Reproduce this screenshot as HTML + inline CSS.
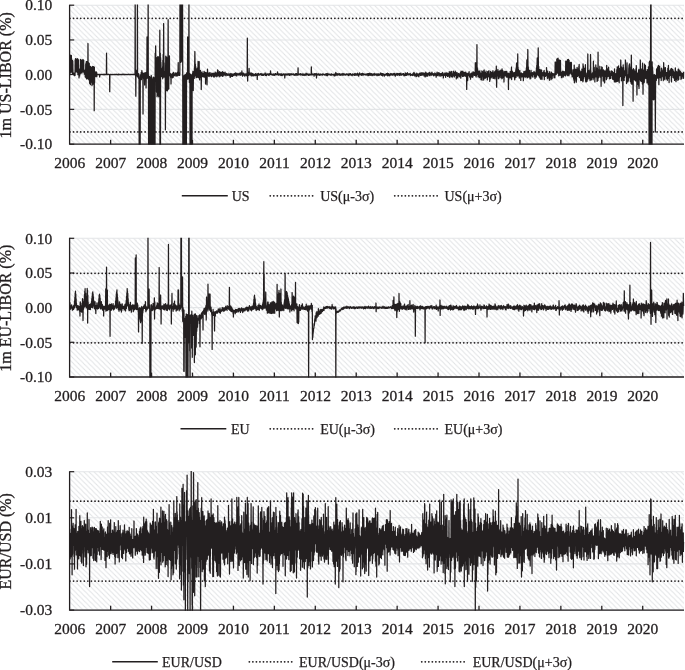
<!DOCTYPE html>
<html lang="en">
<head>
<meta charset="utf-8">
<title>LIBOR and EUR/USD daily changes</title>
<style>
html,body{margin:0;padding:0;background:#fff;}
body{width:685px;height:670px;overflow:hidden;}
svg{display:block;}
.t{font-family:"Liberation Serif", "DejaVu Serif", serif;font-size:15.5px;fill:#231f20;stroke:#231f20;stroke-width:0.3px;}
.y{font-family:"Liberation Serif", "DejaVu Serif", serif;font-size:16px;fill:#231f20;stroke:#231f20;stroke-width:0.3px;}
.l{font-family:"Liberation Serif", "DejaVu Serif", serif;font-size:14px;fill:#231f20;stroke:#231f20;stroke-width:0.25px;}
</style>
</head>
<body>
<svg width="685" height="670" viewBox="0 0 685 670">
<defs>
<pattern id="hatch" patternUnits="userSpaceOnUse" width="5.15" height="5.15" x="3.4" y="0">
<path d="M-1 -1L6.15 6.15M-1 4.15L1 6.15M4.15 -1L6.15 1" stroke="#e1e3e5" stroke-width="1.05" fill="none"/>
</pattern>
</defs>
<rect width="685" height="670" fill="#fff"/>
<g id="panel1">
<clipPath id="clip1"><rect x="69.6" y="4.60" width="615.40" height="140.20"/></clipPath>
<rect x="69.6" y="5.20" width="614.40" height="139.00" fill="url(#hatch)"/>
<line x1="69.6" x2="684.0" y1="5.20" y2="5.20" stroke="#e3e5e7" stroke-width="1.1"/>
<line x1="69.6" x2="684.0" y1="39.95" y2="39.95" stroke="#e3e5e7" stroke-width="1.1"/>
<line x1="69.6" x2="684.0" y1="74.50" y2="74.50" stroke="#e3e5e7" stroke-width="1.1"/>
<line x1="69.6" x2="684.0" y1="109.35" y2="109.35" stroke="#e3e5e7" stroke-width="1.1"/>
<line x1="69.6" x2="684.0" y1="144.20" y2="144.20" stroke="#e3e5e7" stroke-width="1.1"/>
<line x1="69.95" x2="682.80" y1="18.30" y2="18.30" stroke="#231f20" stroke-width="1.75" stroke-linecap="round" stroke-dasharray="0.01 3.57"/>
<line x1="69.95" x2="682.80" y1="131.90" y2="131.90" stroke="#231f20" stroke-width="1.75" stroke-linecap="round" stroke-dasharray="0.01 3.57"/>
<path d="M69.90 75.33L70.06 57.01L70.22 72.59L70.38 55.21L70.54 72.28L70.70 56.78L70.86 69.28L71.02 56.20L71.18 71.93L71.34 55.26L71.50 59.93L71.66 71.63L71.82 60.29L71.98 72.61L72.14 60.01L72.30 72.72L72.46 60.39L72.62 73.77L72.78 61.01L72.94 70.42L73.10 74.37L73.26 74.30L73.42 74.73L73.58 74.54L73.74 74.13L73.90 73.57L74.06 73.02L74.22 74.22L74.38 75.71L74.54 73.55L74.70 75.46L74.86 74.62L75.02 75.49L75.18 59.88L75.34 72.28L75.50 58.51L75.66 70.53L75.82 59.32L75.98 71.62L76.14 59.26L76.30 70.54L76.46 59.63L76.62 70.59L76.78 59.65L76.94 71.63L77.10 58.65L77.26 72.47L77.42 58.91L77.58 72.29L77.74 58.99L77.90 74.70L78.06 59.38L78.22 69.55L78.38 59.90L78.54 69.09L78.70 74.58L78.86 69.06L79.02 77.91L79.18 69.29L79.34 73.18L79.50 69.18L79.66 75.97L79.82 69.89L79.98 73.12L80.14 69.17L80.30 73.81L80.46 59.32L80.62 69.32L80.78 59.90L80.94 71.95L81.10 61.15L81.26 72.89L81.42 60.93L81.58 72.54L81.74 61.03L81.90 73.04L82.06 59.76L82.22 71.23L82.38 60.21L82.54 69.66L82.70 61.06L82.86 71.90L83.02 59.68L83.18 71.95L83.34 60.83L83.50 70.64L83.66 60.42L83.82 70.05L83.98 72.45L84.14 70.11L84.30 74.03L84.46 70.41L84.62 72.36L84.78 70.41L84.94 74.52L85.10 70.45L85.26 76.97L85.42 70.20L85.58 74.40L85.74 63.97L85.90 77.73L86.06 62.76L86.22 76.07L86.38 61.71L86.54 78.87L86.70 61.75L86.86 75.21L87.02 61.71L87.18 78.26L87.34 61.98L87.50 76.58L87.66 63.40L87.82 77.68L87.98 43.50L88.14 79.08L88.30 63.96L88.46 78.73L88.62 62.60L88.78 78.23L88.94 63.24L89.10 80.03L89.26 63.44L89.42 74.30L89.58 83.30L89.74 74.63L89.90 71.15L90.06 75.63L90.22 66.63L90.38 84.68L90.54 66.26L90.70 80.77L90.86 67.29L91.02 81.11L91.18 67.43L91.34 81.70L91.50 68.41L91.66 82.60L91.82 68.08L91.98 85.67L92.14 67.15L92.30 84.61L92.46 67.26L92.62 82.40L92.78 66.32L92.94 83.95L93.10 68.35L93.26 84.13L93.42 66.81L93.58 83.15L93.74 66.91L93.90 82.35L94.06 67.97L94.22 110.70L94.38 67.23L94.54 83.07L94.70 74.16L94.86 75.23L95.02 76.68L95.18 72.75L95.34 72.07L95.50 76.39L95.66 72.11L95.82 74.42L95.98 72.11L96.14 75.58L96.30 72.19L96.46 76.10L96.62 72.19L96.78 76.70L96.94 74.75L97.10 74.42L97.26 74.79L97.42 74.62L97.58 74.34L97.74 74.28L97.90 74.66L98.06 74.71L98.22 74.38L98.38 74.38L98.54 74.63L98.70 74.59L98.86 74.59L99.02 74.66L99.18 74.59L99.34 74.33L99.50 74.41L99.66 77.00L99.82 74.51L99.98 74.52L100.14 74.63L100.30 74.52L100.46 74.68L100.62 74.74L100.78 74.41L100.94 74.31L101.10 74.39L101.26 74.32L101.42 74.47L101.58 74.60L101.74 74.49L101.90 74.55L102.06 74.65L102.22 74.73L102.38 74.70L102.54 74.50L102.70 74.48L102.86 74.56L103.02 74.31L103.18 74.48L103.34 74.42L103.50 74.34L103.66 74.61L103.82 74.77L103.98 74.40L104.14 74.59L104.30 74.32L104.46 74.45L104.62 74.36L104.78 74.40L104.94 74.78L105.10 74.40L105.26 74.59L105.42 74.60L105.58 74.56L105.74 74.40L105.90 74.38L106.06 74.36L106.22 74.72L106.38 74.58L106.54 53.20L106.70 74.51L106.86 74.42L107.02 74.60L107.18 74.47L107.34 74.47L107.50 74.36L107.66 74.61L107.82 74.61L107.98 74.60L108.14 74.26L108.30 74.35L108.46 74.52L108.62 74.47L108.78 74.48L108.94 74.47L109.10 74.53L109.26 74.55L109.42 74.67L109.58 74.59L109.74 91.70L109.90 74.43L110.06 74.49L110.22 74.53L110.38 74.49L110.54 74.45L110.70 74.59L110.86 74.47L111.02 74.47L111.18 74.60L111.34 74.61L111.50 74.63L111.66 74.64L111.82 74.38L111.98 74.82L112.14 74.54L112.30 74.58L112.46 74.58L112.62 74.49L112.78 74.35L112.94 74.49L113.10 74.52L113.26 74.58L113.42 74.52L113.58 74.38L113.74 74.55L113.90 74.65L114.06 74.67L114.22 74.65L114.38 74.69L114.54 74.35L114.70 74.45L114.86 74.53L115.02 74.30L115.18 74.59L115.34 74.40L115.50 74.39L115.66 74.71L115.82 74.71L115.98 74.63L116.14 74.38L116.30 74.33L116.46 74.67L116.62 74.36L116.78 74.55L116.94 74.55L117.10 74.57L117.26 74.54L117.42 74.75L117.58 74.64L117.74 74.67L117.90 74.43L118.06 74.22L118.22 74.13L118.38 74.55L118.54 74.73L118.70 74.55L118.86 74.63L119.02 74.23L119.18 74.42L119.34 74.60L119.50 74.37L119.66 74.43L119.82 74.72L119.98 74.57L120.14 74.53L120.30 74.50L120.46 74.48L120.62 74.55L120.78 74.47L120.94 74.58L121.10 74.62L121.26 74.30L121.42 74.45L121.58 74.44L121.74 74.72L121.90 74.52L122.06 74.39L122.22 74.67L122.38 74.35L122.54 74.55L122.70 74.45L122.86 74.52L123.02 74.47L123.18 74.34L123.34 74.55L123.50 74.29L123.66 74.61L123.82 74.63L123.98 74.40L124.14 74.64L124.30 74.55L124.46 74.38L124.62 74.34L124.78 74.74L124.94 74.43L125.10 74.25L125.26 74.34L125.42 74.53L125.58 74.58L125.74 74.54L125.90 74.66L126.06 74.54L126.22 74.53L126.38 74.52L126.54 74.34L126.70 74.53L126.86 74.70L127.02 74.36L127.18 74.64L127.34 74.56L127.50 74.52L127.66 74.55L127.82 74.64L127.98 74.53L128.14 74.21L128.30 74.58L128.46 74.52L128.62 74.35L128.78 74.40L128.94 74.40L129.10 74.38L129.26 74.77L129.42 74.62L129.58 74.48L129.74 74.43L129.90 74.33L130.06 74.44L130.22 74.53L130.38 74.49L130.54 74.53L130.70 74.47L130.86 74.41L131.02 74.55L131.18 74.61L131.34 74.62L131.50 74.35L131.66 74.33L131.82 74.37L131.98 74.38L132.14 74.39L132.30 74.50L132.46 74.41L132.62 74.64L132.78 74.53L132.94 74.60L133.10 74.40L133.26 74.58L133.42 74.51L133.58 74.45L133.74 74.32L133.90 74.61L134.06 74.63L134.22 74.39L134.38 74.65L134.54 74.44L134.70 74.58L134.86 74.51L135.02 74.75L135.18 -6.80L135.34 74.57L135.50 74.87L135.66 73.13L135.82 96.20L135.98 70.14L136.14 73.95L136.30 75.13L136.46 74.35L136.62 72.33L136.78 74.55L136.94 73.89L137.10 73.80L137.26 76.18L137.42 -6.80L137.58 75.43L137.74 76.82L137.90 73.32L138.06 73.60L138.22 74.40L138.38 76.21L138.54 78.30L138.70 73.84L138.86 74.69L139.02 77.72L139.18 156.20L139.34 156.20L139.50 156.20L139.66 156.20L139.82 156.20L139.98 156.20L140.14 156.20L140.30 76.74L140.46 75.25L140.62 75.51L140.78 74.97L140.94 74.14L141.10 73.66L141.26 72.29L141.42 79.65L141.58 73.96L141.74 74.90L141.90 70.50L142.06 73.24L142.22 77.86L142.38 73.96L142.54 75.56L142.70 73.16L142.86 76.67L143.02 114.00L143.18 74.77L143.34 74.70L143.50 75.72L143.66 78.34L143.82 73.88L143.98 73.15L144.14 74.64L144.30 76.65L144.46 74.23L144.62 85.00L144.78 74.87L144.94 74.53L145.10 72.60L145.26 76.90L145.42 75.70L145.58 78.61L145.74 76.02L145.90 76.11L146.06 88.00L146.22 76.02L146.38 72.07L146.54 74.93L146.70 74.75L146.86 71.53L147.02 36.90L147.18 78.35L147.34 73.96L147.50 76.59L147.66 72.29L147.82 77.29L147.98 75.81L148.14 -6.80L148.30 74.37L148.46 76.81L148.62 156.20L148.78 76.72L148.94 156.20L149.10 77.09L149.26 156.20L149.42 76.46L149.58 156.20L149.74 79.10L149.90 156.20L150.06 79.39L150.22 156.20L150.38 77.31L150.54 156.20L150.70 77.01L150.86 156.20L151.02 75.96L151.18 156.20L151.34 75.56L151.50 156.20L151.66 77.12L151.82 156.20L151.98 77.57L152.14 156.20L152.30 80.28L152.46 156.20L152.62 80.05L152.78 156.20L152.94 80.58L153.10 156.20L153.26 78.56L153.42 156.20L153.58 77.19L153.74 156.20L153.90 78.73L154.06 156.20L154.22 79.53L154.38 156.20L154.54 77.54L154.70 156.20L154.86 80.05L155.02 156.20L155.18 53.42L155.34 77.40L155.50 55.94L155.66 45.90L155.82 58.54L155.98 76.29L156.14 61.50L156.30 59.14L156.46 91.63L156.62 58.80L156.78 92.52L156.94 57.70L157.10 96.69L157.26 58.74L157.42 95.43L157.58 56.89L157.74 94.78L157.90 56.67L158.06 92.33L158.22 56.73L158.38 91.15L158.54 61.17L158.70 96.79L158.86 58.10L159.02 76.00L159.18 76.73L159.34 67.92L159.50 73.52L159.66 61.11L159.82 30.20L159.98 156.20L160.14 76.69L160.30 53.05L160.46 156.20L160.62 57.64L160.78 76.62L160.94 62.49L161.10 76.29L161.26 68.28L161.42 76.36L161.58 76.00L161.74 71.51L161.90 75.04L162.06 75.36L162.22 76.00L162.38 77.22L162.54 66.90L162.70 78.82L162.86 60.29L163.02 74.00L163.18 54.37L163.34 75.15L163.50 50.16L163.66 23.50L163.82 56.29L163.98 77.27L164.14 62.89L164.30 76.10L164.46 71.25L164.62 73.53L164.78 74.57L164.94 74.64L165.10 75.92L165.26 72.04L165.42 129.80L165.58 74.04L165.74 56.06L165.90 90.40L166.06 59.28L166.22 86.27L166.38 59.79L166.54 86.40L166.70 57.15L166.86 90.67L167.02 59.80L167.18 87.40L167.34 58.52L167.50 90.80L167.66 58.99L167.82 89.15L167.98 56.92L168.14 19.70L168.30 56.93L168.46 89.15L168.62 58.95L168.78 88.76L168.94 59.15L169.10 72.66L169.26 73.39L169.42 55.80L169.58 75.19L169.74 75.73L169.90 73.35L170.06 74.18L170.22 73.25L170.38 74.59L170.54 77.31L170.70 73.87L170.86 74.19L171.02 83.90L171.18 76.35L171.34 74.39L171.50 75.46L171.66 75.45L171.82 74.02L171.98 74.02L172.14 75.70L172.30 76.78L172.46 77.77L172.62 75.25L172.78 73.04L172.94 74.57L173.10 77.38L173.26 75.59L173.42 73.97L173.58 72.41L173.74 73.05L173.90 74.05L174.06 74.26L174.22 75.78L174.38 75.04L174.54 74.90L174.70 75.41L174.86 74.43L175.02 74.95L175.18 74.11L175.34 72.87L175.50 73.67L175.66 74.03L175.82 74.77L175.98 76.16L176.14 74.62L176.30 73.92L176.46 75.57L176.62 73.18L176.78 74.85L176.94 74.12L177.10 74.84L177.26 75.77L177.42 72.43L177.58 75.65L177.74 73.60L177.90 75.04L178.06 74.23L178.22 62.60L178.38 74.89L178.54 73.64L178.70 72.71L178.86 75.27L179.02 74.49L179.18 73.63L179.34 75.12L179.50 73.81L179.66 75.34L179.82 73.89L179.98 -6.80L180.14 60.87L180.30 -6.80L180.46 62.05L180.62 -6.80L180.78 62.28L180.94 -6.80L181.10 61.97L181.26 -6.80L181.42 61.14L181.58 -6.80L181.74 58.49L181.90 -6.80L182.06 60.97L182.22 -6.80L182.38 60.67L182.54 -6.80L182.70 60.64L182.86 156.20L183.02 78.00L183.18 156.20L183.34 77.70L183.50 156.20L183.66 79.74L183.82 156.20L183.98 75.63L184.14 156.20L184.30 79.75L184.46 156.20L184.62 75.46L184.78 156.20L184.94 78.02L185.10 156.20L185.26 74.48L185.42 156.20L185.58 78.34L185.74 156.20L185.90 78.15L186.06 156.20L186.22 74.55L186.38 156.20L186.54 75.06L186.70 72.89L186.86 75.90L187.02 73.25L187.18 78.00L187.34 72.48L187.50 78.32L187.66 36.90L187.82 79.28L187.98 71.93L188.14 75.49L188.30 78.59L188.46 75.12L188.62 73.86L188.78 77.09L188.94 -6.80L189.10 73.99L189.26 74.94L189.42 82.44L189.58 75.61L189.74 73.68L189.90 73.93L190.06 156.20L190.22 75.09L190.38 156.20L190.54 74.69L190.70 156.20L190.86 77.15L191.02 156.20L191.18 74.96L191.34 156.20L191.50 78.37L191.66 156.20L191.82 74.84L191.98 156.20L192.14 75.78L192.30 74.28L192.46 73.94L192.62 73.21L192.78 74.21L192.94 71.30L193.10 75.96L193.26 90.60L193.42 73.84L193.58 72.98L193.74 76.00L193.90 73.04L194.06 71.71L194.22 78.45L194.38 67.83L194.54 76.83L194.70 64.73L194.86 51.50L195.02 61.57L195.18 75.65L195.34 64.09L195.50 73.68L195.66 66.38L195.82 75.83L195.98 69.62L196.14 77.75L196.30 73.37L196.46 74.94L196.62 77.30L196.78 74.99L196.94 75.60L197.10 68.01L197.26 75.45L197.42 75.94L197.58 72.05L197.74 74.33L197.90 77.36L198.06 61.50L198.22 75.22L198.38 77.56L198.54 73.79L198.70 73.42L198.86 75.27L199.02 72.95L199.18 61.50L199.34 76.50L199.50 79.16L199.66 79.91L199.82 74.79L199.98 71.73L200.14 72.25L200.30 71.40L200.46 70.38L200.62 74.46L200.78 72.18L200.94 77.84L201.10 73.00L201.26 89.50L201.42 74.70L201.58 75.45L201.74 76.88L201.90 74.20L202.06 71.80L202.22 75.27L202.38 73.39L202.54 75.88L202.70 73.97L202.86 76.57L203.02 73.73L203.18 74.94L203.34 73.86L203.50 75.72L203.66 76.86L203.82 75.15L203.98 72.45L204.14 71.39L204.30 75.14L204.46 72.94L204.62 73.03L204.78 73.74L204.94 77.47L205.10 73.88L205.26 76.34L205.42 72.28L205.58 84.00L205.74 73.35L205.90 79.20L206.06 73.36L206.22 73.22L206.38 76.82L206.54 72.75L206.70 74.36L206.86 74.83L207.02 84.80L207.18 76.30L207.34 75.26L207.50 69.12L207.66 74.15L207.82 74.14L207.98 75.61L208.14 75.55L208.30 75.43L208.46 75.99L208.62 73.04L208.78 74.95L208.94 73.07L209.10 76.39L209.26 72.99L209.42 74.54L209.58 73.43L209.74 74.67L209.90 75.90L210.06 72.60L210.22 75.18L210.38 74.73L210.54 75.88L210.70 74.18L210.86 75.10L211.02 74.07L211.18 73.97L211.34 75.55L211.50 76.64L211.66 73.85L211.82 73.12L211.98 73.46L212.14 76.21L212.30 73.60L212.46 73.93L212.62 74.08L212.78 73.87L212.94 74.97L213.10 74.19L213.26 73.15L213.42 75.23L213.58 76.57L213.74 74.65L213.90 74.22L214.06 77.12L214.22 75.46L214.38 73.67L214.54 74.71L214.70 74.37L214.86 76.25L215.02 73.24L215.18 72.08L215.34 74.77L215.50 75.50L215.66 76.08L215.82 73.29L215.98 74.36L216.14 75.57L216.30 72.88L216.46 73.48L216.62 73.70L216.78 76.82L216.94 74.64L217.10 73.68L217.26 76.10L217.42 73.30L217.58 69.90L217.74 73.17L217.90 75.42L218.06 70.30L218.22 73.31L218.38 73.25L218.54 72.96L218.70 73.00L218.86 74.62L219.02 75.01L219.18 76.78L219.34 73.54L219.50 71.73L219.66 75.06L219.82 75.07L219.98 73.72L220.14 74.05L220.30 76.13L220.46 75.35L220.62 75.79L220.78 72.13L220.94 75.34L221.10 73.51L221.26 72.29L221.42 72.33L221.58 72.87L221.74 72.65L221.90 75.89L222.06 74.89L222.22 75.31L222.38 74.82L222.54 71.59L222.70 76.36L222.86 73.88L223.02 75.86L223.18 73.03L223.34 73.08L223.50 75.06L223.66 72.26L223.82 74.42L223.98 73.10L224.14 74.17L224.30 75.10L224.46 74.90L224.62 74.63L224.78 73.85L224.94 74.37L225.10 72.03L225.26 74.70L225.42 74.99L225.58 75.24L225.74 75.30L225.90 75.98L226.06 75.51L226.22 73.58L226.38 74.44L226.54 74.67L226.70 74.15L226.86 73.43L227.02 73.88L227.18 73.73L227.34 75.05L227.50 74.76L227.66 75.26L227.82 74.59L227.98 75.30L228.14 74.86L228.30 74.67L228.46 74.71L228.62 74.76L228.78 74.97L228.94 73.25L229.10 74.82L229.26 75.45L229.42 74.32L229.58 75.52L229.74 75.50L229.90 74.42L230.06 76.04L230.22 77.46L230.38 74.24L230.54 73.56L230.70 76.02L230.86 75.31L231.02 73.98L231.18 76.28L231.34 75.28L231.50 75.57L231.66 74.68L231.82 76.24L231.98 73.72L232.14 74.63L232.30 74.24L232.46 74.78L232.62 76.32L232.78 74.63L232.94 75.64L233.10 74.49L233.26 75.22L233.42 74.77L233.58 74.68L233.74 73.86L233.90 73.87L234.06 75.33L234.22 74.51L234.38 73.31L234.54 74.10L234.70 75.09L234.86 74.60L235.02 74.78L235.18 73.75L235.34 74.47L235.50 74.20L235.66 72.77L235.82 75.57L235.98 75.29L236.14 75.84L236.30 75.72L236.46 73.85L236.62 74.28L236.78 73.27L236.94 75.98L237.10 75.16L237.26 73.43L237.42 73.74L237.58 73.85L237.74 73.86L237.90 74.48L238.06 74.51L238.22 74.48L238.38 73.90L238.54 74.62L238.70 74.27L238.86 73.48L239.02 75.29L239.18 75.02L239.34 74.11L239.50 74.68L239.66 74.61L239.82 73.07L239.98 74.22L240.14 74.78L240.30 73.75L240.46 72.77L240.62 75.26L240.78 74.96L240.94 74.42L241.10 74.95L241.26 72.97L241.42 74.13L241.58 74.78L241.74 74.15L241.90 70.90L242.06 74.94L242.22 74.42L242.38 72.76L242.54 76.15L242.70 74.19L242.86 73.50L243.02 73.95L243.18 73.06L243.34 74.16L243.50 74.39L243.66 74.60L243.82 75.15L243.98 73.25L244.14 75.41L244.30 74.60L244.46 74.91L244.62 75.11L244.78 76.24L244.94 74.80L245.10 74.39L245.26 74.39L245.42 73.83L245.58 74.63L245.74 75.02L245.90 74.25L246.06 73.96L246.22 75.24L246.38 75.74L246.54 75.34L246.70 73.63L246.86 73.67L247.02 75.24L247.18 74.41L247.34 38.20L247.50 73.38L247.66 81.10L247.82 74.70L247.98 73.30L248.14 72.43L248.30 73.18L248.46 75.49L248.62 74.11L248.78 74.76L248.94 74.55L249.10 68.40L249.26 74.92L249.42 74.51L249.58 72.89L249.74 73.87L249.90 74.12L250.06 74.48L250.22 75.17L250.38 74.70L250.54 73.41L250.70 73.77L250.86 72.79L251.02 74.27L251.18 74.52L251.34 75.88L251.50 74.16L251.66 75.95L251.82 73.23L251.98 75.02L252.14 74.50L252.30 75.60L252.46 74.90L252.62 75.25L252.78 73.60L252.94 74.30L253.10 75.43L253.26 76.01L253.42 74.55L253.58 74.88L253.74 75.35L253.90 74.05L254.06 74.64L254.22 74.42L254.38 74.94L254.54 74.92L254.70 74.84L254.86 75.66L255.02 74.05L255.18 74.21L255.34 75.72L255.50 74.43L255.66 73.70L255.82 74.34L255.98 73.61L256.14 74.68L256.30 74.50L256.46 75.37L256.62 75.10L256.78 75.70L256.94 75.08L257.10 74.34L257.26 79.50L257.42 73.76L257.58 74.42L257.74 75.12L257.90 74.23L258.06 74.59L258.22 73.42L258.38 73.33L258.54 73.93L258.70 75.17L258.86 74.81L259.02 74.39L259.18 74.91L259.34 74.20L259.50 74.12L259.66 74.04L259.82 74.38L259.98 74.98L260.14 74.95L260.30 74.57L260.46 73.78L260.62 73.65L260.78 73.97L260.94 74.30L261.10 74.14L261.26 74.06L261.42 73.80L261.58 74.04L261.74 75.33L261.90 73.99L262.06 74.29L262.22 74.75L262.38 74.22L262.54 74.35L262.70 74.53L262.86 75.41L263.02 74.44L263.18 74.20L263.34 74.53L263.50 75.35L263.66 74.25L263.82 74.11L263.98 74.40L264.14 74.27L264.30 74.69L264.46 74.85L264.62 74.22L264.78 74.69L264.94 74.40L265.10 72.76L265.26 74.12L265.42 74.43L265.58 75.37L265.74 74.45L265.90 74.10L266.06 74.88L266.22 74.63L266.38 75.70L266.54 74.20L266.70 74.82L266.86 74.14L267.02 73.77L267.18 74.59L267.34 73.98L267.50 74.37L267.66 74.61L267.82 74.65L267.98 74.95L268.14 73.82L268.30 74.03L268.46 75.03L268.62 74.05L268.78 74.89L268.94 75.30L269.10 73.86L269.26 75.18L269.42 73.87L269.58 74.39L269.74 74.02L269.90 74.23L270.06 73.89L270.22 74.32L270.38 74.19L270.54 70.90L270.70 73.92L270.86 74.71L271.02 73.96L271.18 73.71L271.34 74.53L271.50 74.27L271.66 74.77L271.82 74.65L271.98 74.36L272.14 74.68L272.30 74.97L272.46 74.52L272.62 74.40L272.78 74.33L272.94 74.13L273.10 75.43L273.26 73.76L273.42 74.59L273.58 74.91L273.74 74.69L273.90 74.27L274.06 74.04L274.22 74.69L274.38 74.42L274.54 75.34L274.70 74.41L274.86 74.56L275.02 74.73L275.18 74.04L275.34 73.56L275.50 73.96L275.66 74.91L275.82 73.70L275.98 74.67L276.14 74.52L276.30 74.80L276.46 74.26L276.62 74.21L276.78 74.42L276.94 74.61L277.10 74.57L277.26 74.71L277.42 73.99L277.58 71.90L277.74 74.58L277.90 74.61L278.06 74.89L278.22 74.62L278.38 75.26L278.54 74.29L278.70 74.22L278.86 74.66L279.02 73.70L279.18 74.92L279.34 74.21L279.50 74.25L279.66 74.78L279.82 74.62L279.98 74.04L280.14 74.47L280.30 74.35L280.46 73.78L280.62 74.39L280.78 75.36L280.94 74.88L281.10 74.07L281.26 74.57L281.42 75.05L281.58 75.52L281.74 74.33L281.90 73.73L282.06 75.14L282.22 75.61L282.38 74.25L282.54 74.78L282.70 74.65L282.86 74.67L283.02 74.96L283.18 74.27L283.34 74.03L283.50 74.31L283.66 74.78L283.82 73.97L283.98 74.56L284.14 74.20L284.30 74.98L284.46 74.17L284.62 74.12L284.78 78.00L284.94 74.49L285.10 74.27L285.26 74.79L285.42 74.05L285.58 74.11L285.74 73.95L285.90 74.70L286.06 75.12L286.22 74.53L286.38 74.60L286.54 74.88L286.70 74.19L286.86 74.02L287.02 74.30L287.18 73.94L287.34 74.30L287.50 74.99L287.66 74.79L287.82 74.68L287.98 74.15L288.14 74.04L288.30 74.43L288.46 73.99L288.62 74.91L288.78 74.56L288.94 73.75L289.10 74.28L289.26 73.97L289.42 75.44L289.58 75.34L289.74 74.93L289.90 74.00L290.06 73.69L290.22 74.81L290.38 74.99L290.54 75.01L290.70 74.94L290.86 74.22L291.02 74.66L291.18 73.56L291.34 74.14L291.50 74.84L291.66 74.38L291.82 74.58L291.98 74.11L292.14 74.05L292.30 74.67L292.46 74.06L292.62 74.22L292.78 74.54L292.94 74.37L293.10 74.16L293.26 74.66L293.42 74.83L293.58 73.87L293.74 74.50L293.90 74.79L294.06 74.27L294.22 75.23L294.38 74.47L294.54 75.17L294.70 74.71L294.86 75.38L295.02 74.85L295.18 74.06L295.34 74.59L295.50 75.10L295.66 73.64L295.82 74.81L295.98 73.77L296.14 74.76L296.30 75.22L296.46 73.59L296.62 74.71L296.78 74.13L296.94 73.91L297.10 75.14L297.26 74.46L297.42 74.78L297.58 74.20L297.74 74.50L297.90 75.11L298.06 67.80L298.22 74.12L298.38 74.64L298.54 74.22L298.70 74.76L298.86 74.52L299.02 74.33L299.18 74.43L299.34 73.88L299.50 74.04L299.66 74.09L299.82 74.15L299.98 74.42L300.14 75.06L300.30 73.98L300.46 73.65L300.62 74.39L300.78 74.62L300.94 74.51L301.10 73.91L301.26 74.36L301.42 74.97L301.58 74.58L301.74 74.87L301.90 74.59L302.06 74.93L302.22 74.92L302.38 73.78L302.54 73.99L302.70 75.27L302.86 74.97L303.02 74.71L303.18 74.68L303.34 75.16L303.50 74.07L303.66 75.27L303.82 74.16L303.98 74.16L304.14 74.67L304.30 74.81L304.46 74.47L304.62 74.43L304.78 75.50L304.94 75.10L305.10 74.24L305.26 74.55L305.42 74.69L305.58 74.97L305.74 74.83L305.90 74.86L306.06 73.16L306.22 75.09L306.38 73.76L306.54 74.27L306.70 74.39L306.86 74.40L307.02 74.68L307.18 73.73L307.34 74.25L307.50 74.51L307.66 74.55L307.82 74.40L307.98 75.04L308.14 74.65L308.30 74.79L308.46 74.20L308.62 74.21L308.78 75.38L308.94 74.60L309.10 74.03L309.26 75.11L309.42 75.06L309.58 74.02L309.74 74.56L309.90 74.71L310.06 75.07L310.22 74.42L310.38 74.76L310.54 74.40L310.70 74.30L310.86 74.16L311.02 74.65L311.18 74.74L311.34 66.80L311.50 74.54L311.66 74.41L311.82 74.75L311.98 74.61L312.14 74.77L312.30 74.77L312.46 74.42L312.62 73.95L312.78 74.75L312.94 74.22L313.10 74.33L313.26 74.44L313.42 74.18L313.58 74.76L313.74 74.23L313.90 74.36L314.06 76.10L314.22 74.33L314.38 74.22L314.54 73.58L314.70 74.99L314.86 74.45L315.02 74.33L315.18 74.95L315.34 73.93L315.50 74.29L315.66 74.87L315.82 75.06L315.98 74.69L316.14 73.39L316.30 73.49L316.46 78.00L316.62 75.35L316.78 74.18L316.94 74.55L317.10 74.79L317.26 74.21L317.42 74.45L317.58 74.36L317.74 74.37L317.90 75.00L318.06 73.88L318.22 74.71L318.38 73.97L318.54 74.18L318.70 74.48L318.86 74.43L319.02 74.52L319.18 75.35L319.34 74.65L319.50 74.30L319.66 75.24L319.82 75.19L319.98 74.00L320.14 74.12L320.30 75.21L320.46 74.28L320.62 74.52L320.78 74.04L320.94 74.65L321.10 74.60L321.26 74.84L321.42 74.41L321.58 74.56L321.74 74.80L321.90 74.66L322.06 74.84L322.22 74.21L322.38 74.97L322.54 75.21L322.70 74.94L322.86 74.00L323.02 74.73L323.18 74.20L323.34 74.16L323.50 74.73L323.66 74.15L323.82 74.26L323.98 74.52L324.14 74.82L324.30 74.53L324.46 75.09L324.62 74.62L324.78 74.76L324.94 74.30L325.10 74.34L325.26 74.79L325.42 74.10L325.58 73.95L325.74 74.47L325.90 74.84L326.06 74.27L326.22 75.62L326.38 74.77L326.54 74.23L326.70 73.58L326.86 74.84L327.02 73.80L327.18 73.43L327.34 73.63L327.50 75.58L327.66 73.99L327.82 74.41L327.98 74.03L328.14 74.58L328.30 74.78L328.46 74.60L328.62 73.81L328.78 74.11L328.94 74.63L329.10 74.32L329.26 74.10L329.42 74.24L329.58 74.52L329.74 74.80L329.90 74.84L330.06 74.70L330.22 74.75L330.38 75.22L330.54 75.14L330.70 74.10L330.86 75.01L331.02 75.10L331.18 74.52L331.34 73.84L331.50 73.92L331.66 74.69L331.82 74.97L331.98 74.74L332.14 74.91L332.30 74.75L332.46 74.28L332.62 74.98L332.78 74.85L332.94 74.62L333.10 74.51L333.26 74.85L333.42 74.86L333.58 75.01L333.74 74.84L333.90 74.26L334.06 74.61L334.22 75.91L334.38 74.22L334.54 74.53L334.70 74.89L334.86 74.61L335.02 75.87L335.18 75.25L335.34 73.97L335.50 73.53L335.66 73.51L335.82 72.40L335.98 74.48L336.14 74.15L336.30 75.05L336.46 73.71L336.62 74.83L336.78 74.34L336.94 75.02L337.10 74.33L337.26 74.51L337.42 74.01L337.58 75.02L337.74 74.50L337.90 73.68L338.06 75.04L338.22 74.34L338.38 74.30L338.54 74.72L338.70 74.62L338.86 73.86L339.02 73.99L339.18 74.24L339.34 74.38L339.50 75.01L339.66 74.46L339.82 73.69L339.98 74.03L340.14 75.11L340.30 75.43L340.46 74.80L340.62 74.42L340.78 74.75L340.94 74.64L341.10 74.34L341.26 74.09L341.42 74.40L341.58 73.93L341.74 75.15L341.90 74.29L342.06 74.31L342.22 75.18L342.38 73.93L342.54 75.23L342.70 75.17L342.86 73.27L343.02 73.90L343.18 74.33L343.34 73.87L343.50 73.97L343.66 75.02L343.82 74.27L343.98 73.85L344.14 74.57L344.30 74.47L344.46 74.72L344.62 74.16L344.78 74.76L344.94 74.78L345.10 75.08L345.26 74.94L345.42 74.40L345.58 74.28L345.74 74.68L345.90 75.00L346.06 74.34L346.22 74.33L346.38 73.89L346.54 74.74L346.70 74.70L346.86 74.25L347.02 73.77L347.18 74.52L347.34 74.54L347.50 74.95L347.66 74.68L347.82 74.04L347.98 74.09L348.14 73.96L348.30 75.29L348.46 74.09L348.62 74.95L348.78 74.21L348.94 75.65L349.10 74.55L349.26 74.93L349.42 73.88L349.58 74.44L349.74 73.86L349.90 74.71L350.06 73.53L350.22 74.72L350.38 73.57L350.54 74.74L350.70 74.98L350.86 74.06L351.02 74.70L351.18 74.53L351.34 75.17L351.50 74.67L351.66 74.44L351.82 74.85L351.98 74.30L352.14 75.65L352.30 74.05L352.46 74.70L352.62 73.76L352.78 74.68L352.94 74.83L353.10 74.73L353.26 74.36L353.42 74.20L353.58 74.73L353.74 74.90L353.90 74.28L354.06 74.08L354.22 75.39L354.38 75.03L354.54 74.84L354.70 73.63L354.86 73.87L355.02 74.09L355.18 74.25L355.34 75.07L355.50 73.92L355.66 74.73L355.82 74.91L355.98 73.50L356.14 75.25L356.30 73.78L356.46 74.39L356.62 74.98L356.78 74.41L356.94 74.94L357.10 74.40L357.26 74.83L357.42 75.12L357.58 73.11L357.74 74.76L357.90 73.98L358.06 74.52L358.22 74.14L358.38 75.16L358.54 75.05L358.70 76.22L358.86 73.97L359.02 74.26L359.18 75.12L359.34 74.06L359.50 74.18L359.66 72.95L359.82 74.37L359.98 74.01L360.14 74.17L360.30 74.09L360.46 74.51L360.62 74.72L360.78 74.12L360.94 73.84L361.10 75.12L361.26 75.11L361.42 74.52L361.58 73.53L361.74 74.61L361.90 75.41L362.06 74.06L362.22 74.09L362.38 73.45L362.54 74.40L362.70 73.43L362.86 74.89L363.02 74.01L363.18 74.42L363.34 75.15L363.50 74.65L363.66 73.77L363.82 73.89L363.98 74.70L364.14 73.89L364.30 74.00L364.46 74.01L364.62 74.34L364.78 74.33L364.94 74.95L365.10 74.53L365.26 74.43L365.42 74.90L365.58 74.66L365.74 74.41L365.90 74.38L366.06 73.91L366.22 75.07L366.38 74.72L366.54 74.35L366.70 74.71L366.86 74.31L367.02 74.76L367.18 73.84L367.34 74.63L367.50 75.13L367.66 74.08L367.82 73.56L367.98 75.58L368.14 74.57L368.30 74.46L368.46 73.92L368.62 73.65L368.78 74.59L368.94 75.38L369.10 74.12L369.26 73.93L369.42 74.23L369.58 74.45L369.74 74.96L369.90 73.11L370.06 75.18L370.22 75.36L370.38 73.94L370.54 74.33L370.70 74.11L370.86 74.29L371.02 73.53L371.18 73.68L371.34 74.81L371.50 73.92L371.66 75.17L371.82 75.48L371.98 73.80L372.14 74.74L372.30 75.74L372.46 74.51L372.62 74.88L372.78 74.20L372.94 74.53L373.10 74.94L373.26 74.91L373.42 74.05L373.58 75.04L373.74 74.42L373.90 75.07L374.06 74.23L374.22 73.45L374.38 74.16L374.54 73.84L374.70 74.23L374.86 75.06L375.02 74.67L375.18 74.45L375.34 74.24L375.50 74.85L375.66 74.13L375.82 74.92L375.98 74.46L376.14 74.50L376.30 75.18L376.46 73.90L376.62 74.47L376.78 74.43L376.94 74.51L377.10 75.75L377.26 75.33L377.42 75.03L377.58 73.90L377.74 74.84L377.90 74.13L378.06 75.11L378.22 75.00L378.38 74.78L378.54 73.86L378.70 75.49L378.86 74.60L379.02 74.25L379.18 74.41L379.34 74.51L379.50 74.03L379.66 74.32L379.82 75.11L379.98 74.11L380.14 74.97L380.30 74.70L380.46 73.61L380.62 73.01L380.78 73.61L380.94 74.24L381.10 74.97L381.26 74.96L381.42 73.48L381.58 74.29L381.74 75.34L381.90 73.53L382.06 74.14L382.22 73.69L382.38 74.25L382.54 75.82L382.70 74.95L382.86 74.58L383.02 74.60L383.18 73.56L383.34 74.91L383.50 74.56L383.66 74.53L383.82 74.55L383.98 75.14L384.14 75.26L384.30 76.10L384.46 74.29L384.62 74.62L384.78 74.37L384.94 75.15L385.10 74.49L385.26 75.10L385.42 75.13L385.58 74.29L385.74 74.10L385.90 74.13L386.06 74.52L386.22 74.74L386.38 73.62L386.54 73.71L386.70 74.90L386.86 75.18L387.02 74.26L387.18 74.29L387.34 75.07L387.50 73.05L387.66 75.82L387.82 75.03L387.98 74.34L388.14 73.87L388.30 75.68L388.46 74.77L388.62 73.58L388.78 73.60L388.94 74.66L389.10 74.47L389.26 75.06L389.42 74.24L389.58 75.17L389.74 75.80L389.90 75.47L390.06 74.46L390.22 75.35L390.38 73.78L390.54 73.67L390.70 73.85L390.86 74.07L391.02 73.76L391.18 74.32L391.34 73.93L391.50 74.19L391.66 73.99L391.82 75.16L391.98 74.92L392.14 75.15L392.30 73.96L392.46 74.17L392.62 75.01L392.78 75.14L392.94 74.87L393.10 73.93L393.26 74.57L393.42 74.65L393.58 74.95L393.74 74.57L393.90 73.45L394.06 74.95L394.22 74.73L394.38 73.38L394.54 74.02L394.70 75.25L394.86 73.78L395.02 75.33L395.18 74.13L395.34 76.17L395.50 75.16L395.66 73.89L395.82 74.89L395.98 74.98L396.14 74.46L396.30 74.49L396.46 74.81L396.62 74.95L396.78 73.29L396.94 73.50L397.10 74.28L397.26 75.27L397.42 74.85L397.58 74.69L397.74 74.17L397.90 73.42L398.06 74.85L398.22 74.40L398.38 74.78L398.54 74.40L398.70 74.96L398.86 74.24L399.02 73.71L399.18 74.76L399.34 74.72L399.50 74.42L399.66 75.39L399.82 73.27L399.98 75.41L400.14 74.74L400.30 75.10L400.46 73.47L400.62 74.83L400.78 74.84L400.94 73.19L401.10 74.58L401.26 75.03L401.42 74.50L401.58 74.36L401.74 75.02L401.90 74.62L402.06 74.64L402.22 73.99L402.38 73.95L402.54 73.91L402.70 74.58L402.86 73.93L403.02 74.65L403.18 73.67L403.34 74.21L403.50 74.80L403.66 73.61L403.82 75.58L403.98 75.19L404.14 75.07L404.30 74.59L404.46 75.39L404.62 75.37L404.78 75.87L404.94 74.41L405.10 75.06L405.26 72.89L405.42 73.93L405.58 75.34L405.74 73.52L405.90 74.42L406.06 73.70L406.22 75.32L406.38 73.63L406.54 73.67L406.70 74.81L406.86 75.13L407.02 74.78L407.18 74.30L407.34 72.68L407.50 73.13L407.66 73.36L407.82 74.66L407.98 74.74L408.14 74.21L408.30 74.70L408.46 74.85L408.62 74.65L408.78 73.84L408.94 74.55L409.10 74.31L409.26 74.70L409.42 74.64L409.58 74.75L409.74 73.51L409.90 74.31L410.06 73.33L410.22 74.63L410.38 73.66L410.54 75.58L410.70 74.81L410.86 74.54L411.02 75.00L411.18 74.59L411.34 75.23L411.50 74.62L411.66 75.03L411.82 74.50L411.98 74.73L412.14 75.30L412.30 74.82L412.46 74.47L412.62 75.52L412.78 74.42L412.94 73.48L413.10 74.68L413.26 74.05L413.42 73.99L413.58 75.15L413.74 73.41L413.90 72.43L414.06 75.34L414.22 72.73L414.38 75.08L414.54 73.29L414.70 75.99L414.86 73.55L415.02 74.38L415.18 75.56L415.34 75.18L415.50 75.37L415.66 75.25L415.82 74.18L415.98 74.64L416.14 76.61L416.30 74.76L416.46 74.10L416.62 74.42L416.78 73.06L416.94 76.06L417.10 74.29L417.26 74.47L417.42 73.88L417.58 75.64L417.74 75.62L417.90 74.64L418.06 74.43L418.22 76.06L418.38 74.18L418.54 74.50L418.70 73.86L418.86 76.77L419.02 74.06L419.18 75.27L419.34 74.91L419.50 73.81L419.66 73.01L419.82 74.36L419.98 74.59L420.14 73.34L420.30 75.29L420.46 74.63L420.62 74.94L420.78 75.37L420.94 74.32L421.10 72.67L421.26 74.27L421.42 74.05L421.58 74.52L421.74 73.48L421.90 74.33L422.06 75.29L422.22 74.40L422.38 73.19L422.54 74.57L422.70 73.40L422.86 74.56L423.02 72.64L423.18 74.24L423.34 73.89L423.50 74.76L423.66 73.72L423.82 74.70L423.98 75.86L424.14 74.21L424.30 75.61L424.46 73.12L424.62 73.76L424.78 74.48L424.94 73.85L425.10 76.92L425.26 73.06L425.42 75.10L425.58 73.86L425.74 72.08L425.90 76.02L426.06 74.88L426.22 74.17L426.38 74.09L426.54 76.10L426.70 75.38L426.86 73.08L427.02 75.07L427.18 73.96L427.34 75.80L427.50 75.37L427.66 76.24L427.82 74.23L427.98 73.38L428.14 74.40L428.30 74.76L428.46 74.26L428.62 74.04L428.78 74.78L428.94 73.95L429.10 72.59L429.26 72.32L429.42 75.05L429.58 75.73L429.74 72.61L429.90 73.53L430.06 73.29L430.22 73.90L430.38 74.72L430.54 73.52L430.70 73.38L430.86 73.32L431.02 75.57L431.18 73.47L431.34 74.84L431.50 74.85L431.66 74.14L431.82 74.84L431.98 72.16L432.14 73.92L432.30 74.22L432.46 74.68L432.62 74.24L432.78 74.72L432.94 73.90L433.10 73.61L433.26 73.64L433.42 75.77L433.58 74.83L433.74 74.40L433.90 75.74L434.06 74.10L434.22 74.64L434.38 74.43L434.54 74.10L434.70 75.13L434.86 72.88L435.02 73.42L435.18 75.06L435.34 74.01L435.50 73.72L435.66 75.29L435.82 74.86L435.98 73.76L436.14 77.19L436.30 75.87L436.46 74.14L436.62 73.84L436.78 75.46L436.94 73.58L437.10 72.15L437.26 74.27L437.42 74.53L437.58 74.41L437.74 75.57L437.90 73.90L438.06 74.30L438.22 73.69L438.38 72.96L438.54 74.45L438.70 74.29L438.86 74.14L439.02 72.62L439.18 76.06L439.34 74.49L439.50 75.17L439.66 74.35L439.82 73.59L439.98 74.41L440.14 73.69L440.30 74.28L440.46 75.27L440.62 75.22L440.78 76.02L440.94 74.24L441.10 74.93L441.26 73.54L441.42 73.40L441.58 75.49L441.74 75.72L441.90 73.80L442.06 75.49L442.22 74.25L442.38 73.78L442.54 74.93L442.70 72.41L442.86 75.39L443.02 73.99L443.18 74.97L443.34 77.89L443.50 74.69L443.66 74.67L443.82 73.79L443.98 74.65L444.14 75.37L444.30 75.11L444.46 74.86L444.62 73.56L444.78 74.82L444.94 72.97L445.10 73.43L445.26 75.40L445.42 73.20L445.58 77.31L445.74 74.45L445.90 75.72L446.06 74.61L446.22 73.03L446.38 74.48L446.54 74.70L446.70 72.85L446.86 75.46L447.02 75.55L447.18 73.23L447.34 73.69L447.50 76.34L447.66 74.29L447.82 73.46L447.98 74.70L448.14 75.02L448.30 74.30L448.46 74.20L448.62 75.42L448.78 73.36L448.94 76.60L449.10 74.58L449.26 71.59L449.42 75.92L449.58 74.54L449.74 77.59L449.90 75.62L450.06 76.07L450.22 74.40L450.38 75.17L450.54 71.93L450.70 75.77L450.86 74.52L451.02 74.18L451.18 73.58L451.34 73.22L451.50 76.70L451.66 71.37L451.82 74.92L451.98 75.51L452.14 76.85L452.30 75.12L452.46 77.05L452.62 74.22L452.78 75.36L452.94 74.01L453.10 75.64L453.26 74.38L453.42 71.21L453.58 72.76L453.74 74.25L453.90 75.95L454.06 72.31L454.22 77.02L454.38 76.60L454.54 72.54L454.70 75.39L454.86 72.44L455.02 73.62L455.18 71.17L455.34 71.76L455.50 73.59L455.66 75.45L455.82 73.57L455.98 72.32L456.14 74.27L456.30 78.99L456.46 75.08L456.62 75.06L456.78 74.58L456.94 75.04L457.10 72.69L457.26 76.49L457.42 73.79L457.58 77.65L457.74 77.96L457.90 76.11L458.06 75.69L458.22 75.93L458.38 75.62L458.54 73.50L458.70 73.55L458.86 74.36L459.02 74.17L459.18 75.63L459.34 76.11L459.50 76.83L459.66 75.18L459.82 76.37L459.98 75.03L460.14 73.29L460.30 73.58L460.46 72.27L460.62 76.06L460.78 78.19L460.94 76.37L461.10 71.12L461.26 73.31L461.42 75.24L461.58 72.24L461.74 75.20L461.90 71.63L462.06 75.19L462.22 75.20L462.38 73.29L462.54 76.48L462.70 74.78L462.86 71.12L463.02 73.73L463.18 76.43L463.34 74.94L463.50 74.55L463.66 75.83L463.82 73.77L463.98 72.28L464.14 74.41L464.30 72.92L464.46 73.97L464.62 74.25L464.78 75.85L464.94 72.76L465.10 72.06L465.26 75.31L465.42 76.09L465.58 73.55L465.74 74.31L465.90 72.45L466.06 73.60L466.22 74.74L466.38 77.04L466.54 73.36L466.70 89.40L466.86 76.83L467.02 77.24L467.18 77.87L467.34 73.35L467.50 75.31L467.66 80.66L467.82 76.13L467.98 75.69L468.14 74.71L468.30 74.44L468.46 75.14L468.62 73.11L468.78 72.58L468.94 74.92L469.10 71.53L469.26 74.74L469.42 76.14L469.58 74.21L469.74 77.22L469.90 75.07L470.06 76.52L470.22 75.32L470.38 74.13L470.54 79.18L470.70 73.75L470.86 74.00L471.02 74.92L471.18 73.13L471.34 73.84L471.50 75.21L471.66 76.44L471.82 73.09L471.98 73.03L472.14 77.37L472.30 75.92L472.46 76.81L472.62 72.89L472.78 75.63L472.94 76.95L473.10 71.55L473.26 73.61L473.42 74.04L473.58 74.02L473.74 74.86L473.90 74.44L474.06 72.74L474.22 73.63L474.38 75.42L474.54 74.32L474.70 75.00L474.86 73.66L475.02 71.87L475.18 75.51L475.34 62.70L475.50 75.80L475.66 66.44L475.82 73.20L475.98 64.85L476.14 77.07L476.30 63.86L476.46 75.55L476.62 62.53L476.78 72.28L476.94 44.70L477.10 74.45L477.26 67.58L477.42 73.24L477.58 68.96L477.74 72.10L477.90 71.44L478.06 76.84L478.22 75.00L478.38 75.99L478.54 75.67L478.70 71.15L478.86 76.75L479.02 73.85L479.18 72.84L479.34 76.07L479.50 77.66L479.66 71.37L479.82 70.88L479.98 75.04L480.14 77.04L480.30 72.69L480.46 74.60L480.62 76.26L480.78 75.34L480.94 79.59L481.10 76.25L481.26 77.11L481.42 77.33L481.58 73.28L481.74 73.95L481.90 70.89L482.06 80.27L482.22 75.95L482.38 76.33L482.54 71.67L482.70 72.29L482.86 74.27L483.02 74.33L483.18 76.16L483.34 75.65L483.50 75.50L483.66 80.02L483.82 70.40L483.98 72.93L484.14 69.98L484.30 71.83L484.46 73.44L484.62 72.70L484.78 78.25L484.94 76.76L485.10 72.65L485.26 75.37L485.42 78.11L485.58 74.56L485.74 77.39L485.90 74.53L486.06 71.05L486.22 77.07L486.38 75.54L486.54 73.30L486.70 74.60L486.86 74.12L487.02 76.44L487.18 75.30L487.34 79.91L487.50 74.94L487.66 71.64L487.82 77.08L487.98 74.96L488.14 72.93L488.30 71.77L488.46 71.89L488.62 76.56L488.78 75.50L488.94 70.53L489.10 75.61L489.26 73.89L489.42 76.48L489.58 76.06L489.74 81.38L489.90 75.81L490.06 79.63L490.22 76.89L490.38 76.82L490.54 71.41L490.70 72.77L490.86 73.61L491.02 75.76L491.18 77.80L491.34 73.43L491.50 76.49L491.66 74.82L491.82 72.34L491.98 75.00L492.14 74.62L492.30 76.90L492.46 72.08L492.62 73.30L492.78 72.88L492.94 70.71L493.10 78.41L493.26 74.50L493.42 73.03L493.58 73.76L493.74 73.83L493.90 73.44L494.06 78.22L494.22 74.75L494.38 71.77L494.54 74.69L494.70 75.03L494.86 72.53L495.02 78.78L495.18 73.61L495.34 70.89L495.50 75.18L495.66 76.56L495.82 73.29L495.98 75.66L496.14 76.56L496.30 66.20L496.46 78.61L496.62 87.20L496.78 77.49L496.94 75.91L497.10 72.79L497.26 74.64L497.42 73.92L497.58 71.17L497.74 70.82L497.90 69.41L498.06 75.92L498.22 72.29L498.38 78.66L498.54 72.58L498.70 71.33L498.86 76.37L499.02 73.41L499.18 72.47L499.34 74.96L499.50 76.16L499.66 70.79L499.82 77.87L499.98 74.15L500.14 72.17L500.30 73.98L500.46 70.60L500.62 70.85L500.78 73.39L500.94 70.12L501.10 72.68L501.26 77.65L501.42 75.38L501.58 73.89L501.74 74.08L501.90 78.80L502.06 68.81L502.22 78.47L502.38 77.39L502.54 73.45L502.70 74.06L502.86 70.73L503.02 74.00L503.18 73.62L503.34 72.74L503.50 76.39L503.66 77.79L503.82 75.71L503.98 82.00L504.14 75.27L504.30 71.44L504.46 75.93L504.62 72.68L504.78 74.49L504.94 72.46L505.10 74.53L505.26 74.06L505.42 75.72L505.58 71.45L505.74 74.64L505.90 73.31L506.06 72.94L506.22 76.77L506.38 76.61L506.54 74.66L506.70 71.39L506.86 77.17L507.02 77.07L507.18 77.00L507.34 75.52L507.50 77.19L507.66 76.57L507.82 73.24L507.98 77.24L508.14 74.57L508.30 77.46L508.46 89.50L508.62 73.26L508.78 79.49L508.94 74.42L509.10 73.99L509.26 74.70L509.42 73.91L509.58 73.53L509.74 77.74L509.90 74.85L510.06 72.96L510.22 71.37L510.38 77.89L510.54 76.01L510.70 77.90L510.86 74.59L511.02 77.17L511.18 76.96L511.34 72.65L511.50 67.00L511.66 79.60L511.82 70.51L511.98 76.79L512.14 72.87L512.30 73.68L512.46 71.52L512.62 75.05L512.78 76.57L512.94 74.69L513.10 72.61L513.26 76.72L513.42 73.54L513.58 74.56L513.74 74.10L513.90 74.52L514.06 73.07L514.22 72.58L514.38 75.25L514.54 75.40L514.70 79.77L514.86 76.68L515.02 78.25L515.18 75.00L515.34 72.09L515.50 71.95L515.66 73.48L515.82 69.72L515.98 77.47L516.14 67.86L516.30 73.68L516.46 65.80L516.62 63.00L516.78 64.28L516.94 73.55L517.10 62.83L517.26 76.07L517.42 64.52L517.58 74.07L517.74 53.90L517.90 75.49L518.06 67.27L518.22 75.88L518.38 69.46L518.54 72.68L518.70 71.68L518.86 75.66L519.02 75.00L519.18 72.99L519.34 78.02L519.50 74.46L519.66 75.32L519.82 70.33L519.98 73.59L520.14 73.48L520.30 73.26L520.46 73.10L520.62 74.23L520.78 80.42L520.94 73.51L521.10 75.30L521.26 72.84L521.42 73.79L521.58 75.84L521.74 76.67L521.90 76.97L522.06 73.85L522.22 74.78L522.38 76.65L522.54 75.40L522.70 73.69L522.86 76.12L523.02 74.83L523.18 75.98L523.34 80.72L523.50 74.31L523.66 74.38L523.82 72.59L523.98 71.42L524.14 76.26L524.30 73.11L524.46 73.89L524.62 74.34L524.78 72.55L524.94 72.45L525.10 77.54L525.26 71.01L525.42 74.95L525.58 76.11L525.74 75.00L525.90 76.66L526.06 70.84L526.22 76.53L526.38 67.91L526.54 74.18L526.70 66.20L526.86 60.00L527.02 63.74L527.18 77.88L527.34 61.01L527.50 77.61L527.66 62.18L527.82 49.50L527.98 63.99L528.14 74.28L528.30 66.92L528.46 73.48L528.62 69.69L528.78 77.18L528.94 72.82L529.10 73.35L529.26 71.00L529.42 70.37L529.58 72.29L529.74 73.02L529.90 74.18L530.06 78.92L530.22 73.59L530.38 77.33L530.54 77.14L530.70 74.24L530.86 78.23L531.02 70.37L531.18 73.11L531.34 73.67L531.50 73.39L531.66 73.96L531.82 74.37L531.98 72.87L532.14 76.09L532.30 73.88L532.46 74.13L532.62 72.70L532.78 77.10L532.94 73.94L533.10 74.82L533.26 73.05L533.42 73.26L533.58 74.09L533.74 73.44L533.90 73.48L534.06 71.34L534.22 73.81L534.38 73.27L534.54 76.70L534.70 75.00L534.86 72.73L535.02 78.50L535.18 76.79L535.34 74.61L535.50 75.15L535.66 74.39L535.82 75.00L535.98 74.20L536.14 70.85L536.30 77.08L536.46 67.90L536.62 75.11L536.78 65.28L536.94 75.32L537.10 62.91L537.26 58.00L537.42 60.24L537.58 73.42L537.74 57.95L537.90 74.64L538.06 62.17L538.22 47.80L538.38 63.43L538.54 75.45L538.70 66.47L538.86 74.72L539.02 69.02L539.18 76.74L539.34 72.48L539.50 73.37L539.66 72.14L539.82 77.62L539.98 69.63L540.14 70.33L540.30 74.77L540.46 79.09L540.62 76.52L540.78 72.12L540.94 69.77L541.10 75.75L541.26 78.76L541.42 76.74L541.58 70.13L541.74 74.53L541.90 77.74L542.06 79.32L542.22 73.06L542.38 72.68L542.54 75.62L542.70 74.98L542.86 74.34L543.02 75.30L543.18 75.78L543.34 75.84L543.50 75.88L543.66 71.71L543.82 73.61L543.98 72.19L544.14 70.32L544.30 79.73L544.46 74.67L544.62 72.34L544.78 75.01L544.94 75.88L545.10 73.62L545.26 75.73L545.42 76.44L545.58 75.22L545.74 74.40L545.90 74.50L546.06 72.48L546.22 74.48L546.38 75.60L546.54 67.60L546.70 75.04L546.86 75.13L547.02 74.85L547.18 76.11L547.34 78.10L547.50 74.08L547.66 71.21L547.82 78.64L547.98 76.24L548.14 73.56L548.30 76.06L548.46 73.33L548.62 74.63L548.78 77.01L548.94 75.01L549.10 75.69L549.26 73.30L549.42 80.25L549.58 73.59L549.74 71.52L549.90 74.18L550.06 73.99L550.22 75.73L550.38 73.76L550.54 74.85L550.70 77.41L550.86 77.20L551.02 79.75L551.18 73.54L551.34 74.13L551.50 72.07L551.66 73.94L551.82 72.96L551.98 77.55L552.14 78.73L552.30 75.81L552.46 75.26L552.62 73.71L552.78 74.82L552.94 74.90L553.10 74.43L553.26 73.95L553.42 74.07L553.58 73.81L553.74 75.66L553.90 74.73L554.06 77.84L554.22 77.04L554.38 75.14L554.54 73.56L554.70 76.23L554.86 77.70L555.02 72.37L555.18 62.04L555.34 72.69L555.50 62.24L555.66 73.79L555.82 62.80L555.98 74.61L556.14 62.90L556.30 74.35L556.46 63.18L556.62 72.69L556.78 59.01L556.94 71.88L557.10 59.43L557.26 72.51L557.42 58.79L557.58 73.12L557.74 58.35L557.90 70.06L558.06 58.15L558.22 72.86L558.38 59.71L558.54 61.76L558.70 75.84L558.86 61.54L559.02 71.68L559.18 60.04L559.34 75.28L559.50 60.13L559.66 71.79L559.82 61.83L559.98 74.04L560.14 61.61L560.30 75.00L560.46 60.35L560.62 73.03L560.78 75.06L560.94 75.66L561.10 73.10L561.26 72.60L561.42 77.56L561.58 76.79L561.74 76.27L561.90 73.86L562.06 77.68L562.22 71.02L562.38 74.42L562.54 74.17L562.70 72.55L562.86 76.20L563.02 73.68L563.18 73.60L563.34 71.61L563.50 76.88L563.66 71.40L563.82 73.17L563.98 73.95L564.14 72.12L564.30 75.07L564.46 74.95L564.62 72.63L564.78 75.30L564.94 72.08L565.10 71.42L565.26 74.02L565.42 74.11L565.58 75.96L565.74 61.17L565.90 72.27L566.06 61.89L566.22 74.90L566.38 61.52L566.54 74.00L566.70 61.25L566.86 71.54L567.02 61.11L567.18 73.49L567.34 62.06L567.50 59.69L567.66 75.62L567.82 60.34L567.98 73.41L568.14 60.66L568.30 71.08L568.46 59.42L568.62 73.31L568.78 60.08L568.94 75.73L569.10 60.25L569.26 70.28L569.42 62.77L569.58 71.23L569.74 63.26L569.90 73.77L570.06 63.41L570.22 73.31L570.38 62.42L570.54 72.82L570.70 62.77L570.86 72.11L571.02 62.96L571.18 70.90L571.34 62.42L571.50 74.24L571.66 73.37L571.82 73.72L571.98 73.28L572.14 77.00L572.30 76.02L572.46 76.58L572.62 75.75L572.78 72.99L572.94 69.76L573.10 75.26L573.26 70.25L573.42 69.81L573.58 79.03L573.74 77.85L573.90 73.68L574.06 80.61L574.22 65.16L574.38 82.84L574.54 79.92L574.70 70.54L574.86 77.76L575.02 70.89L575.18 78.83L575.34 69.17L575.50 77.02L575.66 70.81L575.82 69.43L575.98 81.12L576.14 78.38L576.30 82.25L576.46 79.37L576.62 69.84L576.78 74.53L576.94 70.19L577.10 67.35L577.26 69.26L577.42 70.80L577.58 76.31L577.74 76.12L577.90 72.79L578.06 70.08L578.22 69.00L578.38 72.89L578.54 75.68L578.70 74.72L578.86 66.15L579.02 72.97L579.18 64.47L579.34 77.57L579.50 70.02L579.66 73.27L579.82 70.58L579.98 77.73L580.14 72.68L580.30 74.65L580.46 75.60L580.62 79.71L580.78 80.71L580.94 75.85L581.10 71.63L581.26 73.05L581.42 73.14L581.58 72.74L581.74 80.40L581.90 69.08L582.06 73.98L582.22 77.71L582.38 76.79L582.54 69.45L582.70 73.38L582.86 81.80L583.02 63.95L583.18 80.98L583.34 65.86L583.50 70.13L583.66 78.84L583.82 68.18L583.98 68.10L584.14 69.17L584.30 71.11L584.46 72.71L584.62 73.25L584.78 76.72L584.94 72.96L585.10 68.02L585.26 74.80L585.42 64.68L585.58 81.21L585.74 74.15L585.90 80.86L586.06 82.03L586.22 73.08L586.38 75.75L586.54 76.74L586.70 78.91L586.86 75.34L587.02 81.29L587.18 75.16L587.34 76.58L587.50 79.65L587.66 72.38L587.82 54.00L587.98 72.31L588.14 73.07L588.30 71.87L588.46 73.70L588.62 70.65L588.78 75.41L588.94 78.80L589.10 72.58L589.26 77.56L589.42 75.81L589.58 73.77L589.74 78.10L589.90 69.90L590.06 80.53L590.22 68.83L590.38 74.46L590.54 54.50L590.70 69.34L590.86 71.28L591.02 73.00L591.18 73.79L591.34 79.88L591.50 76.58L591.66 78.12L591.82 77.21L591.98 74.85L592.14 77.54L592.30 73.69L592.46 75.37L592.62 76.22L592.78 72.56L592.94 72.23L593.10 79.73L593.26 75.60L593.42 61.22L593.58 74.25L593.74 72.25L593.90 77.90L594.06 69.94L594.22 67.43L594.38 71.71L594.54 74.87L594.70 74.19L594.86 81.97L595.02 71.66L595.18 75.56L595.34 72.54L595.50 72.65L595.66 73.37L595.82 64.91L595.98 70.20L596.14 76.96L596.30 71.58L596.46 71.49L596.62 74.14L596.78 68.00L596.94 75.81L597.10 81.38L597.26 78.63L597.42 72.58L597.58 78.32L597.74 73.63L597.90 80.41L598.06 52.20L598.22 75.37L598.38 77.99L598.54 76.57L598.70 75.42L598.86 70.23L599.02 73.25L599.18 75.16L599.34 73.61L599.50 70.34L599.66 72.23L599.82 66.48L599.98 77.24L600.14 70.64L600.30 73.76L600.46 76.87L600.62 71.65L600.78 70.58L600.94 69.94L601.10 86.30L601.26 77.87L601.42 73.55L601.58 72.60L601.74 66.87L601.90 73.77L602.06 73.63L602.22 67.33L602.38 74.02L602.54 76.14L602.70 73.03L602.86 70.87L603.02 73.63L603.18 81.07L603.34 75.95L603.50 69.83L603.66 77.31L603.82 70.48L603.98 73.55L604.14 77.54L604.30 70.75L604.46 82.95L604.62 82.75L604.78 80.57L604.94 71.95L605.10 75.44L605.26 71.49L605.42 74.65L605.58 73.73L605.74 76.44L605.90 75.92L606.06 69.90L606.22 70.89L606.38 79.68L606.54 71.75L606.70 65.29L606.86 70.94L607.02 78.12L607.18 70.99L607.34 73.35L607.50 75.61L607.66 69.98L607.82 68.84L607.98 76.42L608.14 73.77L608.30 75.91L608.46 74.29L608.62 67.21L608.78 76.07L608.94 71.78L609.10 73.16L609.26 73.94L609.42 78.84L609.58 71.54L609.74 78.73L609.90 71.08L610.06 74.69L610.22 73.70L610.38 76.18L610.54 77.76L610.70 78.44L610.86 74.26L611.02 74.67L611.18 73.04L611.34 75.48L611.50 70.88L611.66 73.67L611.82 73.77L611.98 75.30L612.14 74.39L612.30 71.42L612.46 77.14L612.62 79.14L612.78 72.60L612.94 72.44L613.10 74.19L613.26 73.24L613.42 79.54L613.58 78.21L613.74 74.33L613.90 74.46L614.06 79.29L614.22 72.25L614.38 81.93L614.54 68.81L614.70 78.53L614.86 76.57L615.02 78.50L615.18 79.71L615.34 75.61L615.50 81.90L615.66 75.68L615.82 73.58L615.98 75.53L616.14 74.42L616.30 80.10L616.46 81.71L616.62 79.63L616.78 69.64L616.94 72.93L617.10 81.49L617.26 66.77L617.42 71.54L617.58 69.52L617.74 69.86L617.90 68.57L618.06 81.09L618.22 74.00L618.38 77.45L618.54 65.76L618.70 71.29L618.86 74.36L619.02 75.37L619.18 82.78L619.34 73.88L619.50 77.70L619.66 68.32L619.82 71.06L619.98 74.67L620.14 75.92L620.30 69.44L620.46 76.49L620.62 69.47L620.78 60.00L620.94 75.51L621.10 72.70L621.26 66.60L621.42 80.85L621.58 71.02L621.74 71.06L621.90 75.41L622.06 67.85L622.22 71.37L622.38 71.92L622.54 78.49L622.70 71.78L622.86 105.60L623.02 72.10L623.18 64.81L623.34 78.08L623.50 67.44L623.66 78.87L623.82 74.04L623.98 71.16L624.14 80.41L624.30 72.88L624.46 77.61L624.62 76.95L624.78 70.61L624.94 74.69L625.10 72.55L625.26 74.26L625.42 60.00L625.58 67.44L625.74 73.79L625.90 75.57L626.06 74.23L626.22 71.16L626.38 72.31L626.54 83.58L626.70 74.67L626.86 72.42L627.02 62.76L627.18 76.92L627.34 75.54L627.50 79.38L627.66 74.65L627.82 82.06L627.98 78.02L628.14 74.71L628.30 80.98L628.46 75.53L628.62 77.37L628.78 68.76L628.94 67.27L629.10 64.97L629.26 73.73L629.42 71.37L629.58 63.82L629.74 77.23L629.90 66.80L630.06 78.44L630.22 69.65L630.38 81.37L630.54 76.14L630.70 75.23L630.86 75.50L631.02 83.15L631.18 73.80L631.34 55.10L631.50 67.75L631.66 71.76L631.82 84.25L631.98 73.78L632.14 69.61L632.30 74.79L632.46 77.60L632.62 80.65L632.78 76.05L632.94 78.70L633.10 101.20L633.26 75.85L633.42 68.66L633.58 78.93L633.74 72.87L633.90 79.47L634.06 73.13L634.22 69.77L634.38 77.03L634.54 79.93L634.70 74.20L634.86 74.25L635.02 77.37L635.18 72.48L635.34 74.04L635.50 71.35L635.66 80.89L635.82 71.00L635.98 68.72L636.14 78.27L636.30 65.53L636.46 73.33L636.62 80.60L636.78 79.48L636.94 95.00L637.10 77.49L637.26 75.50L637.42 73.03L637.58 75.34L637.74 75.90L637.90 79.04L638.06 84.33L638.22 77.82L638.38 80.36L638.54 70.43L638.70 86.22L638.86 69.26L639.02 88.43L639.18 75.33L639.34 74.31L639.50 79.86L639.66 79.19L639.82 70.46L639.98 79.73L640.14 74.82L640.30 60.00L640.46 71.44L640.62 80.67L640.78 68.49L640.94 75.13L641.10 69.84L641.26 81.47L641.42 69.50L641.58 74.83L641.74 70.89L641.90 77.59L642.06 70.51L642.22 74.22L642.38 84.01L642.54 63.20L642.70 77.76L642.86 72.29L643.02 94.20L643.18 76.68L643.34 76.27L643.50 70.26L643.66 70.19L643.82 70.22L643.98 82.79L644.14 70.73L644.30 82.16L644.46 64.02L644.62 72.65L644.78 69.28L644.94 74.39L645.10 73.75L645.26 78.07L645.42 65.43L645.58 76.08L645.74 69.47L645.90 78.62L646.06 75.13L646.22 76.41L646.38 74.93L646.54 77.05L646.70 71.51L646.86 71.42L647.02 82.91L647.18 76.69L647.34 81.37L647.50 69.56L647.66 81.08L647.82 72.26L647.98 73.69L648.14 74.64L648.30 84.73L648.46 66.81L648.62 75.11L648.78 71.36L648.94 69.72L649.10 156.20L649.26 62.04L649.42 156.20L649.58 61.24L649.74 156.20L649.90 63.92L650.06 156.20L650.22 63.96L650.38 156.20L650.54 61.59L650.70 -6.80L650.86 59.93L651.02 -6.80L651.18 64.61L651.34 156.20L651.50 65.00L651.66 156.20L651.82 63.40L651.98 156.20L652.14 61.87L652.30 74.67L652.46 66.86L652.62 69.94L652.78 71.63L652.94 99.38L653.10 76.85L653.26 98.40L653.42 77.07L653.58 99.85L653.74 74.76L653.90 99.59L654.06 77.58L654.22 98.28L654.38 74.72L654.54 97.19L654.70 76.12L654.86 98.95L655.02 75.35L655.18 99.99L655.34 132.00L655.50 99.87L655.66 75.99L655.82 75.37L655.98 76.27L656.14 75.61L656.30 80.47L656.46 77.68L656.62 68.88L656.78 77.97L656.94 76.36L657.10 77.48L657.26 74.98L657.42 76.30L657.58 67.08L657.74 78.17L657.90 69.47L658.06 76.07L658.22 72.77L658.38 65.26L658.54 74.42L658.70 74.40L658.86 84.65L659.02 75.59L659.18 75.18L659.34 73.91L659.50 73.53L659.66 66.20L659.82 77.73L659.98 71.63L660.14 75.32L660.30 74.24L660.46 72.00L660.62 73.98L660.78 73.82L660.94 78.20L661.10 74.35L661.26 80.38L661.42 68.08L661.58 77.08L661.74 68.40L661.90 76.11L662.06 74.83L662.22 69.75L662.38 73.61L662.54 73.70L662.70 75.30L662.86 75.26L663.02 76.94L663.18 77.06L663.34 80.63L663.50 74.88L663.66 62.70L663.82 69.41L663.98 66.91L664.14 67.67L664.30 78.50L664.46 75.59L664.62 74.79L664.78 79.69L664.94 68.89L665.10 71.84L665.26 73.31L665.42 67.60L665.58 72.62L665.74 75.37L665.90 73.36L666.06 75.94L666.22 72.67L666.38 78.87L666.54 72.56L666.70 75.35L666.86 75.80L667.02 75.64L667.18 74.75L667.34 80.33L667.50 72.26L667.66 75.00L667.82 68.14L667.98 74.37L668.14 71.08L668.30 74.42L668.46 65.30L668.62 78.50L668.78 75.91L668.94 76.32L669.10 82.58L669.26 75.33L669.42 76.77L669.58 73.27L669.74 70.80L669.90 75.34L670.06 70.28L670.22 70.09L670.38 71.72L670.54 75.44L670.70 73.96L670.86 68.76L671.02 69.07L671.18 70.44L671.34 80.15L671.50 81.97L671.66 68.30L671.82 71.90L671.98 69.76L672.14 72.36L672.30 75.32L672.46 72.76L672.62 74.45L672.78 69.28L672.94 71.48L673.10 77.48L673.26 76.85L673.42 70.90L673.58 71.35L673.74 73.34L673.90 73.15L674.06 78.47L674.22 77.15L674.38 72.55L674.54 80.39L674.70 72.67L674.86 72.36L675.02 72.12L675.18 71.48L675.34 67.97L675.50 73.33L675.66 76.99L675.82 79.94L675.98 81.73L676.14 73.97L676.30 71.36L676.46 79.81L676.62 73.71L676.78 76.65L676.94 75.13L677.10 73.58L677.26 74.17L677.42 78.18L677.58 71.81L677.74 74.73L677.90 80.43L678.06 71.76L678.22 69.14L678.38 75.56L678.54 69.06L678.70 79.45L678.86 75.11L679.02 70.06L679.18 70.02L679.34 72.61L679.50 70.84L679.66 75.63L679.82 71.95L679.98 71.19L680.14 71.22L680.30 73.07L680.46 71.58L680.62 72.89L680.78 72.33L680.94 79.28L681.10 72.36L681.26 77.31L681.42 75.50L681.58 74.11L681.74 73.49L681.90 78.51L682.06 75.99L682.22 73.53L682.38 75.61L682.54 74.21L682.70 73.56L682.86 73.62L683.02 76.03L683.18 73.72L683.34 72.47L683.50 78.33L683.66 71.81" fill="none" stroke="#231f20" stroke-width="1.25" stroke-linejoin="round" clip-path="url(#clip1)"/>
<path d="M69.6 4.65V144.20H684.0" fill="none" stroke="#231f20" stroke-width="1.3"/>
<line x1="69.6" x2="74.19999999999999" y1="5.20" y2="5.20" stroke="#231f20" stroke-width="1.2"/>
<text x="52.3" y="10.40" text-anchor="end" class="t">0.10</text>
<line x1="69.6" x2="74.19999999999999" y1="39.95" y2="39.95" stroke="#231f20" stroke-width="1.2"/>
<text x="52.3" y="45.15" text-anchor="end" class="t">0.05</text>
<line x1="69.6" x2="74.19999999999999" y1="74.50" y2="74.50" stroke="#231f20" stroke-width="1.2"/>
<text x="52.3" y="79.70" text-anchor="end" class="t">0.00</text>
<line x1="69.6" x2="74.19999999999999" y1="109.35" y2="109.35" stroke="#231f20" stroke-width="1.2"/>
<text x="52.3" y="114.55" text-anchor="end" class="t">-0.05</text>
<line x1="69.6" x2="74.19999999999999" y1="144.20" y2="144.20" stroke="#231f20" stroke-width="1.2"/>
<text x="52.3" y="149.40" text-anchor="end" class="t">-0.10</text>
<text x="69.80" y="168.40" text-anchor="middle" class="t">2006</text>
<line x1="110.63" x2="110.63" y1="144.20" y2="139.80" stroke="#231f20" stroke-width="1.3"/>
<text x="110.73" y="168.40" text-anchor="middle" class="t">2007</text>
<line x1="151.56" x2="151.56" y1="144.20" y2="139.80" stroke="#231f20" stroke-width="1.3"/>
<text x="151.66" y="168.40" text-anchor="middle" class="t">2008</text>
<line x1="192.49" x2="192.49" y1="144.20" y2="139.80" stroke="#231f20" stroke-width="1.3"/>
<text x="192.59" y="168.40" text-anchor="middle" class="t">2009</text>
<line x1="233.42" x2="233.42" y1="144.20" y2="139.80" stroke="#231f20" stroke-width="1.3"/>
<text x="233.52" y="168.40" text-anchor="middle" class="t">2010</text>
<line x1="274.35" x2="274.35" y1="144.20" y2="139.80" stroke="#231f20" stroke-width="1.3"/>
<text x="274.45" y="168.40" text-anchor="middle" class="t">2011</text>
<line x1="315.28" x2="315.28" y1="144.20" y2="139.80" stroke="#231f20" stroke-width="1.3"/>
<text x="315.38" y="168.40" text-anchor="middle" class="t">2012</text>
<line x1="356.21" x2="356.21" y1="144.20" y2="139.80" stroke="#231f20" stroke-width="1.3"/>
<text x="356.31" y="168.40" text-anchor="middle" class="t">2013</text>
<line x1="397.14" x2="397.14" y1="144.20" y2="139.80" stroke="#231f20" stroke-width="1.3"/>
<text x="397.24" y="168.40" text-anchor="middle" class="t">2014</text>
<line x1="438.07" x2="438.07" y1="144.20" y2="139.80" stroke="#231f20" stroke-width="1.3"/>
<text x="438.17" y="168.40" text-anchor="middle" class="t">2015</text>
<line x1="479.00" x2="479.00" y1="144.20" y2="139.80" stroke="#231f20" stroke-width="1.3"/>
<text x="479.10" y="168.40" text-anchor="middle" class="t">2016</text>
<line x1="519.93" x2="519.93" y1="144.20" y2="139.80" stroke="#231f20" stroke-width="1.3"/>
<text x="520.03" y="168.40" text-anchor="middle" class="t">2017</text>
<line x1="560.86" x2="560.86" y1="144.20" y2="139.80" stroke="#231f20" stroke-width="1.3"/>
<text x="560.96" y="168.40" text-anchor="middle" class="t">2018</text>
<line x1="601.79" x2="601.79" y1="144.20" y2="139.80" stroke="#231f20" stroke-width="1.3"/>
<text x="601.89" y="168.40" text-anchor="middle" class="t">2019</text>
<line x1="642.72" x2="642.72" y1="144.20" y2="139.80" stroke="#231f20" stroke-width="1.3"/>
<text x="642.82" y="168.40" text-anchor="middle" class="t">2020</text>
<text transform="translate(11.1 75.3) rotate(-90)" text-anchor="middle" class="y">1m US-LIBOR (%)</text>
<line x1="181.8" x2="227.8" y1="195.8" y2="195.8" stroke="#231f20" stroke-width="1.5"/>
<text x="231.7" y="200.80" class="l">US</text>
<line x1="270.25" x2="313.6" y1="195.8" y2="195.8" stroke="#231f20" stroke-width="1.85" stroke-linecap="round" stroke-dasharray="0.01 3.52"/>
<text x="320.2" y="200.80" class="l">US(μ-3σ)</text>
<line x1="394.75" x2="438.0" y1="195.8" y2="195.8" stroke="#231f20" stroke-width="1.85" stroke-linecap="round" stroke-dasharray="0.01 3.52"/>
<text x="444.5" y="200.80" class="l">US(μ+3σ)</text>
</g>
<g id="panel2">
<clipPath id="clip2"><rect x="69.6" y="237.70" width="615.40" height="139.90"/></clipPath>
<rect x="69.6" y="238.30" width="614.40" height="138.70" fill="url(#hatch)"/>
<line x1="69.6" x2="684.0" y1="238.30" y2="238.30" stroke="#e3e5e7" stroke-width="1.1"/>
<line x1="69.6" x2="684.0" y1="273.00" y2="273.00" stroke="#e3e5e7" stroke-width="1.1"/>
<line x1="69.6" x2="684.0" y1="307.60" y2="307.60" stroke="#e3e5e7" stroke-width="1.1"/>
<line x1="69.6" x2="684.0" y1="342.30" y2="342.30" stroke="#e3e5e7" stroke-width="1.1"/>
<line x1="69.6" x2="684.0" y1="377.00" y2="377.00" stroke="#e3e5e7" stroke-width="1.1"/>
<line x1="69.95" x2="682.80" y1="273.30" y2="273.30" stroke="#231f20" stroke-width="1.75" stroke-linecap="round" stroke-dasharray="0.01 3.57"/>
<line x1="69.95" x2="682.80" y1="342.80" y2="342.80" stroke="#231f20" stroke-width="1.75" stroke-linecap="round" stroke-dasharray="0.01 3.57"/>
<path d="M69.90 302.23L70.06 309.35L70.22 306.79L70.38 308.01L70.54 308.98L70.70 308.50L70.86 308.42L71.02 307.76L71.18 306.64L71.34 305.09L71.50 307.11L71.66 304.92L71.82 306.56L71.98 307.44L72.14 308.01L72.30 309.20L72.46 310.16L72.62 307.80L72.78 307.94L72.94 306.94L73.10 306.92L73.26 309.66L73.42 308.80L73.58 309.44L73.74 305.29L73.90 307.87L74.06 307.45L74.22 306.00L74.38 307.97L74.54 300.85L74.70 305.75L74.86 297.44L75.02 304.93L75.18 293.01L75.34 305.41L75.50 291.19L75.66 304.88L75.82 294.24L75.98 307.05L76.14 298.88L76.30 307.56L76.46 303.01L76.62 307.65L76.78 306.86L76.94 305.67L77.10 307.12L77.26 310.22L77.42 308.89L77.58 308.34L77.74 305.52L77.90 307.92L78.06 305.55L78.22 307.06L78.38 309.56L78.54 307.64L78.70 306.42L78.86 306.78L79.02 310.01L79.18 306.74L79.34 308.62L79.50 310.99L79.66 308.59L79.82 310.77L79.98 316.10L80.14 304.26L80.30 301.77L80.46 305.19L80.62 306.72L80.78 303.14L80.94 306.94L81.10 309.23L81.26 311.52L81.42 305.56L81.58 311.21L81.74 312.16L81.90 308.73L82.06 307.61L82.22 309.05L82.38 305.22L82.54 298.70L82.70 307.26L82.86 306.68L83.02 320.50L83.18 307.25L83.34 302.05L83.50 309.17L83.66 307.35L83.82 306.00L83.98 304.47L84.14 299.25L84.30 306.82L84.46 294.41L84.62 306.97L84.78 291.01L84.94 304.78L85.10 288.73L85.26 306.16L85.42 293.04L85.58 303.79L85.74 296.63L85.90 304.26L86.06 302.01L86.22 306.00L86.38 307.89L86.54 299.17L86.70 303.47L86.86 293.21L87.02 305.63L87.18 288.47L87.34 305.63L87.50 290.13L87.66 323.10L87.82 295.08L87.98 308.99L88.14 302.06L88.30 306.07L88.46 306.64L88.62 308.62L88.78 306.64L88.94 307.79L89.10 309.42L89.26 308.35L89.42 307.30L89.58 304.44L89.74 309.29L89.90 307.11L90.06 307.63L90.22 307.74L90.38 309.58L90.54 304.57L90.70 304.47L90.86 303.73L91.02 306.52L91.18 306.00L91.34 307.30L91.50 301.44L91.66 303.97L91.82 298.54L91.98 307.22L92.14 296.00L92.30 306.50L92.46 292.85L92.62 307.76L92.78 291.81L92.94 306.12L93.10 293.90L93.26 305.88L93.42 296.92L93.58 305.47L93.74 300.35L93.90 304.70L94.06 303.42L94.22 303.51L94.38 308.40L94.54 308.22L94.70 305.52L94.86 308.89L95.02 301.66L95.18 308.45L95.34 305.54L95.50 310.14L95.66 305.39L95.82 313.50L95.98 307.16L96.14 307.64L96.30 305.60L96.46 306.13L96.62 306.68L96.78 307.87L96.94 302.78L97.10 308.36L97.26 307.61L97.42 308.38L97.58 307.31L97.74 309.16L97.90 308.29L98.06 306.39L98.22 306.00L98.38 304.36L98.54 301.89L98.70 308.34L98.86 298.75L99.02 307.95L99.18 295.25L99.34 303.38L99.50 294.03L99.66 304.12L99.82 295.48L99.98 306.98L100.14 298.22L100.30 303.12L100.46 301.90L100.62 308.88L100.78 306.00L100.94 304.49L101.10 308.77L101.26 304.33L101.42 301.68L101.58 306.26L101.74 308.13L101.90 304.22L102.06 307.19L102.22 305.02L102.38 304.52L102.54 310.03L102.70 306.84L102.86 310.05L103.02 308.75L103.18 306.14L103.34 309.53L103.50 308.78L103.66 316.00L103.82 306.87L103.98 306.79L104.14 306.55L104.30 308.44L104.46 308.83L104.62 306.64L104.78 309.02L104.94 308.93L105.10 305.92L105.26 308.91L105.42 309.08L105.58 304.86L105.74 289.00L105.90 311.19L106.06 308.84L106.22 302.82L106.38 300.61L106.54 267.20L106.70 305.93L106.86 305.84L107.02 306.90L107.18 310.54L107.34 290.00L107.50 306.99L107.66 308.03L107.82 310.22L107.98 308.66L108.14 307.84L108.30 308.06L108.46 307.12L108.62 308.27L108.78 305.21L108.94 306.14L109.10 309.48L109.26 308.62L109.42 306.65L109.58 308.54L109.74 304.22L109.90 308.51L110.06 336.30L110.22 306.19L110.38 309.46L110.54 304.59L110.70 308.00L110.86 308.79L111.02 308.76L111.18 310.34L111.34 309.82L111.50 303.98L111.66 307.87L111.82 308.11L111.98 307.22L112.14 306.28L112.30 308.92L112.46 308.00L112.62 307.03L112.78 305.19L112.94 307.08L113.10 303.59L113.26 308.01L113.42 308.20L113.58 309.86L113.74 307.74L113.90 306.11L114.06 308.06L114.22 307.94L114.38 309.21L114.54 308.60L114.70 308.37L114.86 307.81L115.02 305.05L115.18 306.45L115.34 306.00L115.50 304.50L115.66 300.79L115.82 306.88L115.98 297.98L116.14 306.80L116.30 293.82L116.46 308.13L116.62 291.82L116.78 305.94L116.94 289.96L117.10 307.76L117.26 293.77L117.42 303.44L117.58 297.15L117.74 306.40L117.90 300.72L118.06 303.43L118.22 306.00L118.38 309.58L118.54 306.44L118.70 308.13L118.86 309.02L119.02 311.14L119.18 307.98L119.34 308.27L119.50 301.85L119.66 309.58L119.82 304.04L119.98 304.63L120.14 306.70L120.30 307.11L120.46 306.49L120.62 310.01L120.78 304.23L120.94 308.19L121.10 308.85L121.26 307.69L121.42 312.02L121.58 309.78L121.74 309.54L121.90 310.16L122.06 306.29L122.22 303.78L122.38 307.67L122.54 308.20L122.70 306.94L122.86 308.49L123.02 307.42L123.18 306.74L123.34 308.06L123.50 308.34L123.66 307.58L123.82 307.60L123.98 306.08L124.14 310.07L124.30 309.46L124.46 308.47L124.62 306.55L124.78 309.74L124.94 304.77L125.10 304.21L125.26 308.87L125.42 305.00L125.58 311.00L125.74 307.87L125.90 306.00L126.06 305.29L126.22 300.39L126.38 308.46L126.54 296.41L126.70 303.00L126.86 292.93L127.02 306.24L127.18 288.59L127.34 303.83L127.50 290.99L127.66 304.81L127.82 293.35L127.98 305.51L128.14 298.57L128.30 304.59L128.46 302.68L128.62 307.09L128.78 309.53L128.94 307.87L129.10 310.64L129.26 309.62L129.42 306.13L129.58 310.46L129.74 307.82L129.90 304.27L130.06 305.85L130.22 309.85L130.38 302.35L130.54 308.64L130.70 305.55L130.86 305.48L131.02 308.27L131.18 306.29L131.34 312.12L131.50 307.62L131.66 307.47L131.82 308.31L131.98 307.57L132.14 305.22L132.30 305.54L132.46 308.75L132.62 305.92L132.78 304.96L132.94 307.59L133.10 306.91L133.26 311.63L133.42 310.25L133.58 306.94L133.74 310.14L133.90 305.77L134.06 305.00L134.22 309.33L134.38 309.61L134.54 308.09L134.70 307.33L134.86 305.85L135.02 308.14L135.18 307.73L135.34 258.00L135.50 307.19L135.66 309.01L135.82 305.41L135.98 306.16L136.14 254.90L136.30 307.05L136.46 309.52L136.62 305.51L136.78 309.42L136.94 304.78L137.10 305.26L137.26 303.07L137.42 307.09L137.58 307.72L137.74 304.90L137.90 309.72L138.06 309.00L138.22 311.93L138.38 311.41L138.54 331.90L138.70 313.23L138.86 308.83L139.02 314.42L139.18 308.16L139.34 316.40L139.50 308.58L139.66 317.73L139.82 307.67L139.98 319.12L140.14 309.25L140.30 321.25L140.46 309.43L140.62 322.63L140.78 308.89L140.94 321.28L141.10 307.77L141.26 319.49L141.42 309.14L141.58 318.17L141.74 306.43L141.90 317.36L142.06 307.60L142.22 343.30L142.38 309.09L142.54 313.95L142.70 311.69L142.86 312.38L143.02 307.56L143.18 310.27L143.34 306.67L143.50 307.72L143.66 306.38L143.82 308.47L143.98 308.32L144.14 305.01L144.30 307.76L144.46 306.20L144.62 308.38L144.78 304.71L144.94 305.67L145.10 308.03L145.26 308.73L145.42 301.63L145.58 309.48L145.74 309.31L145.90 311.70L146.06 306.21L146.22 307.69L146.38 307.92L146.54 310.19L146.70 307.76L146.86 309.03L147.02 309.62L147.18 308.16L147.34 307.13L147.50 308.01L147.66 308.57L147.82 306.08L147.98 226.30L148.14 308.36L148.30 306.47L148.46 307.14L148.62 305.63L148.78 305.84L148.94 306.06L149.10 289.00L149.26 304.63L149.42 305.41L149.58 308.62L149.74 304.80L149.90 389.00L150.06 389.00L150.22 389.00L150.38 389.00L150.54 389.00L150.70 389.00L150.86 389.00L151.02 309.12L151.18 307.98L151.34 304.73L151.50 306.99L151.66 310.33L151.82 307.97L151.98 310.61L152.14 306.21L152.30 309.35L152.46 307.90L152.62 307.96L152.78 310.11L152.94 307.04L153.10 303.49L153.26 309.18L153.42 308.66L153.58 306.93L153.74 304.87L153.90 309.12L154.06 307.35L154.22 306.96L154.38 297.80L154.54 319.00L154.70 301.80L154.86 302.84L155.02 309.87L155.18 308.98L155.34 306.94L155.50 308.74L155.66 308.56L155.82 307.74L155.98 308.88L156.14 308.69L156.30 307.29L156.46 308.36L156.62 306.92L156.78 305.25L156.94 305.07L157.10 307.58L157.26 302.78L157.42 308.34L157.58 305.61L157.74 303.37L157.90 307.31L158.06 305.79L158.22 308.45L158.38 308.60L158.54 307.28L158.70 306.60L158.86 306.88L159.02 306.15L159.18 267.50L159.34 307.84L159.50 308.65L159.66 307.87L159.82 307.62L159.98 307.72L160.14 309.38L160.30 304.67L160.46 305.09L160.62 295.00L160.78 308.43L160.94 305.07L161.10 324.00L161.26 308.06L161.42 306.29L161.58 308.53L161.74 307.42L161.90 308.43L162.06 306.25L162.22 306.70L162.38 305.99L162.54 306.66L162.70 306.93L162.86 306.79L163.02 305.79L163.18 309.15L163.34 309.48L163.50 307.54L163.66 307.32L163.82 308.05L163.98 304.08L164.14 306.57L164.30 304.66L164.46 307.47L164.62 309.77L164.78 309.77L164.94 305.09L165.10 307.59L165.26 308.40L165.42 304.59L165.58 303.54L165.74 306.75L165.90 304.59L166.06 308.13L166.22 309.10L166.38 310.19L166.54 305.06L166.70 310.02L166.86 308.27L167.02 307.52L167.18 306.29L167.34 310.52L167.50 308.02L167.66 308.90L167.82 304.19L167.98 307.94L168.14 308.66L168.30 303.58L168.46 244.40L168.62 305.79L168.78 306.91L168.94 307.90L169.10 305.90L169.26 308.76L169.42 309.77L169.58 308.66L169.74 306.17L169.90 308.24L170.06 305.13L170.22 305.97L170.38 307.18L170.54 305.03L170.70 306.77L170.86 306.91L171.02 308.07L171.18 307.81L171.34 324.00L171.50 305.16L171.66 303.89L171.82 305.08L171.98 293.40L172.14 307.83L172.30 307.06L172.46 308.52L172.62 307.67L172.78 308.15L172.94 307.70L173.10 311.26L173.26 307.65L173.42 306.12L173.58 309.28L173.74 303.47L173.90 307.33L174.06 308.50L174.22 304.29L174.38 309.09L174.54 301.20L174.70 308.72L174.86 305.43L175.02 304.25L175.18 306.00L175.34 307.35L175.50 308.72L175.66 307.86L175.82 307.14L175.98 305.32L176.14 311.01L176.30 306.20L176.46 309.35L176.62 308.58L176.78 307.80L176.94 308.60L177.10 306.22L177.26 310.12L177.42 306.54L177.58 309.18L177.74 308.20L177.90 307.76L178.06 290.00L178.22 306.68L178.38 302.59L178.54 290.00L178.70 309.01L178.86 304.08L179.02 303.70L179.18 310.76L179.34 308.20L179.50 308.88L179.66 307.29L179.82 307.80L179.98 309.19L180.14 308.32L180.30 305.05L180.46 309.07L180.62 307.15L180.78 306.18L180.94 226.30L181.10 306.67L181.26 307.10L181.42 226.30L181.58 307.08L181.74 304.48L181.90 306.58L182.06 304.91L182.22 311.06L182.38 306.81L182.54 276.80L182.70 320.34L182.86 321.61L183.02 307.62L183.18 309.35L183.34 315.35L183.50 317.34L183.66 310.07L183.82 371.30L183.98 310.16L184.14 371.30L184.30 325.70L184.46 318.23L184.62 336.68L184.78 337.51L184.94 326.11L185.10 326.19L185.26 323.94L185.42 332.49L185.58 331.15L185.74 316.31L185.90 345.76L186.06 389.00L186.22 313.99L186.38 317.47L186.54 317.31L186.70 315.20L186.86 389.00L187.02 314.62L187.18 315.70L187.34 316.12L187.50 316.74L187.66 389.00L187.82 320.84L187.98 389.00L188.14 314.27L188.30 320.78L188.46 339.07L188.62 315.39L188.78 226.30L188.94 317.10L189.10 226.30L189.26 342.58L189.42 315.55L189.58 317.69L189.74 351.04L189.90 316.58L190.06 389.00L190.22 324.50L190.38 316.51L190.54 315.23L190.70 315.53L190.86 316.72L191.02 316.42L191.18 314.58L191.34 317.67L191.50 324.25L191.66 348.00L191.82 311.16L191.98 339.80L192.14 318.16L192.30 357.28L192.46 319.50L192.62 322.57L192.78 320.51L192.94 316.59L193.10 315.07L193.26 317.83L193.42 335.49L193.58 329.40L193.74 318.48L193.90 334.10L194.06 320.39L194.22 317.26L194.38 362.60L194.54 314.01L194.70 353.61L194.86 318.17L195.02 316.17L195.18 342.06L195.34 354.77L195.50 313.96L195.66 316.44L195.82 317.37L195.98 315.95L196.14 347.00L196.30 337.09L196.46 315.51L196.62 318.41L196.78 331.25L196.94 319.39L197.10 315.82L197.26 322.68L197.42 324.59L197.58 327.20L197.74 318.77L197.90 318.42L198.06 320.40L198.22 319.91L198.38 318.75L198.54 319.91L198.70 319.55L198.86 315.56L199.02 317.13L199.18 316.12L199.34 323.47L199.50 320.06L199.66 314.89L199.82 316.30L199.98 346.80L200.14 321.28L200.30 315.07L200.46 318.01L200.62 315.99L200.78 318.14L200.94 318.84L201.10 318.93L201.26 315.72L201.42 313.14L201.58 318.06L201.74 316.32L201.90 317.21L202.06 316.48L202.22 312.47L202.38 314.70L202.54 315.92L202.70 311.61L202.86 311.96L203.02 330.00L203.18 311.78L203.34 313.45L203.50 310.08L203.66 312.95L203.82 310.57L203.98 310.42L204.14 308.47L204.30 310.73L204.46 308.65L204.62 314.31L204.78 309.40L204.94 309.08L205.10 309.03L205.26 314.23L205.42 307.52L205.58 310.19L205.74 310.12L205.90 305.52L206.06 308.52L206.22 320.00L206.38 311.86L206.54 297.00L206.70 306.73L206.86 306.36L207.02 309.08L207.18 306.17L207.34 307.34L207.50 304.73L207.66 308.27L207.82 311.05L207.98 284.20L208.14 309.89L208.30 307.87L208.46 306.21L208.62 304.86L208.78 306.68L208.94 306.51L209.10 294.00L209.26 307.58L209.42 308.03L209.58 307.44L209.74 310.18L209.90 307.78L210.06 294.00L210.22 308.39L210.38 309.33L210.54 308.22L210.70 311.73L210.86 310.54L211.02 307.11L211.18 309.55L211.34 309.98L211.50 311.71L211.66 313.44L211.82 314.73L211.98 312.44L212.14 349.40L212.30 313.34L212.46 312.38L212.62 314.24L212.78 313.40L212.94 312.97L213.10 309.47L213.26 313.23L213.42 315.36L213.58 312.07L213.74 313.29L213.90 312.49L214.06 314.73L214.22 311.96L214.38 314.47L214.54 331.00L214.70 313.73L214.86 314.28L215.02 312.17L215.18 312.34L215.34 316.02L215.50 311.92L215.66 311.77L215.82 312.45L215.98 312.22L216.14 312.22L216.30 312.13L216.46 312.85L216.62 311.14L216.78 310.85L216.94 313.28L217.10 312.03L217.26 313.24L217.42 312.57L217.58 310.80L217.74 311.79L217.90 311.51L218.06 312.17L218.22 308.95L218.38 310.21L218.54 311.02L218.70 311.16L218.86 309.34L219.02 309.88L219.18 310.84L219.34 311.33L219.50 312.51L219.66 309.43L219.82 308.96L219.98 308.15L220.14 310.42L220.30 309.67L220.46 313.16L220.62 309.81L220.78 311.46L220.94 311.49L221.10 311.44L221.26 311.43L221.42 310.90L221.58 309.55L221.74 311.02L221.90 310.51L222.06 310.17L222.22 307.64L222.38 308.97L222.54 310.60L222.70 308.83L222.86 307.79L223.02 309.79L223.18 308.71L223.34 308.25L223.50 311.23L223.66 309.17L223.82 309.43L223.98 308.28L224.14 307.66L224.30 309.70L224.46 310.98L224.62 309.60L224.78 308.88L224.94 309.67L225.10 308.48L225.26 310.21L225.42 308.03L225.58 307.74L225.74 306.25L225.90 308.59L226.06 307.25L226.22 309.25L226.38 309.19L226.54 309.28L226.70 308.37L226.86 309.84L227.02 310.45L227.18 305.57L227.34 308.43L227.50 308.00L227.66 307.75L227.82 308.47L227.98 308.15L228.14 306.57L228.30 307.48L228.46 306.50L228.62 309.24L228.78 307.13L228.94 308.80L229.10 309.31L229.26 306.87L229.42 287.30L229.58 307.01L229.74 307.14L229.90 310.44L230.06 307.34L230.22 305.88L230.38 307.87L230.54 307.04L230.70 306.57L230.86 306.24L231.02 311.49L231.18 308.73L231.34 308.59L231.50 308.77L231.66 307.27L231.82 310.16L231.98 311.75L232.14 308.73L232.30 309.86L232.46 308.84L232.62 309.28L232.78 310.59L232.94 310.00L233.10 313.68L233.26 312.57L233.42 317.00L233.58 310.31L233.74 312.62L233.90 311.09L234.06 311.53L234.22 311.10L234.38 310.68L234.54 310.44L234.70 310.70L234.86 311.33L235.02 310.51L235.18 313.68L235.34 312.27L235.50 309.36L235.66 310.23L235.82 312.56L235.98 312.26L236.14 312.14L236.30 311.07L236.46 309.58L236.62 310.54L236.78 309.63L236.94 312.14L237.10 310.57L237.26 310.22L237.42 309.92L237.58 309.55L237.74 310.20L237.90 309.40L238.06 308.92L238.22 309.71L238.38 311.80L238.54 311.09L238.70 311.31L238.86 308.42L239.02 309.26L239.18 310.04L239.34 310.85L239.50 310.83L239.66 308.38L239.82 310.23L239.98 310.77L240.14 310.99L240.30 309.18L240.46 312.36L240.62 310.61L240.78 309.17L240.94 308.93L241.10 309.16L241.26 310.19L241.42 308.84L241.58 307.89L241.74 310.83L241.90 310.79L242.06 310.14L242.22 309.52L242.38 310.30L242.54 310.43L242.70 312.55L242.86 308.56L243.02 310.91L243.18 309.45L243.34 310.15L243.50 308.67L243.66 311.05L243.82 310.89L243.98 309.28L244.14 309.26L244.30 309.98L244.46 308.85L244.62 309.94L244.78 309.72L244.94 310.81L245.10 309.22L245.26 308.14L245.42 309.33L245.58 309.19L245.74 308.00L245.90 309.60L246.06 309.89L246.22 308.88L246.38 307.10L246.54 309.45L246.70 308.99L246.86 308.51L247.02 309.43L247.18 309.31L247.34 307.36L247.50 311.07L247.66 308.17L247.82 307.66L247.98 307.28L248.14 308.37L248.30 308.06L248.46 309.34L248.62 310.88L248.78 308.26L248.94 308.28L249.10 307.97L249.26 306.95L249.42 305.57L249.58 307.78L249.74 306.41L249.90 308.07L250.06 307.87L250.22 309.57L250.38 307.91L250.54 309.00L250.70 307.90L250.86 309.98L251.02 306.84L251.18 310.13L251.34 307.48L251.50 310.82L251.66 307.97L251.82 307.64L251.98 306.97L252.14 306.17L252.30 309.59L252.46 308.07L252.62 308.20L252.78 307.83L252.94 306.49L253.10 308.71L253.26 307.00L253.42 304.60L253.58 302.94L253.74 309.32L253.90 299.31L254.06 307.11L254.22 296.70L254.38 306.72L254.54 295.22L254.70 306.25L254.86 297.76L255.02 308.60L255.18 299.49L255.34 308.48L255.50 302.81L255.66 306.06L255.82 307.00L255.98 309.25L256.14 310.51L256.30 306.25L256.46 307.68L256.62 306.80L256.78 309.95L256.94 307.36L257.10 307.37L257.26 307.46L257.42 307.51L257.58 307.80L257.74 307.77L257.90 309.39L258.06 305.35L258.22 308.42L258.38 309.53L258.54 307.31L258.70 308.04L258.86 308.77L259.02 303.93L259.18 307.18L259.34 310.28L259.50 308.37L259.66 308.21L259.82 307.75L259.98 306.89L260.14 307.06L260.30 305.40L260.46 308.21L260.62 308.05L260.78 306.31L260.94 306.17L261.10 307.97L261.26 308.38L261.42 306.22L261.58 306.82L261.74 306.21L261.90 306.26L262.06 308.00L262.22 309.73L262.38 305.68L262.54 305.41L262.70 303.83L262.86 305.10L263.02 302.23L263.18 308.94L263.34 300.54L263.50 308.07L263.66 280.00L263.82 261.70L263.98 297.68L264.14 274.00L264.30 297.14L264.46 307.43L264.62 298.13L264.78 308.30L264.94 298.88L265.10 305.44L265.26 300.79L265.42 307.83L265.58 302.04L265.74 292.00L265.90 303.94L266.06 306.66L266.22 305.50L266.38 310.22L266.54 308.00L266.70 307.12L266.86 307.09L267.02 310.09L267.18 307.63L267.34 313.19L267.50 302.55L267.66 312.22L267.82 301.95L267.98 312.50L268.14 302.14L268.30 312.64L268.46 305.80L268.62 312.40L268.78 305.20L268.94 312.79L269.10 304.60L269.26 312.75L269.42 305.99L269.58 312.67L269.74 305.56L269.90 313.09L270.06 306.96L270.22 312.88L270.38 302.86L270.54 312.98L270.70 304.71L270.86 313.32L271.02 304.18L271.18 312.31L271.34 302.83L271.50 313.31L271.66 306.20L271.82 312.53L271.98 301.87L272.14 313.34L272.30 306.39L272.46 312.95L272.62 302.47L272.78 312.79L272.94 302.43L273.10 312.12L273.26 301.43L273.42 312.96L273.58 306.62L273.74 313.24L273.90 304.82L274.06 312.27L274.22 302.23L274.38 312.76L274.54 305.99L274.70 313.12L274.86 302.94L275.02 307.42L275.18 308.25L275.34 304.28L275.50 307.55L275.66 308.94L275.82 306.00L275.98 303.93L276.14 308.00L276.30 307.65L276.46 305.19L276.62 310.72L276.78 303.08L276.94 310.52L277.10 284.30L277.26 305.75L277.42 299.66L277.58 306.06L277.74 298.17L277.90 310.12L278.06 296.86L278.22 309.02L278.38 294.22L278.54 310.34L278.70 292.61L278.86 309.88L279.02 290.40L279.18 308.88L279.34 317.00L279.50 305.65L279.66 293.35L279.82 307.40L279.98 294.08L280.14 306.97L280.30 297.58L280.46 310.72L280.62 298.04L280.78 306.58L280.94 289.00L281.10 308.88L281.26 302.02L281.42 308.13L281.58 304.16L281.74 310.61L281.90 306.40L282.06 309.87L282.22 310.23L282.38 305.21L282.54 310.19L282.70 309.06L282.86 306.76L283.02 307.52L283.18 306.73L283.34 308.00L283.50 307.60L283.66 305.58L283.82 310.59L283.98 303.78L284.14 308.13L284.30 301.87L284.46 307.92L284.62 299.69L284.78 307.70L284.94 299.12L285.10 273.50L285.26 297.07L285.42 305.95L285.58 296.42L285.74 308.42L285.90 293.85L286.06 308.32L286.22 291.93L286.38 306.84L286.54 291.40L286.70 306.20L286.86 292.08L287.02 305.31L287.18 292.92L287.34 308.83L287.50 295.33L287.66 306.56L287.82 296.79L287.98 306.69L288.14 297.88L288.30 306.31L288.46 299.00L288.62 308.98L288.78 301.17L288.94 305.26L289.10 302.88L289.26 306.19L289.42 304.18L289.58 305.99L289.74 306.56L289.90 312.00L290.06 307.31L290.22 306.39L290.38 308.03L290.54 306.69L290.70 308.68L290.86 308.25L291.02 308.00L291.18 305.35L291.34 305.91L291.50 310.14L291.66 304.30L291.82 310.95L291.98 302.40L292.14 292.50L292.30 301.05L292.46 308.67L292.62 300.62L292.78 309.26L292.94 298.78L293.10 309.32L293.26 296.97L293.42 308.72L293.58 296.08L293.74 306.88L293.90 296.97L294.06 310.83L294.22 297.09L294.38 306.88L294.54 298.77L294.70 305.04L294.86 300.35L295.02 305.46L295.18 301.72L295.34 308.13L295.50 282.40L295.66 306.48L295.82 304.22L295.98 309.00L296.14 305.98L296.30 306.07L296.46 308.00L296.62 307.57L296.78 303.76L296.94 308.13L297.10 322.55L297.26 307.77L297.42 322.07L297.58 306.78L297.74 322.55L297.90 306.86L298.06 323.38L298.22 309.52L298.38 323.53L298.54 310.15L298.70 321.95L298.86 309.72L299.02 307.61L299.18 306.71L299.34 308.45L299.50 304.53L299.66 310.40L299.82 307.67L299.98 307.37L300.14 309.03L300.30 307.82L300.46 310.36L300.62 309.52L300.78 307.72L300.94 309.31L301.10 307.25L301.26 307.04L301.42 305.39L301.58 306.77L301.74 308.55L301.90 308.92L302.06 306.78L302.22 308.63L302.38 303.86L302.54 307.69L302.70 308.26L302.86 309.05L303.02 307.75L303.18 308.10L303.34 306.99L303.50 308.79L303.66 308.49L303.82 307.95L303.98 308.32L304.14 309.29L304.30 307.79L304.46 307.96L304.62 308.03L304.78 307.14L304.94 309.47L305.10 307.61L305.26 306.63L305.42 307.50L305.58 307.83L305.74 308.76L305.90 308.30L306.06 309.86L306.22 304.20L306.38 306.96L306.54 306.84L306.70 306.13L306.86 307.50L307.02 307.19L307.18 307.39L307.34 309.14L307.50 311.06L307.66 306.59L307.82 305.82L307.98 306.69L308.14 307.82L308.30 306.61L308.46 306.15L308.62 389.00L308.78 306.98L308.94 306.08L309.10 310.40L309.26 306.20L309.42 306.39L309.58 309.32L309.74 307.64L309.90 306.81L310.06 305.82L310.22 306.36L310.38 305.85L310.54 307.55L310.70 307.57L310.86 306.83L311.02 308.73L311.18 309.19L311.34 303.40L311.50 307.89L311.66 307.57L311.82 306.03L311.98 311.56L312.14 308.01L312.30 305.30L312.46 339.50L312.62 331.58L312.78 337.47L312.94 334.49L313.10 333.37L313.26 331.64L313.42 330.96L313.58 328.37L313.74 328.57L313.90 327.72L314.06 323.68L314.22 324.84L314.38 325.51L314.54 323.16L314.70 320.41L314.86 318.51L315.02 320.44L315.18 315.96L315.34 320.13L315.50 320.36L315.66 319.91L315.82 318.33L315.98 321.24L316.14 312.97L316.30 315.57L316.46 318.10L316.62 317.48L316.78 315.19L316.94 311.45L317.10 317.60L317.26 312.75L317.42 314.53L317.58 315.63L317.74 313.53L317.90 315.38L318.06 315.83L318.22 315.97L318.38 308.73L318.54 314.50L318.70 314.27L318.86 313.91L319.02 314.02L319.18 314.46L319.34 311.74L319.50 312.76L319.66 312.09L319.82 314.20L319.98 309.93L320.14 311.98L320.30 310.34L320.46 312.83L320.62 312.62L320.78 313.39L320.94 309.39L321.10 311.28L321.26 312.83L321.42 311.66L321.58 311.52L321.74 311.19L321.90 309.75L322.06 309.50L322.22 310.25L322.38 311.60L322.54 311.24L322.70 310.99L322.86 310.62L323.02 309.26L323.18 310.08L323.34 309.49L323.50 308.34L323.66 309.38L323.82 306.81L323.98 310.35L324.14 307.70L324.30 308.86L324.46 307.71L324.62 307.77L324.78 307.75L324.94 308.35L325.10 307.50L325.26 308.40L325.42 307.52L325.58 308.17L325.74 308.52L325.90 306.71L326.06 307.59L326.22 308.18L326.38 307.27L326.54 307.12L326.70 306.50L326.86 307.39L327.02 307.16L327.18 308.23L327.34 306.43L327.50 307.94L327.66 307.56L327.82 307.49L327.98 307.15L328.14 307.58L328.30 307.64L328.46 307.56L328.62 306.74L328.78 306.98L328.94 307.23L329.10 307.28L329.26 308.11L329.42 307.83L329.58 308.25L329.74 306.55L329.90 308.56L330.06 308.33L330.22 308.07L330.38 307.88L330.54 308.57L330.70 308.25L330.86 307.17L331.02 308.52L331.18 307.06L331.34 307.40L331.50 308.04L331.66 309.13L331.82 308.02L331.98 307.64L332.14 304.50L332.30 307.82L332.46 307.57L332.62 307.72L332.78 306.63L332.94 307.28L333.10 306.93L333.26 307.52L333.42 308.94L333.58 307.77L333.74 307.52L333.90 308.29L334.06 307.23L334.22 307.53L334.38 308.66L334.54 307.07L334.70 307.37L334.86 307.65L335.02 308.03L335.18 307.03L335.34 309.02L335.50 307.95L335.66 306.95L335.82 389.00L335.98 308.70L336.14 310.71L336.30 312.82L336.46 313.03L336.62 311.28L336.78 311.60L336.94 312.20L337.10 311.61L337.26 311.84L337.42 311.99L337.58 311.60L337.74 311.08L337.90 312.39L338.06 311.94L338.22 311.61L338.38 311.84L338.54 311.39L338.70 312.05L338.86 311.44L339.02 310.73L339.18 311.17L339.34 310.98L339.50 310.52L339.66 309.87L339.82 311.03L339.98 310.95L340.14 310.00L340.30 309.99L340.46 310.78L340.62 310.45L340.78 310.11L340.94 309.68L341.10 309.51L341.26 308.87L341.42 308.26L341.58 308.41L341.74 309.18L341.90 309.01L342.06 309.07L342.22 308.98L342.38 307.92L342.54 308.19L342.70 309.52L342.86 308.33L343.02 307.67L343.18 309.04L343.34 307.83L343.50 307.10L343.66 309.09L343.82 308.35L343.98 308.58L344.14 307.74L344.30 307.71L344.46 307.04L344.62 307.63L344.78 307.81L344.94 307.69L345.10 306.98L345.26 308.15L345.42 307.75L345.58 307.98L345.74 307.83L345.90 306.95L346.06 307.94L346.22 307.02L346.38 308.02L346.54 308.20L346.70 308.38L346.86 306.06L347.02 307.62L347.18 306.91L347.34 307.71L347.50 307.50L347.66 308.07L347.82 306.97L347.98 307.23L348.14 308.00L348.30 307.19L348.46 306.96L348.62 306.98L348.78 307.40L348.94 306.98L349.10 307.04L349.26 307.54L349.42 308.54L349.58 308.12L349.74 306.80L349.90 307.99L350.06 307.64L350.22 307.70L350.38 307.96L350.54 306.65L350.70 307.91L350.86 306.78L351.02 307.54L351.18 307.77L351.34 307.55L351.50 308.32L351.66 307.48L351.82 307.29L351.98 307.55L352.14 307.56L352.30 308.02L352.46 307.24L352.62 308.01L352.78 307.88L352.94 308.04L353.10 306.80L353.26 307.51L353.42 307.77L353.58 306.93L353.74 307.81L353.90 308.25L354.06 307.48L354.22 307.30L354.38 307.06L354.54 308.62L354.70 307.99L354.86 306.96L355.02 307.30L355.18 307.67L355.34 308.55L355.50 307.63L355.66 308.00L355.82 308.18L355.98 307.47L356.14 308.10L356.30 307.52L356.46 307.14L356.62 307.83L356.78 307.07L356.94 306.85L357.10 306.89L357.26 308.11L357.42 308.27L357.58 308.10L357.74 308.38L357.90 308.00L358.06 307.46L358.22 307.55L358.38 307.34L358.54 306.80L358.70 307.77L358.86 308.09L359.02 308.15L359.18 308.20L359.34 307.33L359.50 306.80L359.66 307.39L359.82 307.81L359.98 307.50L360.14 306.99L360.30 307.83L360.46 307.20L360.62 307.56L360.78 307.87L360.94 307.03L361.10 307.05L361.26 307.60L361.42 308.02L361.58 308.27L361.74 308.06L361.90 306.87L362.06 307.50L362.22 307.47L362.38 307.27L362.54 307.56L362.70 307.39L362.86 308.02L363.02 306.87L363.18 308.08L363.34 307.15L363.50 308.95L363.66 308.08L363.82 308.25L363.98 307.30L364.14 308.34L364.30 308.34L364.46 307.24L364.62 306.78L364.78 307.13L364.94 306.40L365.10 307.10L365.26 308.20L365.42 308.74L365.58 307.95L365.74 308.02L365.90 308.19L366.06 307.61L366.22 306.75L366.38 307.03L366.54 307.42L366.70 307.27L366.86 307.99L367.02 306.87L367.18 307.99L367.34 307.35L367.50 308.00L367.66 307.84L367.82 307.20L367.98 306.72L368.14 308.39L368.30 307.36L368.46 306.08L368.62 307.33L368.78 307.31L368.94 306.98L369.10 307.38L369.26 307.17L369.42 307.48L369.58 308.24L369.74 307.34L369.90 307.63L370.06 306.77L370.22 308.44L370.38 308.14L370.54 306.52L370.70 307.73L370.86 306.77L371.02 307.92L371.18 307.02L371.34 308.33L371.50 308.36L371.66 307.70L371.82 307.40L371.98 307.77L372.14 306.73L372.30 307.92L372.46 307.10L372.62 307.91L372.78 308.06L372.94 307.19L373.10 307.97L373.26 308.69L373.42 307.49L373.58 307.10L373.74 307.42L373.90 307.98L374.06 308.30L374.22 308.14L374.38 307.39L374.54 306.63L374.70 308.23L374.86 307.64L375.02 307.02L375.18 307.34L375.34 307.59L375.50 307.90L375.66 307.18L375.82 307.69L375.98 303.00L376.14 311.70L376.30 307.29L376.46 307.33L376.62 307.34L376.78 308.03L376.94 307.04L377.10 307.26L377.26 307.73L377.42 308.30L377.58 307.39L377.74 307.07L377.90 308.69L378.06 307.34L378.22 307.79L378.38 307.68L378.54 307.46L378.70 307.07L378.86 307.49L379.02 308.29L379.18 307.31L379.34 307.35L379.50 307.69L379.66 306.77L379.82 307.78L379.98 307.05L380.14 306.98L380.30 307.45L380.46 307.46L380.62 307.76L380.78 307.85L380.94 307.89L381.10 308.09L381.26 307.84L381.42 308.01L381.58 307.78L381.74 307.76L381.90 306.98L382.06 308.34L382.22 308.11L382.38 307.01L382.54 306.97L382.70 307.18L382.86 307.50L383.02 306.23L383.18 307.50L383.34 307.51L383.50 306.97L383.66 308.12L383.82 307.77L383.98 307.76L384.14 308.41L384.30 307.28L384.46 306.73L384.62 307.18L384.78 307.83L384.94 307.75L385.10 308.16L385.26 307.67L385.42 307.39L385.58 308.27L385.74 307.13L385.90 308.38L386.06 307.96L386.22 307.60L386.38 307.13L386.54 307.63L386.70 308.30L386.86 308.35L387.02 307.53L387.18 307.44L387.34 307.39L387.50 308.45L387.66 307.36L387.82 307.21L387.98 308.11L388.14 308.08L388.30 307.23L388.46 308.10L388.62 307.25L388.78 306.75L388.94 307.97L389.10 307.38L389.26 307.34L389.42 307.28L389.58 307.38L389.74 307.38L389.90 307.86L390.06 307.63L390.22 307.24L390.38 306.85L390.54 307.21L390.70 306.78L390.86 307.14L391.02 307.54L391.18 307.20L391.34 307.06L391.50 308.49L391.66 307.52L391.82 308.57L391.98 307.18L392.14 306.16L392.30 306.71L392.46 305.45L392.62 306.71L392.78 305.95L392.94 308.51L393.10 300.50L393.26 304.76L393.42 303.94L393.58 307.31L393.74 305.41L393.90 296.90L394.06 306.98L394.22 308.62L394.38 304.04L394.54 309.24L394.70 306.33L394.86 306.40L395.02 310.65L395.18 304.60L395.34 306.45L395.50 308.68L395.66 305.05L395.82 309.87L395.98 304.34L396.14 306.87L396.30 308.17L396.46 304.16L396.62 307.39L396.78 317.60L396.94 306.77L397.10 307.16L397.26 311.17L397.42 308.45L397.58 308.05L397.74 303.31L397.90 305.46L398.06 309.49L398.22 307.24L398.38 307.35L398.54 304.09L398.70 304.81L398.86 307.46L399.02 293.50L399.18 310.88L399.34 311.37L399.50 309.27L399.66 301.07L399.82 307.22L399.98 309.03L400.14 305.60L400.30 302.83L400.46 307.75L400.62 306.94L400.78 303.55L400.94 307.18L401.10 308.14L401.26 308.60L401.42 306.38L401.58 308.29L401.74 307.60L401.90 306.60L402.06 308.93L402.22 309.47L402.38 307.28L402.54 308.00L402.70 308.41L402.86 308.48L403.02 305.91L403.18 306.59L403.34 307.33L403.50 307.10L403.66 307.16L403.82 307.68L403.98 308.94L404.14 307.47L404.30 305.82L404.46 304.09L404.62 307.16L404.78 307.41L404.94 308.38L405.10 305.98L405.26 309.57L405.42 308.39L405.58 308.95L405.74 308.29L405.90 306.95L406.06 307.68L406.22 308.77L406.38 307.36L406.54 306.04L406.70 307.81L406.86 309.97L407.02 307.60L407.18 305.60L407.34 307.75L407.50 306.84L407.66 307.41L407.82 307.30L407.98 307.28L408.14 304.36L408.30 306.86L408.46 309.48L408.62 306.39L408.78 307.67L408.94 306.68L409.10 307.03L409.26 307.66L409.42 307.28L409.58 307.95L409.74 309.05L409.90 300.70L410.06 309.29L410.22 308.34L410.38 305.70L410.54 305.66L410.70 307.30L410.86 306.61L411.02 306.69L411.18 307.30L411.34 308.91L411.50 308.38L411.66 305.20L411.82 308.32L411.98 308.31L412.14 306.68L412.30 308.68L412.46 307.62L412.62 308.84L412.78 306.08L412.94 307.08L413.10 304.37L413.26 306.10L413.42 308.94L413.58 308.45L413.74 312.05L413.90 308.99L414.06 307.41L414.22 308.98L414.38 309.48L414.54 308.49L414.70 307.25L414.86 305.46L415.02 307.65L415.18 307.84L415.34 336.20L415.50 308.89L415.66 306.83L415.82 307.04L415.98 308.13L416.14 306.44L416.30 306.88L416.46 306.92L416.62 308.43L416.78 307.78L416.94 308.34L417.10 307.78L417.26 307.21L417.42 306.39L417.58 306.68L417.74 307.14L417.90 308.61L418.06 308.59L418.22 307.90L418.38 307.49L418.54 307.94L418.70 307.50L418.86 307.12L419.02 306.61L419.18 307.71L419.34 307.80L419.50 308.30L419.66 307.05L419.82 308.98L419.98 309.92L420.14 305.82L420.30 306.16L420.46 307.73L420.62 308.72L420.78 305.86L420.94 306.52L421.10 307.83L421.26 308.37L421.42 306.68L421.58 307.78L421.74 307.21L421.90 307.88L422.06 306.80L422.22 308.66L422.38 307.48L422.54 306.49L422.70 308.15L422.86 308.54L423.02 307.30L423.18 307.27L423.34 308.77L423.50 308.32L423.66 307.19L423.82 307.67L423.98 308.84L424.14 307.87L424.30 307.21L424.46 307.50L424.62 307.42L424.78 307.93L424.94 309.21L425.10 342.80L425.26 307.69L425.42 307.97L425.58 307.11L425.74 306.64L425.90 306.93L426.06 306.60L426.22 308.90L426.38 307.36L426.54 308.20L426.70 307.67L426.86 308.31L427.02 308.44L427.18 306.40L427.34 306.42L427.50 307.45L427.66 308.00L427.82 306.72L427.98 307.52L428.14 307.03L428.30 306.67L428.46 307.81L428.62 307.31L428.78 306.40L428.94 306.87L429.10 308.28L429.26 308.96L429.42 308.41L429.58 306.89L429.74 308.24L429.90 308.05L430.06 307.79L430.22 306.37L430.38 305.78L430.54 307.55L430.70 306.53L430.86 307.52L431.02 307.20L431.18 307.69L431.34 306.71L431.50 307.54L431.66 305.68L431.82 308.13L431.98 305.79L432.14 308.61L432.30 309.15L432.46 307.77L432.62 307.56L432.78 307.40L432.94 307.32L433.10 307.41L433.26 307.40L433.42 307.56L433.58 306.61L433.74 307.89L433.90 308.09L434.06 308.79L434.22 306.86L434.38 306.56L434.54 306.78L434.70 307.48L434.86 307.53L435.02 307.43L435.18 308.65L435.34 308.17L435.50 308.03L435.66 306.96L435.82 306.70L435.98 308.50L436.14 305.21L436.30 307.09L436.46 309.34L436.62 307.24L436.78 306.86L436.94 307.91L437.10 307.29L437.26 308.83L437.42 307.44L437.58 307.78L437.74 306.99L437.90 306.84L438.06 307.46L438.22 310.85L438.38 307.36L438.54 307.79L438.70 308.40L438.86 307.67L439.02 306.88L439.18 307.51L439.34 307.69L439.50 306.02L439.66 308.58L439.82 308.01L439.98 300.00L440.14 315.40L440.30 306.51L440.46 305.35L440.62 305.86L440.78 308.91L440.94 306.80L441.10 305.34L441.26 308.11L441.42 306.95L441.58 308.95L441.74 308.53L441.90 306.66L442.06 307.57L442.22 308.54L442.38 306.21L442.54 308.14L442.70 307.05L442.86 307.87L443.02 308.89L443.18 307.57L443.34 308.00L443.50 306.28L443.66 308.63L443.82 307.59L443.98 307.69L444.14 306.30L444.30 308.23L444.46 307.08L444.62 306.47L444.78 307.23L444.94 307.86L445.10 308.11L445.26 307.13L445.42 307.95L445.58 307.33L445.74 307.39L445.90 307.34L446.06 308.25L446.22 306.06L446.38 306.97L446.54 307.54L446.70 306.59L446.86 308.39L447.02 307.99L447.18 306.76L447.34 308.35L447.50 308.67L447.66 308.78L447.82 309.31L447.98 308.14L448.14 307.80L448.30 306.97L448.46 309.55L448.62 307.02L448.78 308.81L448.94 307.42L449.10 305.95L449.26 308.87L449.42 305.97L449.58 308.13L449.74 308.10L449.90 308.60L450.06 307.40L450.22 305.47L450.38 309.20L450.54 310.01L450.70 307.44L450.86 305.16L451.02 307.13L451.18 305.88L451.34 309.48L451.50 306.81L451.66 308.28L451.82 308.19L451.98 307.36L452.14 308.26L452.30 307.76L452.46 309.12L452.62 307.68L452.78 309.76L452.94 306.18L453.10 305.92L453.26 307.55L453.42 309.54L453.58 306.19L453.74 307.91L453.90 307.37L454.06 308.84L454.22 306.41L454.38 308.04L454.54 307.80L454.70 307.64L454.86 308.07L455.02 307.31L455.18 306.29L455.34 307.53L455.50 307.15L455.66 307.38L455.82 306.87L455.98 307.76L456.14 308.50L456.30 306.10L456.46 305.51L456.62 307.12L456.78 308.01L456.94 307.53L457.10 306.82L457.26 307.06L457.42 308.29L457.58 308.70L457.74 307.74L457.90 307.22L458.06 307.75L458.22 308.41L458.38 308.68L458.54 307.27L458.70 309.92L458.86 308.70L459.02 306.92L459.18 309.75L459.34 307.82L459.50 306.07L459.66 308.43L459.82 309.22L459.98 309.71L460.14 306.38L460.30 309.81L460.46 307.34L460.62 309.29L460.78 307.32L460.94 307.46L461.10 306.83L461.26 309.08L461.42 307.97L461.58 309.68L461.74 307.67L461.90 306.87L462.06 308.48L462.22 306.67L462.38 307.13L462.54 306.51L462.70 305.90L462.86 307.80L463.02 306.00L463.18 307.78L463.34 308.79L463.50 306.84L463.66 308.31L463.82 310.14L463.98 307.05L464.14 307.02L464.30 306.05L464.46 306.81L464.62 307.44L464.78 310.06L464.94 307.43L465.10 306.29L465.26 308.98L465.42 306.67L465.58 306.53L465.74 307.70L465.90 307.13L466.06 307.74L466.22 309.59L466.38 308.92L466.54 307.06L466.70 308.16L466.86 306.79L467.02 306.04L467.18 306.74L467.34 307.76L467.50 308.49L467.66 308.47L467.82 304.49L467.98 307.34L468.14 306.34L468.30 305.39L468.46 306.52L468.62 307.54L468.78 308.93L468.94 308.04L469.10 307.15L469.26 306.80L469.42 306.25L469.58 308.59L469.74 307.36L469.90 308.32L470.06 307.78L470.22 306.90L470.38 308.91L470.54 306.91L470.70 306.86L470.86 306.66L471.02 306.75L471.18 308.30L471.34 307.37L471.50 305.92L471.66 307.78L471.82 308.66L471.98 306.54L472.14 307.89L472.30 307.96L472.46 309.04L472.62 307.74L472.78 307.92L472.94 306.59L473.10 308.50L473.26 308.86L473.42 307.03L473.58 308.03L473.74 309.02L473.90 305.93L474.06 307.21L474.22 307.37L474.38 306.80L474.54 307.26L474.70 307.04L474.86 306.72L475.02 308.41L475.18 307.55L475.34 309.07L475.50 314.40L475.66 307.85L475.82 307.05L475.98 306.46L476.14 307.72L476.30 307.14L476.46 307.35L476.62 307.78L476.78 308.74L476.94 305.95L477.10 308.29L477.26 306.02L477.42 306.71L477.58 304.00L477.74 308.48L477.90 306.71L478.06 308.82L478.22 305.91L478.38 308.51L478.54 308.38L478.70 307.17L478.86 307.14L479.02 307.56L479.18 307.97L479.34 307.33L479.50 306.80L479.66 306.73L479.82 307.71L479.98 304.81L480.14 307.06L480.30 306.33L480.46 308.69L480.62 307.74L480.78 306.94L480.94 310.18L481.10 307.40L481.26 307.94L481.42 308.28L481.58 306.71L481.74 306.19L481.90 308.46L482.06 308.79L482.22 306.37L482.38 307.15L482.54 307.67L482.70 307.11L482.86 307.68L483.02 307.26L483.18 307.58L483.34 307.00L483.50 308.31L483.66 306.58L483.82 308.69L483.98 304.93L484.14 306.72L484.30 306.22L484.46 305.38L484.62 306.56L484.78 308.46L484.94 307.20L485.10 307.38L485.26 307.52L485.42 306.89L485.58 307.60L485.74 308.34L485.90 308.04L486.06 307.42L486.22 307.05L486.38 308.42L486.54 305.87L486.70 307.32L486.86 308.08L487.02 317.00L487.18 307.56L487.34 308.56L487.50 306.90L487.66 309.43L487.82 309.39L487.98 307.27L488.14 307.99L488.30 306.30L488.46 307.87L488.62 307.86L488.78 309.20L488.94 308.75L489.10 304.00L489.26 308.12L489.42 308.84L489.58 306.84L489.74 305.18L489.90 305.80L490.06 306.12L490.22 307.14L490.38 309.48L490.54 307.00L490.70 305.35L490.86 308.68L491.02 305.26L491.18 307.99L491.34 307.09L491.50 307.54L491.66 309.19L491.82 307.41L491.98 306.38L492.14 309.19L492.30 307.59L492.46 308.82L492.62 307.37L492.78 306.87L492.94 307.59L493.10 308.55L493.26 306.15L493.42 306.89L493.58 309.03L493.74 308.39L493.90 308.39L494.06 307.48L494.22 306.34L494.38 307.82L494.54 309.03L494.70 308.28L494.86 306.93L495.02 303.80L495.18 309.03L495.34 305.41L495.50 305.08L495.66 306.91L495.82 308.50L495.98 308.29L496.14 307.74L496.30 309.80L496.46 307.56L496.62 307.79L496.78 306.94L496.94 308.38L497.10 306.91L497.26 308.66L497.42 307.34L497.58 307.91L497.74 309.64L497.90 307.62L498.06 308.42L498.22 305.74L498.38 306.77L498.54 306.50L498.70 305.84L498.86 307.37L499.02 307.78L499.18 305.97L499.34 306.63L499.50 307.00L499.66 308.18L499.82 307.83L499.98 308.10L500.14 306.04L500.30 308.96L500.46 308.09L500.62 305.87L500.78 307.10L500.94 309.08L501.10 307.42L501.26 305.26L501.42 307.20L501.58 306.31L501.74 307.27L501.90 308.34L502.06 307.17L502.22 306.95L502.38 307.12L502.54 307.36L502.70 308.20L502.86 309.51L503.02 306.40L503.18 308.17L503.34 305.58L503.50 306.88L503.66 306.95L503.82 307.87L503.98 307.34L504.14 306.82L504.30 306.41L504.46 307.65L504.62 307.56L504.78 307.60L504.94 306.76L505.10 308.78L505.26 306.89L505.42 309.53L505.58 306.80L505.74 306.67L505.90 309.01L506.06 309.94L506.22 306.94L506.38 307.88L506.54 306.51L506.70 306.64L506.86 306.98L507.02 304.55L507.18 307.69L507.34 308.01L507.50 306.48L507.66 307.55L507.82 306.38L507.98 307.44L508.14 308.46L508.30 304.14L508.46 307.75L508.62 307.61L508.78 308.20L508.94 305.00L509.10 306.41L509.26 306.12L509.42 307.89L509.58 307.66L509.74 306.78L509.90 307.21L510.06 308.11L510.22 308.25L510.38 307.62L510.54 306.77L510.70 305.52L510.86 306.44L511.02 308.51L511.18 308.10L511.34 307.07L511.50 307.12L511.66 307.32L511.82 307.70L511.98 307.23L512.14 307.77L512.30 307.01L512.46 308.45L512.62 309.09L512.78 306.98L512.94 307.76L513.10 306.64L513.26 309.38L513.42 306.35L513.58 308.60L513.74 306.89L513.90 309.56L514.06 305.89L514.22 307.03L514.38 306.06L514.54 309.63L514.70 308.39L514.86 308.48L515.02 308.56L515.18 306.64L515.34 308.47L515.50 306.90L515.66 306.75L515.82 309.08L515.98 309.17L516.14 306.99L516.30 305.86L516.46 307.10L516.62 308.63L516.78 307.52L516.94 306.79L517.10 307.64L517.26 307.22L517.42 304.59L517.58 307.58L517.74 308.44L517.90 307.91L518.06 309.87L518.22 308.25L518.38 308.15L518.54 307.78L518.70 306.31L518.86 311.20L519.02 305.72L519.18 308.83L519.34 306.40L519.50 307.74L519.66 307.34L519.82 305.18L519.98 306.51L520.14 309.19L520.30 306.63L520.46 308.26L520.62 306.97L520.78 309.10L520.94 305.83L521.10 309.62L521.26 308.05L521.42 309.60L521.58 307.58L521.74 307.05L521.90 308.40L522.06 307.80L522.22 307.07L522.38 306.61L522.54 308.78L522.70 307.57L522.86 308.04L523.02 307.60L523.18 308.52L523.34 308.52L523.50 316.00L523.66 310.94L523.82 308.57L523.98 305.25L524.14 309.05L524.30 310.05L524.46 311.00L524.62 308.88L524.78 306.56L524.94 305.84L525.10 306.82L525.26 307.41L525.42 308.29L525.58 310.37L525.74 308.08L525.90 308.97L526.06 307.20L526.22 305.07L526.38 308.98L526.54 306.35L526.70 307.23L526.86 309.53L527.02 307.51L527.18 308.46L527.34 309.05L527.50 307.58L527.66 306.47L527.82 310.78L527.98 305.93L528.14 308.91L528.30 307.82L528.46 308.70L528.62 307.42L528.78 307.02L528.94 305.63L529.10 305.29L529.26 309.93L529.42 304.31L529.58 309.21L529.74 307.69L529.90 307.21L530.06 304.86L530.22 310.09L530.38 306.71L530.54 306.97L530.70 308.11L530.86 304.74L531.02 307.67L531.18 306.71L531.34 306.69L531.50 307.89L531.66 306.17L531.82 311.85L531.98 309.11L532.14 306.77L532.30 306.31L532.46 306.66L532.62 307.53L532.78 308.99L532.94 305.81L533.10 305.87L533.26 307.36L533.42 308.89L533.58 308.17L533.74 309.49L533.90 309.13L534.06 306.79L534.22 307.00L534.38 303.04L534.54 309.67L534.70 309.39L534.86 305.58L535.02 309.11L535.18 306.52L535.34 307.17L535.50 307.23L535.66 307.35L535.82 305.68L535.98 306.10L536.14 308.71L536.30 308.94L536.46 307.14L536.62 307.83L536.78 312.53L536.94 307.59L537.10 304.95L537.26 309.58L537.42 308.92L537.58 310.14L537.74 307.18L537.90 308.29L538.06 309.47L538.22 307.14L538.38 304.11L538.54 310.24L538.70 305.17L538.86 309.04L539.02 307.34L539.18 306.49L539.34 308.01L539.50 307.75L539.66 303.66L539.82 306.82L539.98 308.09L540.14 305.79L540.30 306.70L540.46 307.90L540.62 307.92L540.78 309.28L540.94 308.18L541.10 309.53L541.26 306.90L541.42 309.33L541.58 307.49L541.74 303.66L541.90 306.96L542.06 306.50L542.22 305.43L542.38 308.63L542.54 307.99L542.70 306.97L542.86 306.37L543.02 305.57L543.18 305.80L543.34 309.81L543.50 308.90L543.66 306.02L543.82 309.09L543.98 307.39L544.14 306.27L544.30 306.42L544.46 307.36L544.62 304.94L544.78 307.91L544.94 305.54L545.10 305.46L545.26 307.36L545.42 306.07L545.58 308.41L545.74 306.48L545.90 308.43L546.06 310.59L546.22 307.33L546.38 307.36L546.54 307.08L546.70 307.36L546.86 308.37L547.02 306.30L547.18 308.85L547.34 306.36L547.50 309.32L547.66 309.29L547.82 308.24L547.98 308.01L548.14 309.47L548.30 306.89L548.46 307.12L548.62 309.25L548.78 306.32L548.94 308.33L549.10 306.68L549.26 308.53L549.42 307.76L549.58 307.40L549.74 307.58L549.90 307.85L550.06 305.94L550.22 308.70L550.38 307.67L550.54 306.05L550.70 306.88L550.86 307.75L551.02 309.37L551.18 307.52L551.34 308.03L551.50 306.76L551.66 307.43L551.82 308.33L551.98 309.13L552.14 307.83L552.30 307.70L552.46 306.76L552.62 307.13L552.78 307.82L552.94 307.11L553.10 305.19L553.26 308.80L553.42 305.03L553.58 306.73L553.74 308.60L553.90 309.21L554.06 308.20L554.22 307.27L554.38 307.27L554.54 308.57L554.70 307.77L554.86 306.90L555.02 307.42L555.18 307.00L555.34 307.96L555.50 307.83L555.66 305.32L555.82 310.39L555.98 308.21L556.14 307.28L556.30 309.98L556.46 310.04L556.62 308.44L556.78 308.67L556.94 308.64L557.10 308.70L557.26 307.33L557.42 307.70L557.58 306.54L557.74 308.25L557.90 306.99L558.06 308.49L558.22 308.02L558.38 308.17L558.54 308.97L558.70 306.82L558.86 308.45L559.02 300.70L559.18 304.96L559.34 315.00L559.50 307.35L559.66 309.49L559.82 307.98L559.98 309.04L560.14 310.21L560.30 309.17L560.46 307.88L560.62 307.75L560.78 307.19L560.94 307.00L561.10 307.15L561.26 308.99L561.42 308.94L561.58 307.18L561.74 306.49L561.90 306.77L562.06 309.66L562.22 310.08L562.38 310.33L562.54 305.91L562.70 308.61L562.86 307.00L563.02 306.55L563.18 307.65L563.34 307.27L563.50 308.19L563.66 308.10L563.82 309.31L563.98 307.16L564.14 307.92L564.30 305.57L564.46 307.32L564.62 306.94L564.78 307.32L564.94 306.55L565.10 304.90L565.26 305.82L565.42 306.04L565.58 308.92L565.74 309.70L565.90 309.02L566.06 307.62L566.22 308.61L566.38 308.50L566.54 307.02L566.70 307.72L566.86 306.38L567.02 308.46L567.18 306.57L567.34 310.48L567.50 307.46L567.66 307.62L567.82 305.52L567.98 305.94L568.14 308.97L568.30 305.09L568.46 308.44L568.62 310.23L568.78 307.33L568.94 307.69L569.10 303.92L569.26 305.66L569.42 307.82L569.58 310.22L569.74 304.73L569.90 306.82L570.06 308.14L570.22 309.42L570.38 307.26L570.54 307.75L570.70 309.32L570.86 305.35L571.02 311.45L571.18 305.81L571.34 307.11L571.50 304.18L571.66 309.19L571.82 309.57L571.98 303.87L572.14 307.97L572.30 305.99L572.46 304.22L572.62 305.56L572.78 306.40L572.94 306.18L573.10 306.83L573.26 305.39L573.42 309.19L573.58 307.85L573.74 308.61L573.90 305.12L574.06 309.04L574.22 308.07L574.38 309.62L574.54 307.69L574.70 305.02L574.86 309.52L575.02 308.17L575.18 306.69L575.34 309.19L575.50 312.12L575.66 310.83L575.82 306.72L575.98 306.08L576.14 303.67L576.30 306.93L576.46 304.55L576.62 306.35L576.78 307.34L576.94 307.46L577.10 307.87L577.26 310.39L577.42 309.69L577.58 308.14L577.74 307.26L577.90 307.02L578.06 310.36L578.22 308.46L578.38 309.03L578.54 306.50L578.70 308.22L578.86 306.67L579.02 309.34L579.18 309.10L579.34 305.11L579.50 308.54L579.66 308.51L579.82 308.52L579.98 306.38L580.14 305.91L580.30 307.37L580.46 307.41L580.62 307.96L580.78 307.38L580.94 306.75L581.10 310.94L581.26 308.59L581.42 308.43L581.58 307.91L581.74 309.90L581.90 309.35L582.06 306.20L582.22 308.79L582.38 310.19L582.54 306.50L582.70 306.38L582.86 305.11L583.02 309.00L583.18 310.88L583.34 304.79L583.50 306.63L583.66 308.11L583.82 311.96L583.98 308.15L584.14 308.04L584.30 308.51L584.46 306.48L584.62 308.66L584.78 306.18L584.94 308.94L585.10 307.96L585.26 309.08L585.42 308.75L585.58 305.14L585.74 310.28L585.90 306.46L586.06 306.87L586.22 308.40L586.38 308.84L586.54 306.57L586.70 309.19L586.86 307.86L587.02 306.99L587.18 308.50L587.34 311.22L587.50 308.31L587.66 309.10L587.82 309.07L587.98 309.04L588.14 313.27L588.30 309.17L588.46 306.02L588.62 311.18L588.78 308.90L588.94 310.49L589.10 310.57L589.26 306.35L589.42 309.88L589.58 309.06L589.74 307.46L589.90 305.90L590.06 308.53L590.22 305.74L590.38 306.94L590.54 310.94L590.70 316.80L590.86 307.14L591.02 309.55L591.18 305.01L591.34 308.63L591.50 311.90L591.66 305.22L591.82 308.44L591.98 308.75L592.14 306.65L592.30 307.46L592.46 307.96L592.62 303.29L592.78 302.78L592.94 308.93L593.10 311.85L593.26 309.29L593.42 303.27L593.58 311.67L593.74 306.79L593.90 305.50L594.06 306.90L594.22 303.97L594.38 303.91L594.54 307.02L594.70 305.16L594.86 306.91L595.02 304.94L595.18 305.66L595.34 310.44L595.50 307.31L595.66 306.88L595.82 307.32L595.98 306.46L596.14 306.23L596.30 307.90L596.46 305.75L596.62 314.05L596.78 309.74L596.94 310.38L597.10 308.43L597.26 311.54L597.42 306.69L597.58 308.82L597.74 311.93L597.90 310.92L598.06 305.05L598.22 305.95L598.38 307.35L598.54 309.18L598.70 309.19L598.86 304.09L599.02 306.20L599.18 305.60L599.34 309.11L599.50 306.90L599.66 311.12L599.82 315.70L599.98 304.78L600.14 309.55L600.30 304.58L600.46 302.89L600.62 308.22L600.78 307.12L600.94 309.52L601.10 310.05L601.26 303.91L601.42 308.70L601.58 307.30L601.74 310.46L601.90 305.74L602.06 306.62L602.22 306.14L602.38 310.02L602.54 310.13L602.70 307.39L602.86 309.04L603.02 309.18L603.18 307.96L603.34 302.46L603.50 305.52L603.66 303.57L603.82 308.73L603.98 308.24L604.14 307.53L604.30 303.02L604.46 306.91L604.62 310.33L604.78 310.40L604.94 309.44L605.10 310.69L605.26 309.19L605.42 310.91L605.58 307.48L605.74 306.55L605.90 310.52L606.06 306.84L606.22 303.16L606.38 306.72L606.54 306.22L606.70 309.13L606.86 305.15L607.02 305.84L607.18 303.98L607.34 306.89L607.50 310.60L607.66 308.29L607.82 305.72L607.98 306.92L608.14 308.22L608.30 303.64L608.46 307.09L608.62 306.88L608.78 309.43L608.94 311.55L609.10 303.90L609.26 305.67L609.42 305.52L609.58 307.99L609.74 311.20L609.90 305.87L610.06 305.65L610.22 306.67L610.38 309.16L610.54 305.09L610.70 310.45L610.86 313.09L611.02 306.43L611.18 310.84L611.34 305.61L611.50 306.18L611.66 308.75L611.82 307.33L611.98 305.49L612.14 305.90L612.30 308.67L612.46 309.41L612.62 304.94L612.78 307.62L612.94 303.20L613.10 308.17L613.26 303.88L613.42 305.58L613.58 308.74L613.74 307.50L613.90 311.44L614.06 305.64L614.22 312.38L614.38 304.62L614.54 307.89L614.70 310.02L614.86 314.09L615.02 305.20L615.18 308.82L615.34 308.64L615.50 309.13L615.66 306.73L615.82 307.64L615.98 304.44L616.14 309.01L616.30 300.99L616.46 311.00L616.62 308.79L616.78 308.61L616.94 308.78L617.10 309.04L617.26 310.98L617.42 308.64L617.58 308.29L617.74 312.46L617.90 307.92L618.06 308.91L618.22 305.28L618.38 306.83L618.54 308.33L618.70 311.44L618.86 306.32L619.02 305.60L619.18 305.77L619.34 304.58L619.50 308.49L619.66 309.02L619.82 306.03L619.98 309.32L620.14 305.26L620.30 309.66L620.46 305.12L620.62 311.13L620.78 310.98L620.94 306.88L621.10 309.59L621.26 304.71L621.42 307.05L621.58 309.27L621.74 307.02L621.90 310.86L622.06 307.45L622.22 309.87L622.38 309.21L622.54 308.30L622.70 307.08L622.86 305.62L623.02 305.30L623.18 303.71L623.34 302.35L623.50 302.48L623.66 301.81L623.82 306.57L623.98 310.83L624.14 310.98L624.30 290.80L624.46 308.90L624.62 305.96L624.78 309.56L624.94 305.76L625.10 306.37L625.26 311.92L625.42 301.61L625.58 313.14L625.74 308.41L625.90 304.43L626.06 308.73L626.22 306.59L626.38 307.24L626.54 308.61L626.70 309.18L626.86 302.52L627.02 304.92L627.18 308.24L627.34 304.11L627.50 309.61L627.66 305.21L627.82 310.11L627.98 307.05L628.14 313.02L628.30 315.32L628.46 319.00L628.62 306.93L628.78 304.74L628.94 307.28L629.10 307.23L629.26 312.93L629.42 307.05L629.58 304.54L629.74 309.92L629.90 285.20L630.06 311.19L630.22 307.38L630.38 309.15L630.54 302.25L630.70 304.58L630.86 306.35L631.02 305.57L631.18 308.12L631.34 310.93L631.50 308.43L631.66 308.90L631.82 309.54L631.98 306.83L632.14 308.27L632.30 309.80L632.46 304.05L632.62 308.11L632.78 306.06L632.94 309.86L633.10 302.29L633.26 309.23L633.42 299.00L633.58 309.32L633.74 306.37L633.90 310.66L634.06 308.80L634.22 309.42L634.38 307.00L634.54 305.78L634.70 302.68L634.86 310.28L635.02 303.87L635.18 303.76L635.34 310.88L635.50 308.48L635.66 308.66L635.82 306.73L635.98 307.28L636.14 314.68L636.30 301.45L636.46 304.41L636.62 310.28L636.78 306.98L636.94 307.14L637.10 306.42L637.26 306.98L637.42 313.50L637.58 308.13L637.74 308.73L637.90 305.45L638.06 311.37L638.22 305.97L638.38 313.18L638.54 306.68L638.70 304.14L638.86 313.58L639.02 308.25L639.18 309.93L639.34 309.97L639.50 306.03L639.66 308.29L639.82 303.54L639.98 307.77L640.14 306.51L640.30 306.36L640.46 307.58L640.62 309.70L640.78 307.98L640.94 305.61L641.10 318.00L641.26 312.21L641.42 308.12L641.58 305.54L641.74 303.02L641.90 310.28L642.06 307.25L642.22 307.19L642.38 307.97L642.54 309.49L642.70 309.98L642.86 311.25L643.02 304.38L643.18 308.37L643.34 303.99L643.50 313.29L643.66 306.60L643.82 306.05L643.98 315.61L644.14 312.90L644.30 304.46L644.46 309.86L644.62 309.39L644.78 309.00L644.94 307.38L645.10 304.82L645.26 307.71L645.42 309.15L645.58 312.32L645.74 310.11L645.90 307.89L646.06 304.76L646.22 300.54L646.38 305.24L646.54 301.99L646.70 310.36L646.86 307.11L647.02 305.01L647.18 312.64L647.34 306.17L647.50 306.75L647.66 309.45L647.82 309.38L647.98 311.02L648.14 306.36L648.30 303.60L648.46 306.00L648.62 307.28L648.78 305.81L648.94 304.71L649.10 304.55L649.26 308.55L649.42 308.27L649.58 305.69L649.74 305.41L649.90 308.10L650.06 311.25L650.22 309.78L650.38 313.32L650.54 242.40L650.70 307.27L650.86 310.25L651.02 324.30L651.18 304.44L651.34 302.61L651.50 310.88L651.66 290.00L651.82 308.64L651.98 305.32L652.14 304.66L652.30 308.43L652.46 316.48L652.62 306.51L652.78 303.84L652.94 306.14L653.10 305.32L653.26 309.46L653.42 303.24L653.58 304.06L653.74 302.21L653.90 311.14L654.06 306.44L654.22 312.30L654.38 307.08L654.54 308.15L654.70 306.02L654.86 314.72L655.02 309.49L655.18 303.63L655.34 305.76L655.50 306.10L655.66 310.95L655.82 322.50L655.98 305.20L656.14 308.47L656.30 304.69L656.46 305.34L656.62 306.91L656.78 310.01L656.94 302.39L657.10 307.06L657.26 302.69L657.42 309.14L657.58 306.43L657.74 308.18L657.90 305.50L658.06 305.06L658.22 310.51L658.38 306.50L658.54 305.67L658.70 306.47L658.86 309.39L659.02 305.55L659.18 310.36L659.34 307.54L659.50 307.60L659.66 309.57L659.82 308.87L659.98 305.80L660.14 308.23L660.30 308.28L660.46 311.44L660.62 310.99L660.78 313.21L660.94 308.57L661.10 307.35L661.26 306.12L661.42 316.16L661.58 305.12L661.74 309.53L661.90 304.82L662.06 308.85L662.22 311.34L662.38 302.60L662.54 317.91L662.70 308.57L662.86 313.12L663.02 306.61L663.18 311.37L663.34 308.79L663.50 308.29L663.66 305.91L663.82 317.80L663.98 303.18L664.14 305.97L664.30 310.79L664.46 306.48L664.62 307.30L664.78 307.54L664.94 308.61L665.10 312.79L665.26 301.81L665.42 307.60L665.58 300.49L665.74 308.65L665.90 309.95L666.06 306.31L666.22 301.95L666.38 305.80L666.54 309.46L666.70 306.02L666.86 298.95L667.02 319.00L667.18 305.32L667.34 306.28L667.50 306.77L667.66 304.41L667.82 305.51L667.98 306.57L668.14 308.83L668.30 304.24L668.46 299.00L668.62 315.26L668.78 304.45L668.94 304.14L669.10 313.56L669.26 317.04L669.42 309.75L669.58 309.06L669.74 308.59L669.90 309.47L670.06 305.49L670.22 311.50L670.38 311.58L670.54 312.53L670.70 306.54L670.86 311.86L671.02 306.45L671.18 310.37L671.34 306.54L671.50 303.79L671.66 310.80L671.82 306.78L671.98 308.24L672.14 312.23L672.30 306.35L672.46 314.41L672.62 314.34L672.78 310.69L672.94 310.52L673.10 304.59L673.26 305.77L673.42 309.89L673.58 309.01L673.74 307.31L673.90 306.67L674.06 308.56L674.22 304.63L674.38 308.27L674.54 304.86L674.70 306.61L674.86 313.07L675.02 313.42L675.18 303.59L675.34 309.66L675.50 313.60L675.66 304.07L675.82 312.12L675.98 303.20L676.14 308.67L676.30 306.15L676.46 308.96L676.62 315.02L676.78 315.32L676.94 314.04L677.10 300.16L677.26 307.40L677.42 314.39L677.58 303.52L677.74 310.84L677.90 320.57L678.06 303.02L678.22 304.51L678.38 309.15L678.54 303.42L678.70 306.66L678.86 309.32L679.02 311.78L679.18 306.34L679.34 307.35L679.50 308.20L679.66 311.48L679.82 313.79L679.98 303.83L680.14 316.25L680.30 303.02L680.46 309.01L680.62 306.17L680.78 316.63L680.94 303.67L681.10 306.24L681.26 307.49L681.42 305.51L681.58 305.63L681.74 310.31L681.90 302.08L682.06 317.83L682.22 309.42L682.38 314.14L682.54 305.13L682.70 308.87L682.86 313.93L683.02 311.89L683.18 307.11L683.34 293.40L683.50 302.99L683.66 306.09" fill="none" stroke="#231f20" stroke-width="1.25" stroke-linejoin="round" clip-path="url(#clip2)"/>
<path d="M69.6 237.75V377.00H684.0" fill="none" stroke="#231f20" stroke-width="1.3"/>
<line x1="69.6" x2="74.19999999999999" y1="238.30" y2="238.30" stroke="#231f20" stroke-width="1.2"/>
<text x="52.3" y="243.50" text-anchor="end" class="t">0.10</text>
<line x1="69.6" x2="74.19999999999999" y1="273.00" y2="273.00" stroke="#231f20" stroke-width="1.2"/>
<text x="52.3" y="278.20" text-anchor="end" class="t">0.05</text>
<line x1="69.6" x2="74.19999999999999" y1="307.60" y2="307.60" stroke="#231f20" stroke-width="1.2"/>
<text x="52.3" y="312.80" text-anchor="end" class="t">0.00</text>
<line x1="69.6" x2="74.19999999999999" y1="342.30" y2="342.30" stroke="#231f20" stroke-width="1.2"/>
<text x="52.3" y="347.50" text-anchor="end" class="t">-0.05</text>
<line x1="69.6" x2="74.19999999999999" y1="377.00" y2="377.00" stroke="#231f20" stroke-width="1.2"/>
<text x="52.3" y="382.20" text-anchor="end" class="t">-0.10</text>
<text x="69.80" y="401.20" text-anchor="middle" class="t">2006</text>
<line x1="110.63" x2="110.63" y1="377.00" y2="372.60" stroke="#231f20" stroke-width="1.3"/>
<text x="110.73" y="401.20" text-anchor="middle" class="t">2007</text>
<line x1="151.56" x2="151.56" y1="377.00" y2="372.60" stroke="#231f20" stroke-width="1.3"/>
<text x="151.66" y="401.20" text-anchor="middle" class="t">2008</text>
<line x1="192.49" x2="192.49" y1="377.00" y2="372.60" stroke="#231f20" stroke-width="1.3"/>
<text x="192.59" y="401.20" text-anchor="middle" class="t">2009</text>
<line x1="233.42" x2="233.42" y1="377.00" y2="372.60" stroke="#231f20" stroke-width="1.3"/>
<text x="233.52" y="401.20" text-anchor="middle" class="t">2010</text>
<line x1="274.35" x2="274.35" y1="377.00" y2="372.60" stroke="#231f20" stroke-width="1.3"/>
<text x="274.45" y="401.20" text-anchor="middle" class="t">2011</text>
<line x1="315.28" x2="315.28" y1="377.00" y2="372.60" stroke="#231f20" stroke-width="1.3"/>
<text x="315.38" y="401.20" text-anchor="middle" class="t">2012</text>
<line x1="356.21" x2="356.21" y1="377.00" y2="372.60" stroke="#231f20" stroke-width="1.3"/>
<text x="356.31" y="401.20" text-anchor="middle" class="t">2013</text>
<line x1="397.14" x2="397.14" y1="377.00" y2="372.60" stroke="#231f20" stroke-width="1.3"/>
<text x="397.24" y="401.20" text-anchor="middle" class="t">2014</text>
<line x1="438.07" x2="438.07" y1="377.00" y2="372.60" stroke="#231f20" stroke-width="1.3"/>
<text x="438.17" y="401.20" text-anchor="middle" class="t">2015</text>
<line x1="479.00" x2="479.00" y1="377.00" y2="372.60" stroke="#231f20" stroke-width="1.3"/>
<text x="479.10" y="401.20" text-anchor="middle" class="t">2016</text>
<line x1="519.93" x2="519.93" y1="377.00" y2="372.60" stroke="#231f20" stroke-width="1.3"/>
<text x="520.03" y="401.20" text-anchor="middle" class="t">2017</text>
<line x1="560.86" x2="560.86" y1="377.00" y2="372.60" stroke="#231f20" stroke-width="1.3"/>
<text x="560.96" y="401.20" text-anchor="middle" class="t">2018</text>
<line x1="601.79" x2="601.79" y1="377.00" y2="372.60" stroke="#231f20" stroke-width="1.3"/>
<text x="601.89" y="401.20" text-anchor="middle" class="t">2019</text>
<line x1="642.72" x2="642.72" y1="377.00" y2="372.60" stroke="#231f20" stroke-width="1.3"/>
<text x="642.82" y="401.20" text-anchor="middle" class="t">2020</text>
<text transform="translate(11.1 308.2) rotate(-90)" text-anchor="middle" class="y">1m EU-LIBOR (%)</text>
<line x1="180.5" x2="226.3" y1="428.8" y2="428.8" stroke="#231f20" stroke-width="1.5"/>
<text x="231.0" y="433.80" class="l">EU</text>
<line x1="270.25" x2="313.6" y1="428.8" y2="428.8" stroke="#231f20" stroke-width="1.85" stroke-linecap="round" stroke-dasharray="0.01 3.52"/>
<text x="320.2" y="433.80" class="l">EU(μ-3σ)</text>
<line x1="394.75" x2="438.0" y1="428.8" y2="428.8" stroke="#231f20" stroke-width="1.85" stroke-linecap="round" stroke-dasharray="0.01 3.52"/>
<text x="444.5" y="433.80" class="l">EU(μ+3σ)</text>
</g>
<g id="panel3">
<clipPath id="clip3"><rect x="69.6" y="471.10" width="615.40" height="139.60"/></clipPath>
<rect x="69.6" y="471.70" width="614.40" height="138.40" fill="url(#hatch)"/>
<line x1="69.6" x2="684.0" y1="471.70" y2="471.70" stroke="#e3e5e7" stroke-width="1.1"/>
<line x1="69.6" x2="684.0" y1="517.80" y2="517.80" stroke="#e3e5e7" stroke-width="1.1"/>
<line x1="69.6" x2="684.0" y1="563.90" y2="563.90" stroke="#e3e5e7" stroke-width="1.1"/>
<line x1="69.6" x2="684.0" y1="610.10" y2="610.10" stroke="#e3e5e7" stroke-width="1.1"/>
<line x1="69.95" x2="682.80" y1="501.20" y2="501.20" stroke="#231f20" stroke-width="1.75" stroke-linecap="round" stroke-dasharray="0.01 3.57"/>
<line x1="69.95" x2="682.80" y1="581.00" y2="581.00" stroke="#231f20" stroke-width="1.75" stroke-linecap="round" stroke-dasharray="0.01 3.57"/>
<path d="M69.90 543.12L70.00 545.89L70.10 558.89L70.20 557.33L70.30 533.39L70.40 554.04L70.50 549.13L70.60 549.78L70.70 546.80L70.80 541.87L70.90 547.87L71.00 556.58L71.10 543.28L71.20 529.23L71.30 542.00L71.40 554.57L71.50 509.64L71.60 549.33L71.70 538.02L71.80 545.54L71.90 531.94L72.00 536.28L72.10 574.80L72.20 526.39L72.30 533.61L72.40 555.33L72.50 551.48L72.60 553.57L72.70 526.45L72.80 537.68L72.90 537.95L73.00 528.68L73.10 523.33L73.20 539.84L73.30 536.99L73.40 543.37L73.50 543.24L73.60 542.14L73.70 545.29L73.80 535.16L73.90 528.48L74.00 556.62L74.10 534.15L74.20 546.22L74.30 544.64L74.40 560.21L74.50 569.15L74.60 542.71L74.70 548.16L74.80 548.15L74.90 543.80L75.00 555.11L75.10 537.02L75.20 524.81L75.30 528.46L75.40 536.94L75.50 541.65L75.60 541.12L75.70 544.06L75.80 545.21L75.90 547.67L76.00 550.22L76.10 509.30L76.20 532.51L76.30 534.49L76.40 538.11L76.50 550.36L76.60 541.15L76.70 555.00L76.80 543.55L76.90 554.97L77.00 548.19L77.10 543.21L77.20 533.03L77.30 545.41L77.40 553.50L77.50 568.96L77.60 544.45L77.70 531.40L77.80 540.30L77.90 544.72L78.00 542.45L78.10 540.51L78.20 553.72L78.30 544.20L78.40 533.80L78.50 537.29L78.60 541.62L78.70 532.93L78.80 558.75L78.90 526.37L79.00 552.71L79.10 549.94L79.20 529.14L79.30 537.98L79.40 542.48L79.50 531.37L79.60 555.40L79.70 531.92L79.80 515.64L79.90 541.14L80.00 539.90L80.10 542.33L80.20 529.02L80.30 527.82L80.40 538.51L80.50 550.59L80.60 537.78L80.70 540.31L80.80 556.85L80.90 521.43L81.00 545.84L81.10 526.23L81.20 561.49L81.30 534.14L81.40 551.59L81.50 531.10L81.60 536.35L81.70 563.06L81.80 561.59L81.90 549.35L82.00 553.20L82.10 528.65L82.20 533.49L82.30 535.51L82.40 539.55L82.50 525.52L82.60 536.55L82.70 528.58L82.80 546.36L82.90 527.17L83.00 532.46L83.10 533.80L83.20 527.19L83.30 553.12L83.40 565.50L83.50 537.21L83.60 534.69L83.70 542.73L83.80 537.28L83.90 528.04L84.00 546.17L84.10 532.11L84.20 533.95L84.30 520.50L84.40 526.30L84.50 541.32L84.60 540.27L84.70 541.43L84.80 551.01L84.90 552.56L85.00 556.88L85.10 529.97L85.20 535.30L85.30 534.20L85.40 543.32L85.50 540.74L85.60 526.36L85.70 524.12L85.80 534.46L85.90 533.31L86.00 566.85L86.10 534.46L86.20 553.77L86.30 554.43L86.40 537.85L86.50 561.23L86.60 564.26L86.70 534.34L86.80 531.63L86.90 548.89L87.00 538.57L87.10 532.16L87.20 526.43L87.30 512.90L87.40 549.60L87.50 541.39L87.60 529.88L87.70 537.83L87.80 536.18L87.90 531.65L88.00 530.45L88.10 533.65L88.20 552.81L88.30 540.07L88.40 545.28L88.50 546.94L88.60 541.51L88.70 549.22L88.80 542.12L88.90 541.40L89.00 519.50L89.10 548.81L89.20 543.32L89.30 549.98L89.40 540.32L89.50 538.14L89.60 586.50L89.70 533.82L89.80 553.41L89.90 549.71L90.00 553.30L90.10 544.25L90.20 542.88L90.30 537.52L90.40 555.76L90.50 539.00L90.60 529.87L90.70 527.69L90.80 545.72L90.90 553.81L91.00 545.23L91.10 530.79L91.20 536.14L91.30 555.41L91.40 535.27L91.50 544.83L91.60 536.80L91.70 536.65L91.80 547.64L91.90 539.26L92.00 530.87L92.10 527.13L92.20 546.76L92.30 538.15L92.40 537.54L92.50 544.77L92.60 540.81L92.70 540.15L92.80 536.25L92.90 527.99L93.00 558.21L93.10 531.54L93.20 552.65L93.30 533.54L93.40 538.95L93.50 539.53L93.60 543.62L93.70 560.55L93.80 540.63L93.90 541.22L94.00 532.21L94.10 551.42L94.20 552.94L94.30 531.40L94.40 527.31L94.50 536.03L94.60 538.06L94.70 543.73L94.80 535.09L94.90 550.67L95.00 538.43L95.10 543.78L95.20 560.02L95.30 538.44L95.40 560.56L95.50 541.04L95.60 528.75L95.70 537.11L95.80 557.76L95.90 557.51L96.00 533.15L96.10 552.37L96.20 528.55L96.30 542.31L96.40 543.60L96.50 529.54L96.60 548.28L96.70 561.79L96.80 546.96L96.90 530.59L97.00 551.10L97.10 539.76L97.20 554.59L97.30 533.34L97.40 534.11L97.50 531.85L97.60 540.44L97.70 535.34L97.80 530.40L97.90 536.41L98.00 543.80L98.10 547.43L98.20 543.48L98.30 532.08L98.40 542.30L98.50 535.80L98.60 531.23L98.70 551.07L98.80 538.89L98.90 545.64L99.00 539.42L99.10 533.30L99.20 533.85L99.30 535.65L99.40 535.39L99.50 554.91L99.60 546.89L99.70 536.71L99.80 534.68L99.90 536.59L100.00 537.16L100.10 528.83L100.20 543.68L100.30 521.31L100.40 531.88L100.50 546.60L100.60 532.40L100.70 539.47L100.80 546.77L100.90 542.55L101.00 534.40L101.10 559.57L101.20 554.29L101.30 529.71L101.40 524.17L101.50 549.53L101.60 545.21L101.70 530.07L101.80 535.57L101.90 527.96L102.00 534.02L102.10 542.91L102.20 527.00L102.30 540.67L102.40 549.15L102.50 543.51L102.60 531.32L102.70 549.49L102.80 539.09L102.90 533.92L103.00 541.15L103.10 549.24L103.20 530.74L103.30 547.14L103.40 538.85L103.50 544.57L103.60 538.96L103.70 533.78L103.80 528.81L103.90 550.14L104.00 539.11L104.10 546.09L104.20 539.42L104.30 539.96L104.40 540.00L104.50 547.03L104.60 544.89L104.70 544.39L104.80 547.54L104.90 537.54L105.00 560.45L105.10 549.21L105.20 533.24L105.30 535.72L105.40 531.97L105.50 542.78L105.60 532.76L105.70 533.98L105.80 556.54L105.90 552.13L106.00 567.70L106.10 548.92L106.20 543.54L106.30 538.69L106.40 539.56L106.50 536.01L106.60 534.56L106.70 542.26L106.80 536.10L106.90 543.00L107.00 534.18L107.10 539.88L107.20 556.50L107.30 538.12L107.40 551.59L107.50 527.19L107.60 537.02L107.70 539.97L107.80 544.97L107.90 540.33L108.00 532.52L108.10 534.96L108.20 520.65L108.30 548.56L108.40 549.04L108.50 540.69L108.60 533.23L108.70 555.13L108.80 545.23L108.90 545.67L109.00 534.12L109.10 545.86L109.20 533.27L109.30 543.58L109.40 535.70L109.50 558.26L109.60 547.86L109.70 523.43L109.80 546.97L109.90 553.83L110.00 525.95L110.10 536.82L110.20 536.46L110.30 538.27L110.40 530.57L110.50 541.06L110.60 519.80L110.70 532.33L110.80 532.84L110.90 547.36L111.00 547.89L111.10 553.69L111.20 552.80L111.30 535.69L111.40 542.42L111.50 534.45L111.60 550.43L111.70 541.91L111.80 545.56L111.90 533.69L112.00 542.56L112.10 533.30L112.20 535.65L112.30 547.26L112.40 530.03L112.50 551.60L112.60 552.78L112.70 531.63L112.80 551.83L112.90 547.86L113.00 534.18L113.10 554.39L113.20 540.67L113.30 549.70L113.40 548.22L113.50 545.97L113.60 533.28L113.70 552.42L113.80 532.09L113.90 529.87L114.00 544.35L114.10 544.99L114.20 536.17L114.30 522.62L114.40 543.95L114.50 532.57L114.60 556.25L114.70 554.49L114.80 544.99L114.90 543.27L115.00 540.81L115.10 564.05L115.20 546.82L115.30 550.13L115.40 532.91L115.50 533.11L115.60 532.77L115.70 557.45L115.80 526.56L115.90 553.97L116.00 542.79L116.10 544.54L116.20 534.76L116.30 538.67L116.40 550.83L116.50 553.55L116.60 553.50L116.70 535.27L116.80 536.39L116.90 532.24L117.00 548.83L117.10 537.37L117.20 552.34L117.30 541.25L117.40 544.24L117.50 530.73L117.60 532.85L117.70 541.76L117.80 548.24L117.90 557.66L118.00 536.16L118.10 536.26L118.20 544.69L118.30 520.65L118.40 542.87L118.50 547.20L118.60 533.56L118.70 536.92L118.80 533.83L118.90 538.93L119.00 535.00L119.10 551.08L119.20 553.54L119.30 561.97L119.40 530.57L119.50 531.37L119.60 534.45L119.70 537.02L119.80 540.87L119.90 539.21L120.00 532.68L120.10 540.13L120.20 525.73L120.30 541.56L120.40 540.90L120.50 544.91L120.60 533.90L120.70 544.97L120.80 545.02L120.90 539.45L121.00 549.71L121.10 548.83L121.20 545.73L121.30 538.13L121.40 542.30L121.50 541.86L121.60 557.26L121.70 538.97L121.80 541.33L121.90 538.87L122.00 534.03L122.10 533.21L122.20 550.62L122.30 553.24L122.40 539.30L122.50 558.65L122.60 542.36L122.70 549.65L122.80 539.45L122.90 535.46L123.00 530.23L123.10 534.27L123.20 535.67L123.30 534.00L123.40 535.89L123.50 549.97L123.60 553.35L123.70 551.23L123.80 547.21L123.90 537.17L124.00 535.66L124.10 533.00L124.20 539.38L124.30 546.87L124.40 535.00L124.50 524.85L124.60 536.39L124.70 538.52L124.80 544.85L124.90 535.99L125.00 548.91L125.10 543.80L125.20 549.91L125.30 537.69L125.40 541.99L125.50 534.10L125.60 550.45L125.70 548.03L125.80 560.95L125.90 540.23L126.00 541.01L126.10 540.49L126.20 531.07L126.30 549.10L126.40 546.01L126.50 552.51L126.60 543.79L126.70 537.57L126.80 538.04L126.90 542.32L127.00 533.47L127.10 548.41L127.20 543.22L127.30 546.67L127.40 533.37L127.50 537.50L127.60 537.89L127.70 530.93L127.80 542.16L127.90 538.29L128.00 534.79L128.10 543.37L128.20 533.90L128.30 533.90L128.40 551.34L128.50 531.63L128.60 539.56L128.70 534.51L128.80 543.07L128.90 542.96L129.00 537.29L129.10 546.84L129.20 527.28L129.30 543.55L129.40 536.60L129.50 553.85L129.60 532.72L129.70 540.67L129.80 540.79L129.90 541.53L130.00 542.71L130.10 541.26L130.20 534.20L130.30 546.97L130.40 538.98L130.50 544.09L130.60 546.12L130.70 554.28L130.80 548.45L130.90 540.23L131.00 556.36L131.10 536.24L131.20 536.19L131.30 545.58L131.40 545.65L131.50 542.18L131.60 538.11L131.70 552.50L131.80 528.71L131.90 543.04L132.00 539.49L132.10 541.52L132.20 539.90L132.30 540.42L132.40 545.77L132.50 555.93L132.60 550.25L132.70 557.95L132.80 539.69L132.90 545.35L133.00 541.30L133.10 543.22L133.20 539.93L133.30 546.87L133.40 545.26L133.50 545.05L133.60 542.71L133.70 546.19L133.80 529.09L133.90 547.73L134.00 521.00L134.10 542.60L134.20 535.80L134.30 544.08L134.40 539.67L134.50 539.14L134.60 545.81L134.70 538.18L134.80 538.39L134.90 543.99L135.00 536.54L135.10 536.50L135.20 549.83L135.30 555.17L135.40 547.12L135.50 543.36L135.60 536.20L135.70 542.83L135.80 550.05L135.90 543.82L136.00 540.10L136.10 537.08L136.20 551.16L136.30 544.26L136.40 528.53L136.50 542.80L136.60 536.79L136.70 540.30L136.80 544.09L136.90 537.06L137.00 538.54L137.10 549.42L137.20 540.81L137.30 533.79L137.40 553.89L137.50 535.88L137.60 544.64L137.70 545.22L137.80 539.76L137.90 537.34L138.00 535.13L138.10 542.46L138.20 538.17L138.30 550.87L138.40 540.29L138.50 537.17L138.60 544.13L138.70 537.52L138.80 543.00L138.90 545.33L139.00 539.86L139.10 537.99L139.20 544.58L139.30 542.61L139.40 538.59L139.50 531.50L139.60 551.53L139.70 537.49L139.80 531.78L139.90 531.93L140.00 528.86L140.10 543.78L140.20 543.10L140.30 537.01L140.40 529.36L140.50 549.29L140.60 546.79L140.70 535.67L140.80 527.03L140.90 529.32L141.00 544.63L141.10 537.27L141.20 542.21L141.30 550.56L141.40 533.55L141.50 534.44L141.60 549.13L141.70 537.10L141.80 540.96L141.90 549.64L142.00 535.14L142.10 536.47L142.20 555.12L142.30 535.58L142.40 545.71L142.50 528.73L142.60 548.38L142.70 531.29L142.80 547.34L142.90 526.71L143.00 529.22L143.10 530.70L143.20 535.25L143.30 558.58L143.40 541.79L143.50 542.17L143.60 562.47L143.70 517.23L143.80 538.04L143.90 532.70L144.00 546.98L144.10 535.34L144.20 529.06L144.30 552.73L144.40 541.15L144.50 523.90L144.60 543.90L144.70 545.53L144.80 540.55L144.90 542.13L145.00 555.25L145.10 525.84L145.20 540.97L145.30 554.77L145.40 533.04L145.50 521.93L145.60 546.83L145.70 547.19L145.80 542.35L145.90 539.51L146.00 535.19L146.10 547.11L146.20 519.08L146.30 544.11L146.40 542.89L146.50 534.10L146.60 529.97L146.70 521.51L146.80 547.91L146.90 535.16L147.00 552.51L147.10 538.34L147.20 530.18L147.30 537.83L147.40 547.96L147.50 531.90L147.60 531.68L147.70 538.85L147.80 532.94L147.90 537.33L148.00 535.08L148.10 553.41L148.20 552.10L148.30 539.06L148.40 542.50L148.50 532.90L148.60 544.19L148.70 534.59L148.80 537.95L148.90 554.04L149.00 538.76L149.10 537.86L149.20 534.12L149.30 560.11L149.40 541.02L149.50 539.68L149.60 542.95L149.70 534.52L149.80 547.16L149.90 535.61L150.00 548.81L150.10 533.40L150.20 523.22L150.30 559.56L150.40 533.16L150.50 554.10L150.60 537.57L150.70 547.21L150.80 548.57L150.90 545.97L151.00 524.80L151.10 546.73L151.20 546.71L151.30 534.24L151.40 536.23L151.50 532.84L151.60 532.13L151.70 546.06L151.80 547.48L151.90 531.66L152.00 525.45L152.10 548.80L152.20 552.82L152.30 542.44L152.40 542.35L152.50 543.24L152.60 521.46L152.70 544.67L152.80 537.54L152.90 541.18L153.00 529.52L153.10 547.14L153.20 552.11L153.30 541.05L153.40 509.40L153.50 530.01L153.60 529.41L153.70 557.54L153.80 532.30L153.90 530.12L154.00 559.08L154.10 544.53L154.20 549.43L154.30 556.15L154.40 536.81L154.50 542.77L154.60 529.92L154.70 549.11L154.80 538.22L154.90 551.08L155.00 546.42L155.10 522.30L155.20 544.61L155.30 535.60L155.40 521.96L155.50 538.26L155.60 535.40L155.70 539.79L155.80 526.07L155.90 532.68L156.00 547.98L156.10 536.15L156.20 568.51L156.30 563.53L156.40 549.79L156.50 555.42L156.60 546.91L156.70 534.70L156.80 538.61L156.90 545.57L157.00 513.11L157.10 550.56L157.20 554.38L157.30 550.44L157.40 556.61L157.50 548.66L157.60 543.02L157.70 535.23L157.80 537.28L157.90 568.69L158.00 556.33L158.10 542.36L158.20 545.58L158.30 533.69L158.40 552.64L158.50 578.30L158.60 522.63L158.70 555.58L158.80 532.33L158.90 535.64L159.00 528.70L159.10 521.70L159.20 561.36L159.30 542.77L159.40 572.26L159.50 518.06L159.60 558.86L159.70 539.22L159.80 539.71L159.90 549.93L160.00 535.31L160.10 561.02L160.20 542.44L160.30 534.32L160.40 518.88L160.50 541.31L160.60 541.91L160.70 546.89L160.80 554.50L160.90 507.00L161.00 564.75L161.10 546.92L161.20 550.32L161.30 545.81L161.40 539.69L161.50 523.13L161.60 541.51L161.70 531.48L161.80 546.27L161.90 545.30L162.00 530.86L162.10 538.25L162.20 552.43L162.30 541.44L162.40 549.29L162.50 510.94L162.60 550.38L162.70 562.24L162.80 529.50L162.90 547.61L163.00 537.53L163.10 548.61L163.20 554.78L163.30 560.67L163.40 536.50L163.50 550.43L163.60 553.21L163.70 543.00L163.80 515.45L163.90 511.39L164.00 533.79L164.10 555.33L164.20 522.44L164.30 535.39L164.40 547.35L164.50 535.54L164.60 538.09L164.70 555.73L164.80 541.63L164.90 523.36L165.00 543.49L165.10 540.76L165.20 566.80L165.30 516.14L165.40 518.36L165.50 514.33L165.60 545.61L165.70 556.99L165.80 551.96L165.90 543.97L166.00 555.34L166.10 554.08L166.20 564.49L166.30 519.60L166.40 538.21L166.50 542.03L166.60 533.43L166.70 525.24L166.80 542.41L166.90 538.39L167.00 521.24L167.10 560.43L167.20 548.82L167.30 529.35L167.40 534.00L167.50 529.66L167.60 543.11L167.70 558.36L167.80 565.66L167.90 544.95L168.00 531.41L168.10 576.50L168.20 530.99L168.30 559.43L168.40 534.84L168.50 548.83L168.60 541.88L168.70 550.66L168.80 535.57L168.90 519.96L169.00 557.87L169.10 504.70L169.20 537.67L169.30 522.41L169.40 522.97L169.50 552.68L169.60 559.63L169.70 554.05L169.80 545.38L169.90 537.63L170.00 535.11L170.10 547.28L170.20 552.42L170.30 544.88L170.40 545.83L170.50 560.43L170.60 548.30L170.70 547.02L170.80 522.09L170.90 544.10L171.00 526.96L171.10 579.85L171.20 564.56L171.30 554.26L171.40 528.42L171.50 568.43L171.60 541.82L171.70 535.98L171.80 525.74L171.90 547.04L172.00 533.93L172.10 535.14L172.20 565.72L172.30 547.02L172.40 560.52L172.50 562.08L172.60 533.81L172.70 540.96L172.80 552.59L172.90 532.08L173.00 574.84L173.10 543.73L173.20 527.60L173.30 549.45L173.40 532.55L173.50 561.36L173.60 572.84L173.70 563.99L173.80 502.33L173.90 523.44L174.00 536.88L174.10 537.75L174.20 550.38L174.30 526.34L174.40 537.79L174.50 528.48L174.60 518.09L174.70 546.38L174.80 521.99L174.90 531.77L175.00 545.13L175.10 538.11L175.20 547.74L175.30 513.35L175.40 563.87L175.50 525.40L175.60 524.01L175.70 554.43L175.80 544.88L175.90 549.76L176.00 517.57L176.10 548.90L176.20 532.09L176.30 569.09L176.40 553.79L176.50 563.08L176.60 531.41L176.70 534.66L176.80 496.50L176.90 547.56L177.00 535.14L177.10 511.68L177.20 558.93L177.30 514.80L177.40 537.97L177.50 534.60L177.60 538.64L177.70 537.70L177.80 536.05L177.90 530.22L178.00 542.29L178.10 544.86L178.20 520.56L178.30 537.25L178.40 539.93L178.50 544.43L178.60 524.97L178.70 525.51L178.80 547.80L178.90 522.79L179.00 532.60L179.10 554.32L179.20 551.26L179.30 534.59L179.40 564.50L179.50 526.52L179.60 578.87L179.70 523.99L179.80 503.96L179.90 547.69L180.00 564.83L180.10 546.43L180.20 548.29L180.30 538.09L180.40 529.11L180.50 517.40L180.60 540.76L180.70 532.97L180.80 536.15L180.90 553.42L181.00 574.66L181.10 527.37L181.20 555.20L181.30 520.62L181.40 590.00L181.50 525.68L181.60 532.39L181.70 544.48L181.80 545.44L181.90 488.40L182.00 540.58L182.10 539.73L182.20 536.53L182.30 544.84L182.40 519.83L182.50 522.14L182.60 543.01L182.70 513.71L182.80 547.21L182.90 571.35L183.00 527.15L183.10 484.32L183.20 524.30L183.30 543.47L183.40 584.98L183.50 555.51L183.60 538.76L183.70 546.78L183.80 545.67L183.90 599.83L184.00 504.85L184.10 538.67L184.20 535.85L184.30 557.67L184.40 571.85L184.50 514.05L184.60 492.35L184.70 529.57L184.80 543.97L184.90 548.25L185.00 556.37L185.10 541.26L185.20 559.48L185.30 561.39L185.40 622.00L185.50 521.80L185.60 578.57L185.70 554.54L185.80 537.81L185.90 554.41L186.00 547.11L186.10 559.24L186.20 544.14L186.30 529.11L186.40 536.05L186.50 515.66L186.60 490.70L186.70 523.27L186.80 536.15L186.90 531.88L187.00 530.05L187.10 475.04L187.20 524.66L187.30 530.29L187.40 527.61L187.50 533.85L187.60 553.04L187.70 622.00L187.80 542.95L187.90 514.78L188.00 510.84L188.10 581.44L188.20 526.87L188.30 535.03L188.40 549.35L188.50 562.01L188.60 548.47L188.70 564.32L188.80 551.10L188.90 536.00L189.00 516.47L189.10 530.01L189.20 541.95L189.30 544.39L189.40 573.69L189.50 541.89L189.60 537.24L189.70 508.81L189.80 528.94L189.90 556.75L190.00 559.36L190.10 622.00L190.20 563.73L190.30 534.61L190.40 555.21L190.50 507.35L190.60 541.36L190.70 537.54L190.80 533.02L190.90 556.95L191.00 547.40L191.10 536.50L191.20 462.00L191.30 509.90L191.40 523.93L191.50 519.88L191.60 526.77L191.70 568.25L191.80 560.23L191.90 544.43L192.00 561.30L192.10 604.74L192.20 537.25L192.30 529.43L192.40 622.00L192.50 554.39L192.60 582.48L192.70 551.02L192.80 505.96L192.90 525.38L193.00 508.21L193.10 588.23L193.20 540.02L193.30 553.70L193.40 592.36L193.50 472.60L193.60 479.00L193.70 548.42L193.80 540.45L193.90 512.60L194.00 538.80L194.10 585.57L194.20 533.07L194.30 525.74L194.40 512.27L194.50 536.15L194.60 552.61L194.70 595.80L194.80 529.86L194.90 502.35L195.00 516.87L195.10 548.86L195.20 538.66L195.30 544.45L195.40 528.43L195.50 508.94L195.60 532.22L195.70 553.26L195.80 564.34L195.90 551.59L196.00 530.14L196.10 577.02L196.20 499.72L196.30 559.44L196.40 547.95L196.50 562.16L196.60 523.56L196.70 546.63L196.80 572.73L196.90 510.63L197.00 576.90L197.10 533.97L197.20 567.66L197.30 545.47L197.40 554.56L197.50 538.16L197.60 553.72L197.70 550.98L197.80 482.50L197.90 549.71L198.00 556.04L198.10 540.35L198.20 508.12L198.30 508.25L198.40 553.06L198.50 521.38L198.60 530.46L198.70 533.48L198.80 576.73L198.90 559.86L199.00 528.41L199.10 561.52L199.20 512.66L199.30 560.28L199.40 547.05L199.50 517.14L199.60 556.79L199.70 546.93L199.80 549.49L199.90 540.36L200.00 535.04L200.10 546.24L200.20 520.50L200.30 567.82L200.40 548.42L200.50 556.86L200.60 622.00L200.70 567.55L200.80 538.16L200.90 545.83L201.00 526.22L201.10 550.09L201.20 508.21L201.30 552.45L201.40 551.52L201.50 538.93L201.60 523.27L201.70 497.70L201.80 559.30L201.90 515.14L202.00 512.05L202.10 550.07L202.20 571.74L202.30 548.56L202.40 535.99L202.50 555.27L202.60 560.92L202.70 532.13L202.80 542.42L202.90 511.40L203.00 552.42L203.10 554.39L203.20 569.11L203.30 521.33L203.40 554.12L203.50 543.50L203.60 552.61L203.70 555.32L203.80 541.82L203.90 535.17L204.00 563.54L204.10 522.93L204.20 515.76L204.30 523.37L204.40 580.75L204.50 543.08L204.60 540.59L204.70 526.96L204.80 521.08L204.90 546.58L205.00 567.97L205.10 525.50L205.20 527.56L205.30 586.50L205.40 541.78L205.50 533.81L205.60 542.22L205.70 564.40L205.80 544.22L205.90 559.20L206.00 544.35L206.10 532.93L206.20 561.18L206.30 550.90L206.40 520.54L206.50 529.76L206.60 531.44L206.70 541.76L206.80 544.50L206.90 527.66L207.00 551.37L207.10 519.30L207.20 538.81L207.30 559.22L207.40 531.80L207.50 520.95L207.60 532.22L207.70 536.35L207.80 551.41L207.90 540.62L208.00 510.94L208.10 518.68L208.20 555.13L208.30 525.74L208.40 549.53L208.50 553.07L208.60 536.97L208.70 543.97L208.80 537.63L208.90 538.21L209.00 524.43L209.10 554.92L209.20 513.39L209.30 539.72L209.40 532.81L209.50 570.75L209.60 530.09L209.70 543.99L209.80 565.56L209.90 545.80L210.00 517.45L210.10 542.69L210.20 573.19L210.30 535.25L210.40 556.21L210.50 530.80L210.60 520.49L210.70 540.92L210.80 528.98L210.90 533.18L211.00 528.90L211.10 498.90L211.20 547.89L211.30 542.64L211.40 533.31L211.50 524.49L211.60 536.25L211.70 537.63L211.80 518.51L211.90 548.20L212.00 527.72L212.10 523.99L212.20 533.35L212.30 515.25L212.40 521.68L212.50 539.98L212.60 559.64L212.70 551.88L212.80 576.67L212.90 532.33L213.00 529.36L213.10 559.83L213.20 513.78L213.30 525.69L213.40 552.27L213.50 576.44L213.60 529.88L213.70 541.47L213.80 537.12L213.90 517.63L214.00 542.54L214.10 538.57L214.20 530.12L214.30 554.94L214.40 543.11L214.50 551.93L214.60 522.65L214.70 545.72L214.80 534.30L214.90 560.27L215.00 524.01L215.10 541.21L215.20 529.41L215.30 551.46L215.40 523.02L215.50 543.44L215.60 535.52L215.70 553.18L215.80 542.86L215.90 562.00L216.00 530.62L216.10 539.87L216.20 536.49L216.30 537.25L216.40 545.73L216.50 522.84L216.60 571.52L216.70 556.53L216.80 539.60L216.90 546.13L217.00 563.61L217.10 545.90L217.20 541.03L217.30 568.54L217.40 576.00L217.50 546.15L217.60 534.27L217.70 542.27L217.80 505.73L217.90 545.25L218.00 567.73L218.10 535.07L218.20 575.17L218.30 528.68L218.40 529.24L218.50 544.10L218.60 542.57L218.70 524.09L218.80 522.16L218.90 534.57L219.00 563.28L219.10 546.64L219.20 536.28L219.30 541.87L219.40 555.97L219.50 541.57L219.60 539.79L219.70 554.24L219.80 576.00L219.90 542.72L220.00 520.53L220.10 543.15L220.20 560.03L220.30 522.59L220.40 577.00L220.50 571.39L220.60 533.86L220.70 539.12L220.80 550.58L220.90 527.62L221.00 537.68L221.10 547.73L221.20 526.16L221.30 552.68L221.40 541.95L221.50 541.72L221.60 521.88L221.70 527.61L221.80 553.04L221.90 550.62L222.00 550.34L222.10 534.22L222.20 526.62L222.30 533.99L222.40 542.61L222.50 532.19L222.60 549.96L222.70 539.43L222.80 552.38L222.90 538.85L223.00 559.22L223.10 539.46L223.20 527.56L223.30 523.84L223.40 527.22L223.50 531.11L223.60 534.93L223.70 525.49L223.80 524.04L223.90 555.44L224.00 562.83L224.10 544.31L224.20 536.84L224.30 542.96L224.40 547.67L224.50 517.16L224.60 564.87L224.70 539.36L224.80 519.65L224.90 527.70L225.00 520.87L225.10 529.16L225.20 541.93L225.30 537.53L225.40 523.97L225.50 531.71L225.60 530.10L225.70 558.22L225.80 535.03L225.90 531.86L226.00 542.36L226.10 533.48L226.20 541.46L226.30 539.70L226.40 554.39L226.50 550.24L226.60 538.46L226.70 540.37L226.80 557.17L226.90 540.29L227.00 530.41L227.10 548.96L227.20 555.75L227.30 532.16L227.40 528.04L227.50 544.96L227.60 531.29L227.70 563.75L227.80 543.25L227.90 544.79L228.00 529.92L228.10 536.33L228.20 543.86L228.30 534.57L228.40 552.14L228.50 505.34L228.60 531.75L228.70 532.27L228.80 530.16L228.90 551.95L229.00 535.14L229.10 543.06L229.20 547.50L229.30 547.24L229.40 557.11L229.50 574.03L229.60 553.15L229.70 548.53L229.80 521.72L229.90 552.99L230.00 541.56L230.10 547.14L230.20 550.37L230.30 550.88L230.40 543.26L230.50 547.29L230.60 558.78L230.70 525.89L230.80 537.08L230.90 561.40L231.00 537.00L231.10 549.55L231.20 558.41L231.30 530.52L231.40 535.55L231.50 559.35L231.60 549.57L231.70 521.12L231.80 555.56L231.90 498.90L232.00 531.83L232.10 541.30L232.20 561.23L232.30 557.51L232.40 551.90L232.50 534.05L232.60 519.02L232.70 546.99L232.80 555.91L232.90 524.64L233.00 544.83L233.10 524.46L233.20 544.33L233.30 528.84L233.40 552.81L233.50 567.96L233.60 539.32L233.70 532.22L233.80 536.08L233.90 550.67L234.00 548.69L234.10 547.53L234.20 546.83L234.30 523.11L234.40 553.06L234.50 545.25L234.60 544.59L234.70 549.14L234.80 522.00L234.90 542.07L235.00 543.40L235.10 543.79L235.20 524.12L235.30 529.36L235.40 540.03L235.50 541.96L235.60 545.85L235.70 543.95L235.80 534.41L235.90 526.44L236.00 540.81L236.10 548.99L236.20 542.72L236.30 553.77L236.40 550.36L236.50 522.12L236.60 529.94L236.70 552.44L236.80 497.40L236.90 527.76L237.00 525.95L237.10 523.12L237.20 547.12L237.30 520.49L237.40 525.89L237.50 536.18L237.60 541.99L237.70 522.91L237.80 551.28L237.90 525.37L238.00 570.42L238.10 506.96L238.20 546.00L238.30 524.84L238.40 546.45L238.50 557.74L238.60 509.89L238.70 545.16L238.80 497.40L238.90 526.65L239.00 547.85L239.10 516.20L239.20 565.37L239.30 553.11L239.40 543.28L239.50 542.93L239.60 547.06L239.70 525.64L239.80 554.22L239.90 559.01L240.00 548.95L240.10 550.01L240.20 534.56L240.30 536.98L240.40 550.36L240.50 537.38L240.60 538.51L240.70 560.79L240.80 523.95L240.90 525.18L241.00 526.00L241.10 529.63L241.20 529.73L241.30 530.71L241.40 534.28L241.50 529.14L241.60 559.49L241.70 515.59L241.80 552.21L241.90 520.53L242.00 538.25L242.10 554.77L242.20 532.12L242.30 552.30L242.40 539.03L242.50 536.22L242.60 543.30L242.70 547.07L242.80 556.91L242.90 554.65L243.00 533.55L243.10 543.39L243.20 561.38L243.30 578.00L243.40 560.88L243.50 549.84L243.60 544.53L243.70 555.72L243.80 512.09L243.90 514.45L244.00 549.98L244.10 536.72L244.20 562.32L244.30 529.22L244.40 534.38L244.50 544.45L244.60 552.28L244.70 537.93L244.80 562.58L244.90 533.35L245.00 551.89L245.10 554.96L245.20 553.38L245.30 546.96L245.40 503.22L245.50 540.20L245.60 549.07L245.70 542.80L245.80 569.23L245.90 523.78L246.00 522.43L246.10 527.98L246.20 514.77L246.30 529.85L246.40 554.12L246.50 557.78L246.60 539.27L246.70 547.67L246.80 545.73L246.90 574.56L247.00 539.43L247.10 547.18L247.20 535.15L247.30 497.40L247.40 560.56L247.50 551.21L247.60 530.66L247.70 544.19L247.80 520.90L247.90 562.45L248.00 528.98L248.10 503.50L248.20 528.76L248.30 577.10L248.40 553.56L248.50 530.23L248.60 522.83L248.70 525.17L248.80 538.95L248.90 549.17L249.00 538.19L249.10 532.74L249.20 531.71L249.30 556.04L249.40 560.44L249.50 549.04L249.60 543.79L249.70 533.96L249.80 534.43L249.90 546.36L250.00 547.85L250.10 580.60L250.20 525.80L250.30 549.65L250.40 530.96L250.50 547.59L250.60 552.20L250.70 528.74L250.80 529.11L250.90 524.49L251.00 527.05L251.10 503.50L251.20 529.12L251.30 560.48L251.40 525.48L251.50 522.13L251.60 563.46L251.70 528.85L251.80 544.03L251.90 545.00L252.00 533.71L252.10 532.56L252.20 535.64L252.30 540.35L252.40 533.97L252.50 535.80L252.60 546.19L252.70 536.23L252.80 530.31L252.90 548.75L253.00 534.70L253.10 515.56L253.20 506.89L253.30 524.37L253.40 564.69L253.50 553.38L253.60 545.98L253.70 541.95L253.80 532.21L253.90 525.79L254.00 543.03L254.10 524.22L254.20 557.68L254.30 547.45L254.40 551.54L254.50 542.92L254.60 550.31L254.70 541.14L254.80 549.30L254.90 556.49L255.00 525.73L255.10 552.19L255.20 532.44L255.30 543.75L255.40 526.67L255.50 541.86L255.60 545.34L255.70 534.70L255.80 534.88L255.90 549.43L256.00 525.46L256.10 553.06L256.20 545.23L256.30 536.82L256.40 544.03L256.50 556.34L256.60 557.70L256.70 535.85L256.80 528.62L256.90 551.48L257.00 537.96L257.10 553.34L257.20 573.04L257.30 526.14L257.40 536.37L257.50 561.44L257.60 565.58L257.70 552.72L257.80 542.69L257.90 552.05L258.00 526.14L258.10 549.43L258.20 539.11L258.30 505.90L258.40 546.86L258.50 513.48L258.60 529.14L258.70 536.62L258.80 530.29L258.90 540.49L259.00 555.01L259.10 550.30L259.20 556.51L259.30 535.86L259.40 533.82L259.50 541.60L259.60 548.56L259.70 547.54L259.80 533.27L259.90 552.33L260.00 539.29L260.10 556.08L260.20 540.15L260.30 538.05L260.40 549.82L260.50 529.64L260.60 511.80L260.70 526.78L260.80 533.24L260.90 535.85L261.00 530.47L261.10 539.17L261.20 531.84L261.30 540.03L261.40 547.50L261.50 540.56L261.60 521.63L261.70 541.53L261.80 507.26L261.90 520.36L262.00 532.05L262.10 548.68L262.20 518.07L262.30 548.23L262.40 545.64L262.50 543.86L262.60 549.44L262.70 530.34L262.80 564.45L262.90 562.10L263.00 584.10L263.10 534.64L263.20 547.85L263.30 563.39L263.40 542.22L263.50 544.00L263.60 520.17L263.70 559.88L263.80 557.91L263.90 522.88L264.00 511.65L264.10 523.18L264.20 524.10L264.30 536.36L264.40 536.41L264.50 541.57L264.60 552.77L264.70 529.82L264.80 548.82L264.90 516.30L265.00 535.73L265.10 542.69L265.20 548.60L265.30 551.88L265.40 553.24L265.50 546.72L265.60 545.75L265.70 550.58L265.80 543.99L265.90 559.62L266.00 523.47L266.10 523.79L266.20 526.39L266.30 541.96L266.40 533.56L266.50 523.43L266.60 521.98L266.70 535.51L266.80 533.27L266.90 524.56L267.00 520.32L267.10 556.01L267.20 560.91L267.30 509.16L267.40 538.71L267.50 507.81L267.60 546.94L267.70 529.39L267.80 539.97L267.90 532.82L268.00 547.88L268.10 540.79L268.20 541.61L268.30 546.16L268.40 553.66L268.50 549.46L268.60 538.33L268.70 506.70L268.80 550.60L268.90 540.52L269.00 540.04L269.10 532.67L269.20 542.07L269.30 549.30L269.40 532.35L269.50 562.61L269.60 544.85L269.70 544.03L269.80 555.83L269.90 540.03L270.00 542.70L270.10 532.38L270.20 535.27L270.30 532.85L270.40 537.39L270.50 501.20L270.60 540.21L270.70 530.81L270.80 548.07L270.90 517.98L271.00 564.16L271.10 535.99L271.20 558.15L271.30 533.49L271.40 557.32L271.50 553.12L271.60 536.83L271.70 540.31L271.80 530.05L271.90 532.55L272.00 532.23L272.10 553.97L272.20 522.68L272.30 543.01L272.40 555.17L272.50 567.56L272.60 533.09L272.70 517.56L272.80 540.75L272.90 530.83L273.00 519.01L273.10 554.51L273.20 544.40L273.30 532.75L273.40 512.15L273.50 524.61L273.60 535.44L273.70 555.66L273.80 514.38L273.90 536.93L274.00 544.68L274.10 547.88L274.20 512.72L274.30 547.59L274.40 552.31L274.50 541.06L274.60 533.47L274.70 550.04L274.80 543.27L274.90 538.24L275.00 537.87L275.10 558.26L275.20 550.42L275.30 535.95L275.40 530.20L275.50 539.68L275.60 550.47L275.70 527.39L275.80 593.50L275.90 507.27L276.00 548.89L276.10 570.03L276.20 532.61L276.30 550.57L276.40 516.25L276.50 553.53L276.60 527.42L276.70 549.56L276.80 564.52L276.90 533.72L277.00 565.45L277.10 554.18L277.20 537.10L277.30 548.08L277.40 558.69L277.50 550.20L277.60 543.27L277.70 538.20L277.80 554.88L277.90 569.89L278.00 530.85L278.10 522.50L278.20 565.31L278.30 546.64L278.40 565.27L278.50 571.52L278.60 556.23L278.70 533.58L278.80 531.94L278.90 538.90L279.00 522.93L279.10 570.06L279.20 537.25L279.30 541.95L279.40 563.79L279.50 554.96L279.60 555.12L279.70 514.50L279.80 511.01L279.90 530.76L280.00 555.46L280.10 542.68L280.20 540.07L280.30 551.97L280.40 543.85L280.50 515.69L280.60 554.17L280.70 545.23L280.80 552.89L280.90 543.94L281.00 537.40L281.10 533.73L281.20 540.01L281.30 543.71L281.40 549.15L281.50 542.24L281.60 524.27L281.70 553.54L281.80 522.25L281.90 536.73L282.00 538.74L282.10 541.53L282.20 528.78L282.30 528.62L282.40 533.99L282.50 526.86L282.60 550.95L282.70 548.50L282.80 530.17L282.90 543.62L283.00 566.33L283.10 527.27L283.20 551.93L283.30 545.79L283.40 545.17L283.50 539.84L283.60 527.62L283.70 547.69L283.80 543.10L283.90 531.70L284.00 552.25L284.10 552.56L284.20 542.41L284.30 531.18L284.40 523.23L284.50 554.90L284.60 549.27L284.70 537.31L284.80 545.21L284.90 547.77L285.00 525.15L285.10 536.61L285.20 566.18L285.30 575.83L285.40 522.29L285.50 545.73L285.60 525.28L285.70 527.58L285.80 546.86L285.90 545.34L286.00 555.71L286.10 537.57L286.20 537.97L286.30 557.86L286.40 517.80L286.50 545.88L286.60 559.08L286.70 492.75L286.80 528.21L286.90 521.00L287.00 524.48L287.10 519.28L287.20 554.53L287.30 515.33L287.40 535.81L287.50 541.83L287.60 535.52L287.70 555.47L287.80 542.25L287.90 545.16L288.00 497.70L288.10 530.50L288.20 545.36L288.30 545.48L288.40 550.45L288.50 551.81L288.60 542.43L288.70 538.40L288.80 559.73L288.90 540.17L289.00 540.07L289.10 523.16L289.20 516.79L289.30 526.10L289.40 530.12L289.50 543.59L289.60 550.68L289.70 520.10L289.80 543.70L289.90 543.80L290.00 537.50L290.10 535.19L290.20 546.08L290.30 571.61L290.40 548.04L290.50 527.17L290.60 531.18L290.70 565.34L290.80 567.94L290.90 529.36L291.00 527.05L291.10 528.82L291.20 570.40L291.30 507.95L291.40 522.37L291.50 499.50L291.60 556.28L291.70 492.75L291.80 549.89L291.90 560.10L292.00 562.42L292.10 500.00L292.20 552.19L292.30 564.20L292.40 529.22L292.50 521.57L292.60 497.18L292.70 525.27L292.80 546.35L292.90 558.48L293.00 561.67L293.10 542.92L293.20 541.66L293.30 572.84L293.40 554.25L293.50 527.29L293.60 492.75L293.70 543.09L293.80 529.55L293.90 550.92L294.00 526.53L294.10 523.82L294.20 530.48L294.30 546.18L294.40 571.88L294.50 522.21L294.60 517.65L294.70 563.64L294.80 544.91L294.90 562.80L295.00 543.04L295.10 535.70L295.20 543.31L295.30 533.24L295.40 537.59L295.50 540.71L295.60 520.89L295.70 539.81L295.80 545.52L295.90 541.36L296.00 513.75L296.10 550.02L296.20 528.10L296.30 546.27L296.40 525.23L296.50 578.00L296.60 545.94L296.70 562.63L296.80 540.14L296.90 523.49L297.00 536.90L297.10 545.60L297.20 545.04L297.30 557.12L297.40 525.80L297.50 548.78L297.60 528.75L297.70 533.36L297.80 512.54L297.90 537.37L298.00 550.07L298.10 509.95L298.20 527.80L298.30 548.37L298.40 548.69L298.50 545.56L298.60 516.52L298.70 528.49L298.80 521.91L298.90 523.52L299.00 527.26L299.10 522.95L299.20 546.85L299.30 549.09L299.40 550.72L299.50 542.87L299.60 531.89L299.70 558.51L299.80 545.41L299.90 531.25L300.00 544.57L300.10 546.39L300.20 553.17L300.30 552.28L300.40 552.53L300.50 540.30L300.60 570.26L300.70 548.44L300.80 529.74L300.90 529.70L301.00 546.34L301.10 539.56L301.20 535.46L301.30 559.04L301.40 541.06L301.50 538.94L301.60 534.97L301.70 531.87L301.80 534.94L301.90 524.44L302.00 518.70L302.10 525.66L302.20 555.11L302.30 544.07L302.40 567.22L302.50 544.85L302.60 493.00L302.70 549.10L302.80 525.52L302.90 529.73L303.00 556.80L303.10 535.51L303.20 494.00L303.30 521.61L303.40 524.32L303.50 506.39L303.60 561.65L303.70 557.97L303.80 557.63L303.90 550.68L304.00 560.30L304.10 567.63L304.20 563.79L304.30 534.58L304.40 568.81L304.50 543.22L304.60 532.74L304.70 548.64L304.80 560.77L304.90 517.63L305.00 529.40L305.10 546.30L305.20 542.22L305.30 561.56L305.40 534.11L305.50 522.00L305.60 530.01L305.70 558.71L305.80 524.77L305.90 508.12L306.00 554.19L306.10 544.61L306.20 523.89L306.30 525.21L306.40 543.60L306.50 523.11L306.60 558.39L306.70 538.09L306.80 553.47L306.90 556.03L307.00 500.96L307.10 513.66L307.20 567.26L307.30 597.00L307.40 533.45L307.50 521.68L307.60 556.60L307.70 567.69L307.80 544.45L307.90 519.26L308.00 542.42L308.10 529.70L308.20 553.48L308.30 552.07L308.40 495.40L308.50 541.89L308.60 514.70L308.70 556.53L308.80 525.76L308.90 535.98L309.00 565.67L309.10 537.49L309.20 561.42L309.30 542.97L309.40 541.96L309.50 561.69L309.60 549.96L309.70 524.63L309.80 529.85L309.90 531.16L310.00 560.34L310.10 550.46L310.20 546.00L310.30 550.77L310.40 541.86L310.50 568.92L310.60 553.50L310.70 548.54L310.80 561.19L310.90 537.76L311.00 524.40L311.10 546.62L311.20 539.83L311.30 551.22L311.40 541.94L311.50 549.64L311.60 546.62L311.70 523.88L311.80 546.15L311.90 520.09L312.00 528.69L312.10 541.91L312.20 525.25L312.30 525.92L312.40 566.95L312.50 538.39L312.60 523.73L312.70 560.18L312.80 539.30L312.90 553.25L313.00 543.17L313.10 532.76L313.20 547.74L313.30 529.96L313.40 542.93L313.50 560.56L313.60 547.74L313.70 554.69L313.80 516.70L313.90 523.26L314.00 555.11L314.10 515.71L314.20 541.03L314.30 542.24L314.40 552.29L314.50 529.39L314.60 535.32L314.70 509.71L314.80 522.98L314.90 538.36L315.00 533.41L315.10 535.60L315.20 543.54L315.30 531.63L315.40 507.67L315.50 539.35L315.60 526.19L315.70 531.61L315.80 510.63L315.90 533.10L316.00 528.06L316.10 530.24L316.20 551.12L316.30 540.21L316.40 551.59L316.50 543.04L316.60 548.66L316.70 531.63L316.80 542.68L316.90 526.22L317.00 552.45L317.10 529.14L317.20 546.27L317.30 533.55L317.40 550.47L317.50 534.48L317.60 538.78L317.70 508.02L317.80 538.91L317.90 534.58L318.00 525.04L318.10 534.25L318.20 548.20L318.30 552.16L318.40 545.32L318.50 561.74L318.60 541.96L318.70 530.13L318.80 564.05L318.90 532.64L319.00 538.48L319.10 553.58L319.20 538.64L319.30 542.46L319.40 526.13L319.50 539.21L319.60 542.07L319.70 519.72L319.80 549.28L319.90 533.49L320.00 520.49L320.10 552.13L320.20 556.24L320.30 522.43L320.40 548.09L320.50 530.87L320.60 524.12L320.70 537.67L320.80 544.86L320.90 526.82L321.00 546.85L321.10 550.57L321.20 560.36L321.30 517.41L321.40 530.51L321.50 539.75L321.60 543.56L321.70 542.20L321.80 545.75L321.90 533.67L322.00 525.60L322.10 527.48L322.20 541.28L322.30 535.37L322.40 550.77L322.50 556.07L322.60 539.30L322.70 528.71L322.80 544.47L322.90 536.96L323.00 540.37L323.10 554.07L323.20 541.91L323.30 542.91L323.40 550.32L323.50 514.07L323.60 551.74L323.70 542.96L323.80 546.57L323.90 549.56L324.00 558.91L324.10 549.09L324.20 541.79L324.30 534.46L324.40 535.45L324.50 562.11L324.60 560.60L324.70 538.09L324.80 536.88L324.90 531.68L325.00 536.92L325.10 546.59L325.20 540.13L325.30 503.50L325.40 545.25L325.50 543.03L325.60 539.12L325.70 549.04L325.80 531.03L325.90 559.23L326.00 531.85L326.10 542.54L326.20 546.91L326.30 526.24L326.40 543.75L326.50 517.26L326.60 517.56L326.70 547.69L326.80 554.89L326.90 559.31L327.00 543.97L327.10 544.94L327.20 541.29L327.30 536.47L327.40 546.35L327.50 544.97L327.60 555.18L327.70 530.47L327.80 541.52L327.90 549.57L328.00 534.75L328.10 543.93L328.20 506.70L328.30 528.47L328.40 564.04L328.50 536.90L328.60 535.87L328.70 526.87L328.80 526.05L328.90 537.03L329.00 549.61L329.10 543.02L329.20 546.99L329.30 527.65L329.40 544.19L329.50 535.58L329.60 537.54L329.70 531.55L329.80 541.10L329.90 538.86L330.00 539.93L330.10 536.62L330.20 545.94L330.30 530.90L330.40 546.14L330.50 549.73L330.60 533.98L330.70 526.56L330.80 536.72L330.90 541.96L331.00 541.01L331.10 546.82L331.20 535.06L331.30 541.94L331.40 541.07L331.50 541.22L331.60 542.97L331.70 551.25L331.80 530.69L331.90 534.53L332.00 542.42L332.10 529.09L332.20 549.85L332.30 534.41L332.40 534.85L332.50 542.25L332.60 548.14L332.70 546.23L332.80 536.61L332.90 553.26L333.00 561.43L333.10 531.01L333.20 553.89L333.30 548.89L333.40 549.27L333.50 561.87L333.60 563.82L333.70 535.07L333.80 522.16L333.90 564.46L334.00 543.62L334.10 551.68L334.20 566.54L334.30 532.17L334.40 547.85L334.50 559.17L334.60 538.01L334.70 540.48L334.80 527.44L334.90 525.06L335.00 543.89L335.10 526.59L335.20 549.33L335.30 584.10L335.40 549.40L335.50 536.73L335.60 547.35L335.70 533.90L335.80 497.70L335.90 540.58L336.00 541.67L336.10 525.97L336.20 552.33L336.30 559.02L336.40 561.20L336.50 557.39L336.60 537.09L336.70 536.52L336.80 504.22L336.90 521.57L337.00 525.72L337.10 554.21L337.20 532.48L337.30 531.98L337.40 566.46L337.50 519.27L337.60 549.57L337.70 537.72L337.80 556.19L337.90 529.53L338.00 544.28L338.10 549.40L338.20 542.01L338.30 558.73L338.40 542.81L338.50 543.89L338.60 529.95L338.70 537.50L338.80 587.60L338.90 530.77L339.00 525.67L339.10 531.85L339.20 564.50L339.30 529.15L339.40 522.25L339.50 571.14L339.60 529.41L339.70 569.29L339.80 559.28L339.90 522.82L340.00 568.68L340.10 554.29L340.20 526.50L340.30 551.69L340.40 520.72L340.50 541.17L340.60 532.82L340.70 538.74L340.80 538.49L340.90 548.74L341.00 536.11L341.10 533.57L341.20 554.71L341.30 532.08L341.40 545.94L341.50 555.28L341.60 534.61L341.70 552.67L341.80 544.64L341.90 533.72L342.00 549.98L342.10 522.61L342.20 531.67L342.30 533.65L342.40 546.04L342.50 528.18L342.60 554.12L342.70 526.95L342.80 547.88L342.90 539.78L343.00 581.80L343.10 537.98L343.20 538.43L343.30 532.14L343.40 547.23L343.50 556.78L343.60 538.06L343.70 543.04L343.80 531.02L343.90 535.78L344.00 552.81L344.10 539.72L344.20 536.25L344.30 535.09L344.40 547.33L344.50 540.99L344.60 525.06L344.70 545.42L344.80 537.24L344.90 543.59L345.00 539.78L345.10 543.08L345.20 546.89L345.30 540.14L345.40 528.61L345.50 538.72L345.60 548.19L345.70 559.13L345.80 539.58L345.90 537.95L346.00 560.73L346.10 533.26L346.20 542.24L346.30 508.20L346.40 521.71L346.50 529.41L346.60 547.97L346.70 545.50L346.80 546.53L346.90 520.21L347.00 529.71L347.10 549.70L347.20 539.78L347.30 528.73L347.40 534.72L347.50 539.49L347.60 541.93L347.70 546.53L347.80 539.02L347.90 555.39L348.00 533.88L348.10 518.67L348.20 550.49L348.30 529.90L348.40 536.10L348.50 526.00L348.60 520.70L348.70 539.30L348.80 551.25L348.90 528.50L349.00 542.10L349.10 537.75L349.20 543.05L349.30 541.97L349.40 541.51L349.50 538.14L349.60 532.30L349.70 544.01L349.80 543.80L349.90 555.82L350.00 538.81L350.10 530.28L350.20 522.89L350.30 549.27L350.40 534.21L350.50 549.89L350.60 542.47L350.70 542.45L350.80 548.85L350.90 545.00L351.00 540.26L351.10 541.97L351.20 541.02L351.30 534.54L351.40 550.78L351.50 538.02L351.60 553.49L351.70 529.72L351.80 551.48L351.90 540.16L352.00 546.34L352.10 558.76L352.20 534.80L352.30 560.22L352.40 551.37L352.50 532.55L352.60 563.21L352.70 536.90L352.80 523.22L352.90 548.89L353.00 512.90L353.10 539.63L353.20 537.71L353.30 545.90L353.40 533.34L353.50 537.63L353.60 539.25L353.70 553.10L353.80 540.61L353.90 537.87L354.00 553.96L354.10 545.35L354.20 548.07L354.30 566.73L354.40 538.51L354.50 543.93L354.60 537.20L354.70 542.93L354.80 545.70L354.90 538.47L355.00 537.82L355.10 528.85L355.20 538.46L355.30 536.38L355.40 539.11L355.50 540.29L355.60 541.74L355.70 548.12L355.80 513.94L355.90 574.68L356.00 517.57L356.10 571.76L356.20 539.23L356.30 543.32L356.40 551.33L356.50 522.13L356.60 548.63L356.70 535.63L356.80 512.81L356.90 521.11L357.00 527.76L357.10 530.63L357.20 549.82L357.30 566.40L357.40 556.47L357.50 550.92L357.60 525.13L357.70 546.19L357.80 527.43L357.90 547.69L358.00 542.71L358.10 544.86L358.20 545.71L358.30 562.19L358.40 537.94L358.50 529.74L358.60 542.52L358.70 552.00L358.80 527.31L358.90 543.28L359.00 533.35L359.10 509.76L359.20 552.87L359.30 552.69L359.40 556.99L359.50 544.30L359.60 535.39L359.70 556.17L359.80 543.00L359.90 549.60L360.00 536.43L360.10 554.66L360.20 552.10L360.30 545.21L360.40 548.19L360.50 537.57L360.60 540.66L360.70 576.07L360.80 547.91L360.90 546.40L361.00 554.65L361.10 550.99L361.20 546.46L361.30 530.69L361.40 527.99L361.50 535.53L361.60 546.21L361.70 539.16L361.80 553.02L361.90 527.11L362.00 539.53L362.10 544.68L362.20 536.02L362.30 527.24L362.40 568.79L362.50 548.18L362.60 527.46L362.70 509.45L362.80 550.09L362.90 556.37L363.00 539.18L363.10 562.09L363.20 567.17L363.30 542.89L363.40 532.20L363.50 545.67L363.60 537.21L363.70 561.82L363.80 517.61L363.90 554.40L364.00 533.28L364.10 542.87L364.20 536.87L364.30 549.18L364.40 544.66L364.50 529.43L364.60 549.74L364.70 573.54L364.80 558.49L364.90 535.98L365.00 530.01L365.10 553.82L365.20 527.65L365.30 559.59L365.40 555.51L365.50 532.76L365.60 531.48L365.70 560.46L365.80 564.08L365.90 536.22L366.00 546.56L366.10 560.23L366.20 571.20L366.30 550.33L366.40 552.41L366.50 529.38L366.60 526.06L366.70 517.39L366.80 547.85L366.90 533.44L367.00 546.40L367.10 517.53L367.20 523.40L367.30 518.50L367.40 533.86L367.50 523.90L367.60 518.52L367.70 542.88L367.80 537.78L367.90 544.93L368.00 548.59L368.10 541.34L368.20 541.65L368.30 523.22L368.40 540.61L368.50 534.06L368.60 546.11L368.70 575.41L368.80 545.95L368.90 556.62L369.00 550.34L369.10 561.11L369.20 531.89L369.30 521.13L369.40 534.81L369.50 542.10L369.60 541.26L369.70 538.24L369.80 526.85L369.90 551.55L370.00 520.99L370.10 560.80L370.20 540.60L370.30 525.32L370.40 532.04L370.50 541.94L370.60 546.97L370.70 556.11L370.80 532.50L370.90 555.61L371.00 523.31L371.10 549.63L371.20 547.59L371.30 537.21L371.40 554.69L371.50 538.40L371.60 545.11L371.70 534.53L371.80 548.91L371.90 541.02L372.00 526.57L372.10 547.77L372.20 518.74L372.30 541.27L372.40 563.33L372.50 544.82L372.60 517.92L372.70 549.59L372.80 558.87L372.90 553.05L373.00 537.51L373.10 553.67L373.20 546.88L373.30 538.40L373.40 553.61L373.50 553.28L373.60 518.54L373.70 545.79L373.80 519.58L373.90 532.28L374.00 540.11L374.10 541.37L374.20 529.82L374.30 552.71L374.40 518.08L374.50 550.72L374.60 545.69L374.70 542.50L374.80 541.03L374.90 524.99L375.00 523.13L375.10 536.29L375.20 541.58L375.30 529.35L375.40 561.03L375.50 508.20L375.60 548.49L375.70 548.25L375.80 527.98L375.90 557.98L376.00 566.18L376.10 554.64L376.20 548.85L376.30 552.50L376.40 538.08L376.50 532.13L376.60 541.34L376.70 577.00L376.80 541.36L376.90 552.79L377.00 520.98L377.10 526.73L377.20 514.30L377.30 533.70L377.40 525.34L377.50 547.39L377.60 550.10L377.70 512.31L377.80 535.81L377.90 554.80L378.00 547.65L378.10 533.34L378.20 550.34L378.30 550.80L378.40 550.61L378.50 542.54L378.60 551.64L378.70 546.88L378.80 564.95L378.90 537.02L379.00 554.15L379.10 544.38L379.20 535.61L379.30 563.85L379.40 536.97L379.50 533.30L379.60 530.91L379.70 528.37L379.80 554.07L379.90 550.82L380.00 535.13L380.10 550.73L380.20 547.07L380.30 534.36L380.40 530.15L380.50 557.48L380.60 535.93L380.70 540.04L380.80 529.99L380.90 537.74L381.00 551.72L381.10 547.84L381.20 545.70L381.30 538.23L381.40 558.60L381.50 535.87L381.60 551.14L381.70 544.83L381.80 549.22L381.90 528.18L382.00 550.45L382.10 533.20L382.20 532.28L382.30 534.62L382.40 526.13L382.50 538.42L382.60 549.54L382.70 539.30L382.80 554.81L382.90 531.17L383.00 538.15L383.10 541.48L383.20 540.02L383.30 525.40L383.40 539.89L383.50 542.81L383.60 541.81L383.70 547.10L383.80 535.56L383.90 537.40L384.00 540.05L384.10 548.89L384.20 548.92L384.30 549.58L384.40 537.26L384.50 531.53L384.60 545.49L384.70 549.28L384.80 536.35L384.90 565.17L385.00 540.08L385.10 543.06L385.20 535.61L385.30 534.12L385.40 539.61L385.50 524.72L385.60 536.18L385.70 538.60L385.80 534.95L385.90 537.21L386.00 544.19L386.10 543.30L386.20 538.13L386.30 540.26L386.40 519.70L386.50 527.72L386.60 547.70L386.70 539.78L386.80 540.19L386.90 541.74L387.00 528.58L387.10 546.39L387.20 571.20L387.30 533.26L387.40 519.81L387.50 552.94L387.60 537.49L387.70 528.46L387.80 552.33L387.90 544.46L388.00 542.65L388.10 532.24L388.20 541.27L388.30 523.53L388.40 537.45L388.50 537.50L388.60 524.88L388.70 549.03L388.80 551.77L388.90 550.36L389.00 539.40L389.10 521.53L389.20 539.78L389.30 534.46L389.40 533.96L389.50 545.73L389.60 543.10L389.70 544.72L389.80 535.30L389.90 540.03L390.00 528.89L390.10 555.06L390.20 510.50L390.30 543.50L390.40 538.84L390.50 549.79L390.60 543.03L390.70 538.26L390.80 534.96L390.90 546.45L391.00 538.05L391.10 546.54L391.20 537.30L391.30 536.97L391.40 541.58L391.50 523.41L391.60 540.34L391.70 539.02L391.80 547.00L391.90 531.36L392.00 533.44L392.10 537.33L392.20 539.76L392.30 531.99L392.40 539.67L392.50 534.00L392.60 534.07L392.70 531.73L392.80 533.63L392.90 544.50L393.00 549.44L393.10 535.96L393.20 534.60L393.30 549.16L393.40 526.51L393.50 532.36L393.60 538.73L393.70 545.55L393.80 550.07L393.90 532.69L394.00 540.42L394.10 537.40L394.20 535.16L394.30 531.48L394.40 551.01L394.50 536.04L394.60 538.36L394.70 539.11L394.80 552.95L394.90 553.24L395.00 534.76L395.10 539.02L395.20 539.61L395.30 527.04L395.40 550.90L395.50 535.64L395.60 546.40L395.70 549.32L395.80 553.98L395.90 544.27L396.00 549.67L396.10 550.54L396.20 540.66L396.30 536.32L396.40 536.95L396.50 537.68L396.60 542.93L396.70 537.84L396.80 547.25L396.90 539.27L397.00 540.94L397.10 544.66L397.20 538.66L397.30 539.30L397.40 548.27L397.50 532.09L397.60 545.76L397.70 528.60L397.80 550.18L397.90 547.53L398.00 533.83L398.10 555.70L398.20 540.01L398.30 543.78L398.40 536.18L398.50 540.95L398.60 541.28L398.70 542.53L398.80 548.36L398.90 548.83L399.00 546.94L399.10 525.29L399.20 543.60L399.30 539.75L399.40 529.65L399.50 561.96L399.60 533.86L399.70 533.70L399.80 530.02L399.90 537.12L400.00 547.68L400.10 536.74L400.20 538.98L400.30 538.97L400.40 544.98L400.50 526.91L400.60 541.85L400.70 542.89L400.80 537.51L400.90 532.90L401.00 539.82L401.10 539.04L401.20 543.85L401.30 551.35L401.40 537.91L401.50 535.45L401.60 547.51L401.70 545.70L401.80 535.31L401.90 534.96L402.00 537.55L402.10 540.48L402.20 536.87L402.30 545.42L402.40 545.75L402.50 545.43L402.60 551.16L402.70 529.02L402.80 541.83L402.90 533.74L403.00 542.27L403.10 544.53L403.20 539.72L403.30 534.66L403.40 545.52L403.50 529.69L403.60 533.77L403.70 555.00L403.80 543.41L403.90 536.28L404.00 538.93L404.10 544.03L404.20 536.71L404.30 540.32L404.40 555.44L404.50 540.16L404.60 537.56L404.70 542.99L404.80 539.89L404.90 543.56L405.00 539.75L405.10 534.57L405.20 542.12L405.30 538.63L405.40 555.33L405.50 552.03L405.60 550.50L405.70 536.46L405.80 541.42L405.90 528.70L406.00 536.42L406.10 542.55L406.20 532.76L406.30 552.09L406.40 540.25L406.50 534.10L406.60 551.75L406.70 541.06L406.80 535.72L406.90 539.88L407.00 528.54L407.10 534.19L407.20 541.59L407.30 533.15L407.40 538.72L407.50 538.89L407.60 545.58L407.70 557.23L407.80 547.68L407.90 546.44L408.00 545.20L408.10 537.96L408.20 537.49L408.30 534.82L408.40 539.51L408.50 530.81L408.60 543.80L408.70 548.10L408.80 529.36L408.90 550.32L409.00 540.05L409.10 538.19L409.20 532.69L409.30 538.79L409.40 540.21L409.50 546.43L409.60 548.22L409.70 547.67L409.80 545.01L409.90 548.93L410.00 544.38L410.10 536.08L410.20 548.53L410.30 546.03L410.40 544.28L410.50 536.60L410.60 534.08L410.70 547.33L410.80 547.33L410.90 541.45L411.00 532.98L411.10 537.47L411.20 532.17L411.30 551.27L411.40 546.93L411.50 537.49L411.60 524.37L411.70 538.51L411.80 533.50L411.90 535.74L412.00 545.41L412.10 532.89L412.20 543.30L412.30 533.63L412.40 542.61L412.50 543.78L412.60 536.63L412.70 547.66L412.80 546.45L412.90 538.15L413.00 537.68L413.10 533.29L413.20 543.17L413.30 536.87L413.40 538.18L413.50 552.45L413.60 534.92L413.70 543.07L413.80 542.49L413.90 533.09L414.00 545.93L414.10 550.84L414.20 542.51L414.30 530.91L414.40 532.02L414.50 551.13L414.60 540.77L414.70 549.19L414.80 546.55L414.90 532.14L415.00 542.01L415.10 530.07L415.20 538.38L415.30 548.23L415.40 538.05L415.50 539.60L415.60 548.79L415.70 529.43L415.80 546.13L415.90 536.70L416.00 540.18L416.10 541.66L416.20 535.65L416.30 549.66L416.40 542.46L416.50 545.62L416.60 547.73L416.70 538.24L416.80 543.33L416.90 536.80L417.00 540.61L417.10 545.57L417.20 537.45L417.30 540.28L417.40 545.30L417.50 540.69L417.60 545.98L417.70 545.07L417.80 548.18L417.90 537.18L418.00 547.99L418.10 535.64L418.20 532.24L418.30 542.65L418.40 544.90L418.50 544.00L418.60 541.50L418.70 541.39L418.80 546.88L418.90 539.06L419.00 543.72L419.10 547.89L419.20 533.20L419.30 538.60L419.40 541.69L419.50 534.94L419.60 541.89L419.70 540.53L419.80 538.22L419.90 542.97L420.00 545.30L420.10 546.99L420.20 542.87L420.30 535.51L420.40 542.81L420.50 540.55L420.60 544.03L420.70 543.56L420.80 536.75L420.90 535.08L421.00 542.55L421.10 543.64L421.20 544.99L421.30 542.54L421.40 545.47L421.50 536.35L421.60 545.29L421.70 532.70L421.80 538.96L421.90 541.21L422.00 539.69L422.10 545.66L422.20 547.04L422.30 539.99L422.40 536.00L422.50 557.70L422.60 546.21L422.70 539.10L422.80 513.71L422.90 533.99L423.00 556.22L423.10 526.38L423.20 533.31L423.30 529.00L423.40 523.67L423.50 536.51L423.60 520.17L423.70 543.56L423.80 551.12L423.90 553.71L424.00 520.20L424.10 529.46L424.20 527.07L424.30 540.87L424.40 542.34L424.50 537.95L424.60 503.50L424.70 545.84L424.80 504.86L424.90 544.01L425.00 549.88L425.10 531.24L425.20 543.26L425.30 526.58L425.40 558.51L425.50 543.53L425.60 542.34L425.70 539.32L425.80 523.77L425.90 530.35L426.00 532.94L426.10 563.86L426.20 530.79L426.30 533.04L426.40 540.44L426.50 539.44L426.60 512.01L426.70 553.72L426.80 527.53L426.90 524.33L427.00 554.63L427.10 547.01L427.20 535.40L427.30 526.93L427.40 549.71L427.50 550.63L427.60 570.00L427.70 541.50L427.80 527.84L427.90 542.14L428.00 550.13L428.10 556.83L428.20 553.62L428.30 548.93L428.40 533.51L428.50 530.33L428.60 533.00L428.70 526.03L428.80 520.01L428.90 557.71L429.00 548.71L429.10 551.49L429.20 549.18L429.30 543.08L429.40 567.12L429.50 514.38L429.60 536.28L429.70 504.06L429.80 547.82L429.90 521.08L430.00 537.22L430.10 531.89L430.20 528.73L430.30 549.30L430.40 529.53L430.50 533.90L430.60 552.56L430.70 535.31L430.80 530.38L430.90 553.80L431.00 552.23L431.10 522.14L431.20 529.26L431.30 526.58L431.40 535.37L431.50 534.35L431.60 554.11L431.70 542.67L431.80 552.18L431.90 513.60L432.00 532.88L432.10 516.57L432.20 526.71L432.30 539.64L432.40 516.70L432.50 546.91L432.60 533.50L432.70 535.99L432.80 529.79L432.90 550.63L433.00 552.84L433.10 526.25L433.20 553.78L433.30 531.15L433.40 551.26L433.50 537.45L433.60 548.07L433.70 534.04L433.80 539.15L433.90 518.77L434.00 537.05L434.10 572.97L434.20 535.92L434.30 521.04L434.40 533.38L434.50 541.21L434.60 538.97L434.70 535.65L434.80 542.40L434.90 558.32L435.00 545.54L435.10 549.44L435.20 531.96L435.30 559.94L435.40 524.44L435.50 553.15L435.60 527.43L435.70 553.63L435.80 514.27L435.90 553.34L436.00 540.64L436.10 550.36L436.20 539.57L436.30 530.43L436.40 525.14L436.50 530.37L436.60 554.50L436.70 510.82L436.80 550.29L436.90 555.54L437.00 535.32L437.10 556.09L437.20 571.33L437.30 562.23L437.40 539.17L437.50 540.91L437.60 526.61L437.70 539.88L437.80 556.88L437.90 522.06L438.00 544.68L438.10 548.98L438.20 544.69L438.30 534.19L438.40 566.49L438.50 551.28L438.60 533.32L438.70 541.06L438.80 554.91L438.90 534.61L439.00 522.77L439.10 556.55L439.20 540.69L439.30 545.07L439.40 525.62L439.50 560.15L439.60 534.39L439.70 500.00L439.80 521.36L439.90 552.06L440.00 533.23L440.10 525.70L440.20 535.21L440.30 538.57L440.40 534.99L440.50 555.84L440.60 551.31L440.70 525.73L440.80 526.58L440.90 555.69L441.00 540.07L441.10 564.20L441.20 551.14L441.30 545.09L441.40 502.15L441.50 533.66L441.60 560.65L441.70 531.19L441.80 535.34L441.90 530.61L442.00 542.98L442.10 554.51L442.20 547.58L442.30 531.21L442.40 544.08L442.50 549.98L442.60 552.21L442.70 561.14L442.80 525.22L442.90 544.04L443.00 564.25L443.10 531.22L443.20 572.57L443.30 543.76L443.40 554.04L443.50 555.74L443.60 557.09L443.70 494.30L443.80 551.52L443.90 547.11L444.00 563.44L444.10 543.49L444.20 526.47L444.30 527.45L444.40 527.90L444.50 550.07L444.60 540.58L444.70 556.44L444.80 561.93L444.90 573.51L445.00 538.63L445.10 562.15L445.20 515.52L445.30 583.81L445.40 537.20L445.50 534.99L445.60 558.11L445.70 524.48L445.80 519.55L445.90 535.50L446.00 526.23L446.10 540.60L446.20 544.55L446.30 533.09L446.40 521.38L446.50 554.91L446.60 517.72L446.70 544.50L446.80 568.57L446.90 515.15L447.00 536.18L447.10 553.21L447.20 543.05L447.30 566.01L447.40 538.69L447.50 557.16L447.60 551.94L447.70 537.65L447.80 551.14L447.90 561.35L448.00 544.04L448.10 547.29L448.20 540.73L448.30 538.56L448.40 569.56L448.50 555.20L448.60 554.20L448.70 557.85L448.80 553.74L448.90 526.35L449.00 520.46L449.10 540.66L449.20 539.23L449.30 548.72L449.40 551.61L449.50 541.05L449.60 547.06L449.70 548.87L449.80 551.57L449.90 538.80L450.00 547.27L450.10 557.51L450.20 538.72L450.30 581.80L450.40 545.79L450.50 553.23L450.60 547.26L450.70 550.37L450.80 571.93L450.90 544.14L451.00 537.46L451.10 499.85L451.20 524.80L451.30 531.58L451.40 534.03L451.50 521.74L451.60 560.46L451.70 532.36L451.80 541.88L451.90 526.01L452.00 551.19L452.10 506.28L452.20 550.75L452.30 527.43L452.40 501.25L452.50 542.84L452.60 546.88L452.70 527.05L452.80 557.16L452.90 521.80L453.00 545.73L453.10 533.63L453.20 526.89L453.30 498.90L453.40 555.51L453.50 555.22L453.60 536.36L453.70 527.61L453.80 537.31L453.90 537.66L454.00 533.83L454.10 526.25L454.20 559.52L454.30 550.89L454.40 568.90L454.50 515.21L454.60 546.98L454.70 544.75L454.80 531.01L454.90 586.50L455.00 538.38L455.10 527.15L455.20 535.14L455.30 567.72L455.40 568.34L455.50 564.50L455.60 538.82L455.70 511.72L455.80 523.07L455.90 543.17L456.00 551.83L456.10 533.60L456.20 547.72L456.30 551.58L456.40 519.79L456.50 540.49L456.60 518.08L456.70 516.95L456.80 494.30L456.90 545.20L457.00 538.68L457.10 557.64L457.20 530.79L457.30 527.71L457.40 550.38L457.50 527.32L457.60 560.97L457.70 502.40L457.80 532.28L457.90 521.96L458.00 534.68L458.10 542.75L458.20 542.26L458.30 547.81L458.40 509.61L458.50 538.49L458.60 555.47L458.70 530.51L458.80 531.35L458.90 543.33L459.00 525.23L459.10 571.28L459.20 541.84L459.30 533.00L459.40 524.60L459.50 502.41L459.60 532.12L459.70 556.95L459.80 549.23L459.90 571.91L460.00 554.12L460.10 530.53L460.20 502.72L460.30 552.99L460.40 529.60L460.50 538.31L460.60 520.71L460.70 543.63L460.80 561.23L460.90 567.68L461.00 528.22L461.10 559.66L461.20 541.78L461.30 570.94L461.40 532.94L461.50 547.98L461.60 548.49L461.70 553.63L461.80 538.81L461.90 530.19L462.00 538.37L462.10 547.44L462.20 547.73L462.30 531.23L462.40 559.99L462.50 566.08L462.60 554.94L462.70 540.69L462.80 565.23L462.90 563.95L463.00 529.65L463.10 532.82L463.20 555.64L463.30 519.82L463.40 562.16L463.50 551.41L463.60 527.15L463.70 503.79L463.80 541.39L463.90 533.07L464.00 513.07L464.10 563.83L464.20 498.78L464.30 586.50L464.40 536.59L464.50 515.71L464.60 536.91L464.70 560.83L464.80 539.25L464.90 524.56L465.00 517.71L465.10 537.16L465.20 554.87L465.30 535.57L465.40 521.12L465.50 530.59L465.60 542.89L465.70 536.68L465.80 569.54L465.90 519.58L466.00 553.94L466.10 544.71L466.20 556.27L466.30 556.56L466.40 522.18L466.50 551.66L466.60 533.00L466.70 564.52L466.80 536.71L466.90 556.00L467.00 546.95L467.10 550.14L467.20 569.77L467.30 548.80L467.40 545.72L467.50 581.34L467.60 552.24L467.70 542.31L467.80 532.21L467.90 531.48L468.00 555.59L468.10 537.51L468.20 554.24L468.30 538.34L468.40 503.87L468.50 542.66L468.60 550.46L468.70 546.83L468.80 524.82L468.90 574.23L469.00 551.27L469.10 537.11L469.20 551.23L469.30 526.23L469.40 539.80L469.50 531.67L469.60 557.68L469.70 521.39L469.80 535.80L469.90 528.17L470.00 530.98L470.10 509.56L470.20 528.92L470.30 516.09L470.40 529.23L470.50 565.32L470.60 539.70L470.70 519.56L470.80 498.90L470.90 534.56L471.00 556.85L471.10 562.99L471.20 519.40L471.30 535.57L471.40 521.34L471.50 546.92L471.60 545.65L471.70 559.44L471.80 532.92L471.90 547.47L472.00 523.96L472.10 522.18L472.20 549.21L472.30 555.14L472.40 581.27L472.50 555.12L472.60 542.00L472.70 559.93L472.80 564.93L472.90 570.04L473.00 534.27L473.10 543.99L473.20 532.58L473.30 557.63L473.40 532.19L473.50 544.29L473.60 556.87L473.70 552.86L473.80 497.87L473.90 564.66L474.00 549.14L474.10 547.92L474.20 500.91L474.30 549.66L474.40 528.56L474.50 535.30L474.60 538.26L474.70 537.07L474.80 543.96L474.90 545.84L475.00 509.24L475.10 546.10L475.20 529.93L475.30 622.00L475.40 553.54L475.50 523.03L475.60 561.61L475.70 587.30L475.80 551.00L475.90 550.59L476.00 543.07L476.10 541.83L476.20 531.68L476.30 551.01L476.40 581.07L476.50 566.36L476.60 545.42L476.70 539.93L476.80 544.38L476.90 535.79L477.00 546.74L477.10 547.17L477.20 555.12L477.30 528.27L477.40 534.29L477.50 527.01L477.60 554.57L477.70 528.89L477.80 566.24L477.90 541.21L478.00 513.84L478.10 533.18L478.20 523.81L478.30 531.48L478.40 517.00L478.50 531.65L478.60 551.69L478.70 533.56L478.80 555.84L478.90 547.30L479.00 554.46L479.10 555.08L479.20 528.77L479.30 548.56L479.40 556.12L479.50 537.31L479.60 525.19L479.70 550.15L479.80 529.00L479.90 540.66L480.00 539.96L480.10 544.86L480.20 522.65L480.30 528.99L480.40 534.89L480.50 556.80L480.60 556.67L480.70 547.75L480.80 534.32L480.90 518.61L481.00 537.76L481.10 543.91L481.20 563.71L481.30 532.81L481.40 523.13L481.50 525.50L481.60 548.15L481.70 535.93L481.80 549.72L481.90 545.83L482.00 547.49L482.10 550.43L482.20 550.95L482.30 535.92L482.40 534.99L482.50 531.11L482.60 541.91L482.70 531.23L482.80 533.78L482.90 545.18L483.00 565.53L483.10 541.19L483.20 539.49L483.30 555.88L483.40 537.77L483.50 557.67L483.60 535.17L483.70 524.38L483.80 556.87L483.90 551.04L484.00 526.18L484.10 554.35L484.20 521.50L484.30 520.45L484.40 520.92L484.50 535.82L484.60 560.74L484.70 549.21L484.80 550.20L484.90 551.12L485.00 533.11L485.10 557.20L485.20 557.80L485.30 538.05L485.40 522.50L485.50 541.50L485.60 513.56L485.70 519.52L485.80 555.76L485.90 549.48L486.00 532.60L486.10 543.48L486.20 534.12L486.30 551.40L486.40 531.34L486.50 522.34L486.60 537.54L486.70 534.58L486.80 551.87L486.90 539.00L487.00 546.72L487.10 538.43L487.20 526.11L487.30 545.56L487.40 514.47L487.50 534.82L487.60 591.10L487.70 544.30L487.80 532.30L487.90 574.50L488.00 560.69L488.10 523.85L488.20 551.15L488.30 562.66L488.40 556.89L488.50 529.22L488.60 546.72L488.70 534.46L488.80 543.01L488.90 533.94L489.00 545.71L489.10 554.42L489.20 530.88L489.30 559.89L489.40 534.54L489.50 532.31L489.60 518.27L489.70 530.46L489.80 544.41L489.90 553.50L490.00 537.85L490.10 564.04L490.20 538.10L490.30 551.17L490.40 538.82L490.50 530.85L490.60 540.43L490.70 522.90L490.80 554.38L490.90 551.33L491.00 548.11L491.10 530.96L491.20 534.87L491.30 526.78L491.40 539.05L491.50 556.08L491.60 525.56L491.70 555.02L491.80 548.04L491.90 541.02L492.00 541.88L492.10 557.37L492.20 540.46L492.30 522.32L492.40 557.01L492.50 527.06L492.60 536.64L492.70 545.89L492.80 531.52L492.90 534.68L493.00 530.22L493.10 509.80L493.20 540.28L493.30 536.75L493.40 516.24L493.50 522.37L493.60 535.57L493.70 523.03L493.80 547.34L493.90 526.28L494.00 556.52L494.10 539.73L494.20 522.45L494.30 530.27L494.40 564.98L494.50 541.07L494.60 550.69L494.70 553.69L494.80 548.45L494.90 532.76L495.00 547.40L495.10 540.66L495.20 547.03L495.30 534.10L495.40 511.16L495.50 534.09L495.60 555.90L495.70 532.51L495.80 574.80L495.90 528.44L496.00 556.69L496.10 544.77L496.20 521.15L496.30 528.44L496.40 557.75L496.50 572.57L496.60 536.46L496.70 543.73L496.80 558.49L496.90 527.36L497.00 556.63L497.10 542.96L497.20 533.93L497.30 556.46L497.40 525.46L497.50 558.35L497.60 545.51L497.70 543.45L497.80 544.44L497.90 532.72L498.00 537.76L498.10 529.38L498.20 545.45L498.30 545.19L498.40 529.43L498.50 553.35L498.60 489.50L498.70 527.80L498.80 542.30L498.90 539.14L499.00 535.38L499.10 529.24L499.20 547.01L499.30 538.88L499.40 553.77L499.50 548.79L499.60 533.44L499.70 534.42L499.80 549.08L499.90 536.65L500.00 540.38L500.10 530.75L500.20 547.41L500.30 543.27L500.40 530.45L500.50 532.72L500.60 534.37L500.70 520.63L500.80 534.74L500.90 556.71L501.00 548.96L501.10 531.66L501.20 532.00L501.30 534.93L501.40 547.93L501.50 540.57L501.60 542.09L501.70 533.66L501.80 537.27L501.90 545.21L502.00 532.19L502.10 554.84L502.20 538.77L502.30 553.17L502.40 544.93L502.50 542.99L502.60 547.88L502.70 553.25L502.80 552.81L502.90 542.87L503.00 525.08L503.10 528.66L503.20 539.28L503.30 535.07L503.40 542.29L503.50 557.08L503.60 541.94L503.70 528.06L503.80 537.92L503.90 544.12L504.00 531.53L504.10 538.88L504.20 533.94L504.30 544.10L504.40 535.04L504.50 539.80L504.60 558.16L504.70 546.08L504.80 530.53L504.90 531.05L505.00 539.03L505.10 537.08L505.20 534.85L505.30 547.19L505.40 543.04L505.50 544.30L505.60 545.72L505.70 539.49L505.80 538.61L505.90 537.51L506.00 542.30L506.10 552.33L506.20 538.47L506.30 534.22L506.40 533.65L506.50 546.95L506.60 541.86L506.70 549.42L506.80 542.75L506.90 542.83L507.00 524.10L507.10 539.05L507.20 541.58L507.30 557.03L507.40 535.54L507.50 537.09L507.60 551.36L507.70 544.47L507.80 527.81L507.90 547.24L508.00 545.55L508.10 545.93L508.20 555.11L508.30 557.30L508.40 554.09L508.50 544.78L508.60 541.55L508.70 534.70L508.80 556.49L508.90 545.58L509.00 541.45L509.10 551.14L509.20 531.03L509.30 532.35L509.40 547.34L509.50 540.44L509.60 554.71L509.70 548.97L509.80 532.52L509.90 539.40L510.00 534.97L510.10 536.18L510.20 527.88L510.30 534.92L510.40 541.91L510.50 543.20L510.60 533.14L510.70 547.54L510.80 552.94L510.90 534.00L511.00 532.27L511.10 541.95L511.20 538.31L511.30 539.40L511.40 517.55L511.50 538.21L511.60 541.95L511.70 527.44L511.80 537.53L511.90 532.01L512.00 547.55L512.10 544.18L512.20 528.76L512.30 534.27L512.40 528.17L512.50 530.65L512.60 550.27L512.70 536.26L512.80 541.21L512.90 548.39L513.00 536.55L513.10 534.64L513.20 547.48L513.30 542.56L513.40 534.21L513.50 546.06L513.60 534.94L513.70 529.06L513.80 557.67L513.90 542.64L514.00 527.67L514.10 539.65L514.20 554.96L514.30 523.31L514.40 540.58L514.50 535.66L514.60 555.22L514.70 536.12L514.80 542.96L514.90 529.74L515.00 557.30L515.10 544.76L515.20 542.14L515.30 546.42L515.40 531.89L515.50 546.14L515.60 517.84L515.70 543.92L515.80 545.60L515.90 515.91L516.00 549.44L516.10 557.58L516.20 540.97L516.30 502.87L516.40 543.26L516.50 541.10L516.60 506.44L516.70 548.40L516.80 511.54L516.90 548.30L517.00 538.53L517.10 560.19L517.20 530.15L517.30 568.41L517.40 527.76L517.50 553.19L517.60 541.11L517.70 543.47L517.80 537.88L517.90 526.21L518.00 479.00L518.10 530.32L518.20 526.44L518.30 534.69L518.40 526.17L518.50 545.13L518.60 533.50L518.70 546.95L518.80 563.09L518.90 560.66L519.00 552.08L519.10 522.97L519.20 527.67L519.30 561.36L519.40 537.68L519.50 523.43L519.60 528.60L519.70 555.09L519.80 556.95L519.90 563.04L520.00 542.18L520.10 525.74L520.20 543.98L520.30 551.99L520.40 539.23L520.50 536.38L520.60 550.33L520.70 552.20L520.80 548.47L520.90 542.41L521.00 555.62L521.10 538.12L521.20 516.59L521.30 535.90L521.40 547.41L521.50 577.00L521.60 550.99L521.70 543.03L521.80 540.97L521.90 549.60L522.00 542.19L522.10 557.17L522.20 537.58L522.30 545.91L522.40 570.85L522.50 546.19L522.60 532.71L522.70 513.54L522.80 524.93L522.90 540.24L523.00 545.31L523.10 537.43L523.20 544.23L523.30 533.94L523.40 546.67L523.50 531.51L523.60 549.06L523.70 545.90L523.80 561.70L523.90 531.59L524.00 532.70L524.10 540.51L524.20 562.36L524.30 558.59L524.40 528.78L524.50 527.64L524.60 528.84L524.70 545.51L524.80 525.33L524.90 549.07L525.00 517.82L525.10 545.06L525.20 544.25L525.30 545.36L525.40 549.17L525.50 510.58L525.60 548.77L525.70 543.73L525.80 543.27L525.90 542.67L526.00 540.56L526.10 539.19L526.20 532.60L526.30 530.02L526.40 539.99L526.50 546.16L526.60 538.75L526.70 548.22L526.80 536.92L526.90 542.62L527.00 529.57L527.10 544.18L527.20 514.45L527.30 531.19L527.40 549.47L527.50 555.66L527.60 553.21L527.70 531.55L527.80 534.66L527.90 553.22L528.00 550.76L528.10 530.75L528.20 558.24L528.30 531.25L528.40 536.89L528.50 546.78L528.60 551.76L528.70 559.07L528.80 543.21L528.90 534.11L529.00 524.81L529.10 560.05L529.20 544.86L529.30 532.17L529.40 538.64L529.50 532.63L529.60 530.39L529.70 535.81L529.80 541.63L529.90 522.85L530.00 544.87L530.10 537.98L530.20 566.00L530.30 556.79L530.40 552.75L530.50 524.61L530.60 536.73L530.70 546.80L530.80 539.25L530.90 554.98L531.00 553.66L531.10 545.85L531.20 541.53L531.30 545.93L531.40 530.79L531.50 532.52L531.60 543.90L531.70 534.09L531.80 546.24L531.90 534.63L532.00 573.60L532.10 529.95L532.20 543.57L532.30 542.47L532.40 534.76L532.50 526.06L532.60 548.02L532.70 538.73L532.80 548.85L532.90 553.94L533.00 535.36L533.10 543.44L533.20 546.65L533.30 554.88L533.40 541.33L533.50 546.19L533.60 533.46L533.70 538.08L533.80 534.49L533.90 535.66L534.00 553.22L534.10 531.31L534.20 539.76L534.30 540.55L534.40 539.27L534.50 544.02L534.60 536.50L534.70 539.04L534.80 551.12L534.90 556.42L535.00 531.85L535.10 545.36L535.20 545.58L535.30 539.04L535.40 544.03L535.50 542.34L535.60 551.40L535.70 523.56L535.80 547.92L535.90 545.60L536.00 525.48L536.10 538.27L536.20 546.73L536.30 552.53L536.40 529.67L536.50 532.84L536.60 531.14L536.70 542.23L536.80 532.95L536.90 533.99L537.00 543.95L537.10 547.11L537.20 533.99L537.30 538.20L537.40 537.61L537.50 530.22L537.60 547.21L537.70 537.81L537.80 514.00L537.90 528.47L538.00 536.40L538.10 539.75L538.20 546.80L538.30 550.08L538.40 517.66L538.50 553.02L538.60 535.58L538.70 552.73L538.80 543.60L538.90 543.49L539.00 531.52L539.10 552.42L539.20 544.93L539.30 532.80L539.40 543.79L539.50 556.95L539.60 546.55L539.70 552.13L539.80 545.16L539.90 546.43L540.00 520.79L540.10 537.15L540.20 549.23L540.30 539.94L540.40 538.29L540.50 540.19L540.60 544.77L540.70 545.14L540.80 545.12L540.90 538.08L541.00 536.75L541.10 551.64L541.20 549.49L541.30 558.23L541.40 550.48L541.50 549.11L541.60 558.47L541.70 533.52L541.80 522.53L541.90 543.59L542.00 536.83L542.10 553.21L542.20 546.40L542.30 534.10L542.40 542.71L542.50 551.70L542.60 528.30L542.70 550.97L542.80 539.94L542.90 536.04L543.00 541.20L543.10 543.19L543.20 538.77L543.30 541.40L543.40 529.77L543.50 535.70L543.60 557.11L543.70 516.40L543.80 536.49L543.90 534.51L544.00 545.85L544.10 530.34L544.20 562.15L544.30 547.94L544.40 557.27L544.50 559.85L544.60 553.15L544.70 531.50L544.80 546.82L544.90 526.00L545.00 548.30L545.10 553.77L545.20 546.40L545.30 532.95L545.40 538.13L545.50 549.93L545.60 530.05L545.70 537.81L545.80 535.33L545.90 543.27L546.00 534.52L546.10 528.56L546.20 549.83L546.30 546.08L546.40 545.92L546.50 554.56L546.60 542.32L546.70 514.45L546.80 539.88L546.90 548.33L547.00 534.76L547.10 549.51L547.20 541.29L547.30 546.47L547.40 542.44L547.50 551.02L547.60 548.07L547.70 548.34L547.80 536.68L547.90 538.25L548.00 539.76L548.10 532.20L548.20 537.82L548.30 546.18L548.40 553.21L548.50 543.57L548.60 539.20L548.70 553.65L548.80 545.75L548.90 540.95L549.00 557.65L549.10 548.87L549.20 528.49L549.30 549.54L549.40 543.87L549.50 529.74L549.60 544.39L549.70 541.01L549.80 548.01L549.90 528.01L550.00 545.12L550.10 552.52L550.20 536.62L550.30 533.51L550.40 548.47L550.50 548.70L550.60 533.33L550.70 534.22L550.80 563.35L550.90 538.54L551.00 544.89L551.10 529.50L551.20 524.44L551.30 544.81L551.40 551.15L551.50 538.61L551.60 558.10L551.70 536.38L551.80 553.53L551.90 546.03L552.00 542.67L552.10 515.05L552.20 529.60L552.30 544.87L552.40 532.54L552.50 525.31L552.60 533.89L552.70 539.38L552.80 548.48L552.90 540.89L553.00 526.95L553.10 547.72L553.20 532.16L553.30 540.28L553.40 528.82L553.50 546.72L553.60 552.40L553.70 558.57L553.80 528.08L553.90 541.73L554.00 528.45L554.10 538.96L554.20 532.28L554.30 546.06L554.40 549.26L554.50 529.98L554.60 540.01L554.70 556.37L554.80 550.42L554.90 538.78L555.00 528.25L555.10 535.29L555.20 534.61L555.30 545.45L555.40 540.24L555.50 541.77L555.60 535.07L555.70 559.90L555.80 553.16L555.90 549.00L556.00 532.10L556.10 534.98L556.20 534.17L556.30 533.05L556.40 539.78L556.50 570.10L556.60 559.49L556.70 538.29L556.80 538.61L556.90 537.16L557.00 536.58L557.10 557.69L557.20 536.22L557.30 523.95L557.40 535.99L557.50 539.36L557.60 527.89L557.70 529.00L557.80 536.29L557.90 537.20L558.00 534.84L558.10 539.07L558.20 533.47L558.30 546.02L558.40 525.18L558.50 546.93L558.60 540.78L558.70 552.08L558.80 557.72L558.90 549.86L559.00 526.02L559.10 533.21L559.20 547.83L559.30 531.49L559.40 549.85L559.50 543.90L559.60 548.50L559.70 556.50L559.80 533.93L559.90 551.09L560.00 526.52L560.10 537.26L560.20 541.33L560.30 546.19L560.40 545.02L560.50 537.08L560.60 530.82L560.70 547.77L560.80 544.78L560.90 553.69L561.00 542.86L561.10 524.11L561.20 536.76L561.30 547.31L561.40 538.61L561.50 538.91L561.60 526.90L561.70 538.46L561.80 547.22L561.90 556.24L562.00 533.08L562.10 546.44L562.20 534.22L562.30 539.90L562.40 531.61L562.50 551.72L562.60 545.40L562.70 552.52L562.80 549.37L562.90 535.44L563.00 561.67L563.10 534.72L563.20 548.48L563.30 554.58L563.40 544.97L563.50 538.41L563.60 531.02L563.70 537.60L563.80 535.43L563.90 548.57L564.00 533.52L564.10 554.06L564.20 542.85L564.30 543.60L564.40 543.95L564.50 536.54L564.60 554.00L564.70 551.59L564.80 538.52L564.90 535.94L565.00 543.52L565.10 538.78L565.20 532.59L565.30 533.92L565.40 553.74L565.50 541.93L565.60 541.61L565.70 534.25L565.80 542.38L565.90 541.61L566.00 528.76L566.10 524.16L566.20 551.75L566.30 526.62L566.40 547.07L566.50 541.74L566.60 536.00L566.70 538.02L566.80 535.65L566.90 543.75L567.00 536.98L567.10 554.89L567.20 539.25L567.30 542.53L567.40 531.46L567.50 555.67L567.60 533.17L567.70 542.48L567.80 549.94L567.90 525.31L568.00 537.65L568.10 561.20L568.20 541.08L568.30 535.59L568.40 541.08L568.50 523.38L568.60 533.91L568.70 540.55L568.80 536.25L568.90 545.30L569.00 546.18L569.10 536.96L569.20 538.93L569.30 538.50L569.40 537.57L569.50 544.76L569.60 543.46L569.70 536.81L569.80 544.09L569.90 541.59L570.00 531.69L570.10 544.34L570.20 552.17L570.30 542.32L570.40 532.00L570.50 526.43L570.60 539.01L570.70 540.69L570.80 536.35L570.90 558.36L571.00 534.86L571.10 535.28L571.20 536.64L571.30 555.40L571.40 532.94L571.50 552.49L571.60 559.28L571.70 538.79L571.80 550.31L571.90 536.25L572.00 548.12L572.10 545.66L572.20 545.50L572.30 533.24L572.40 558.61L572.50 552.76L572.60 530.54L572.70 538.67L572.80 540.13L572.90 533.12L573.00 537.68L573.10 534.45L573.20 558.31L573.30 527.36L573.40 567.86L573.50 525.94L573.60 549.02L573.70 544.68L573.80 540.43L573.90 551.00L574.00 536.77L574.10 531.05L574.20 539.99L574.30 533.02L574.40 537.55L574.50 535.10L574.60 549.68L574.70 549.03L574.80 535.87L574.90 553.63L575.00 551.11L575.10 540.93L575.20 539.81L575.30 533.56L575.40 537.62L575.50 535.19L575.60 535.10L575.70 544.07L575.80 542.69L575.90 533.77L576.00 541.60L576.10 529.86L576.20 544.64L576.30 542.17L576.40 555.55L576.50 544.27L576.60 545.74L576.70 546.06L576.80 553.94L576.90 534.15L577.00 553.27L577.10 530.59L577.20 558.13L577.30 530.14L577.40 556.11L577.50 534.76L577.60 546.67L577.70 532.44L577.80 550.18L577.90 533.06L578.00 551.02L578.10 531.38L578.20 539.96L578.30 544.28L578.40 549.67L578.50 527.66L578.60 540.98L578.70 540.99L578.80 549.12L578.90 527.03L579.00 539.95L579.10 552.05L579.20 510.50L579.30 554.81L579.40 530.53L579.50 537.26L579.60 547.20L579.70 556.97L579.80 557.69L579.90 552.58L580.00 557.79L580.10 551.00L580.20 548.12L580.30 533.10L580.40 542.45L580.50 544.43L580.60 546.21L580.70 544.99L580.80 526.09L580.90 539.09L581.00 542.70L581.10 543.29L581.20 544.32L581.30 539.61L581.40 559.73L581.50 548.11L581.60 545.44L581.70 544.42L581.80 528.55L581.90 526.55L582.00 556.89L582.10 546.27L582.20 542.56L582.30 547.36L582.40 531.57L582.50 542.46L582.60 530.86L582.70 530.24L582.80 536.42L582.90 533.85L583.00 543.23L583.10 538.79L583.20 533.34L583.30 537.90L583.40 532.36L583.50 547.59L583.60 527.41L583.70 556.46L583.80 538.41L583.90 544.52L584.00 560.08L584.10 537.88L584.20 546.40L584.30 542.57L584.40 546.52L584.50 537.05L584.60 540.14L584.70 535.44L584.80 537.49L584.90 543.15L585.00 542.72L585.10 551.54L585.20 529.85L585.30 531.43L585.40 536.33L585.50 541.15L585.60 545.36L585.70 507.00L585.80 531.07L585.90 540.60L586.00 551.25L586.10 545.60L586.20 534.34L586.30 552.47L586.40 538.81L586.50 542.20L586.60 539.22L586.70 556.49L586.80 528.16L586.90 539.69L587.00 541.57L587.10 560.46L587.20 533.88L587.30 539.97L587.40 529.04L587.50 526.24L587.60 537.56L587.70 523.87L587.80 529.14L587.90 547.64L588.00 551.13L588.10 554.08L588.20 549.95L588.30 536.28L588.40 545.69L588.50 537.96L588.60 534.57L588.70 536.75L588.80 558.38L588.90 557.22L589.00 553.99L589.10 535.45L589.20 537.63L589.30 548.62L589.40 532.39L589.50 541.06L589.60 548.32L589.70 540.30L589.80 551.62L589.90 545.01L590.00 546.75L590.10 535.13L590.20 548.53L590.30 550.43L590.40 556.51L590.50 558.41L590.60 531.04L590.70 540.96L590.80 535.02L590.90 538.93L591.00 530.64L591.10 540.08L591.20 545.76L591.30 547.58L591.40 532.35L591.50 538.18L591.60 538.39L591.70 536.41L591.80 536.23L591.90 539.66L592.00 538.33L592.10 528.94L592.20 539.38L592.30 533.72L592.40 538.71L592.50 543.31L592.60 540.27L592.70 551.88L592.80 536.88L592.90 548.26L593.00 545.03L593.10 540.47L593.20 543.64L593.30 536.87L593.40 536.11L593.50 540.44L593.60 551.28L593.70 539.85L593.80 559.17L593.90 535.95L594.00 543.57L594.10 548.78L594.20 536.68L594.30 558.85L594.40 541.50L594.50 549.07L594.60 540.61L594.70 524.54L594.80 549.36L594.90 545.91L595.00 541.80L595.10 532.92L595.20 534.35L595.30 538.77L595.40 523.82L595.50 536.36L595.60 544.49L595.70 530.36L595.80 527.44L595.90 543.86L596.00 543.70L596.10 539.20L596.20 535.49L596.30 545.31L596.40 534.57L596.50 537.62L596.60 537.70L596.70 529.14L596.80 541.95L596.90 541.18L597.00 538.05L597.10 526.03L597.20 538.17L597.30 541.64L597.40 545.19L597.50 522.48L597.60 534.10L597.70 540.99L597.80 545.19L597.90 542.05L598.00 544.96L598.10 534.16L598.20 537.45L598.30 519.83L598.40 558.57L598.50 548.45L598.60 542.37L598.70 545.84L598.80 536.18L598.90 553.83L599.00 543.91L599.10 543.41L599.20 542.25L599.30 543.07L599.40 540.12L599.50 541.04L599.60 535.89L599.70 552.78L599.80 530.76L599.90 536.23L600.00 553.33L600.10 545.83L600.20 540.80L600.30 540.95L600.40 537.63L600.50 519.71L600.60 524.94L600.70 542.08L600.80 532.34L600.90 537.22L601.00 536.34L601.10 546.03L601.20 553.82L601.30 532.41L601.40 540.49L601.50 539.22L601.60 547.35L601.70 547.83L601.80 550.68L601.90 538.72L602.00 537.59L602.10 546.13L602.20 549.64L602.30 527.18L602.40 539.54L602.50 538.32L602.60 533.77L602.70 544.50L602.80 541.06L602.90 542.72L603.00 541.83L603.10 542.49L603.20 551.88L603.30 530.60L603.40 545.54L603.50 545.74L603.60 540.78L603.70 550.46L603.80 539.71L603.90 544.13L604.00 544.00L604.10 549.89L604.20 545.05L604.30 538.02L604.40 538.06L604.50 554.11L604.60 542.35L604.70 548.13L604.80 556.28L604.90 540.58L605.00 549.16L605.10 539.97L605.20 538.90L605.30 547.24L605.40 543.44L605.50 554.62L605.60 540.23L605.70 545.71L605.80 542.98L605.90 545.46L606.00 541.84L606.10 550.28L606.20 536.43L606.30 528.09L606.40 540.30L606.50 547.24L606.60 537.45L606.70 538.15L606.80 550.60L606.90 536.03L607.00 540.53L607.10 532.09L607.20 555.15L607.30 536.59L607.40 548.31L607.50 536.52L607.60 541.30L607.70 528.59L607.80 560.65L607.90 539.60L608.00 543.29L608.10 536.32L608.20 537.58L608.30 554.86L608.40 539.72L608.50 552.85L608.60 542.70L608.70 540.70L608.80 530.53L608.90 542.48L609.00 536.77L609.10 546.81L609.20 550.70L609.30 554.94L609.40 530.67L609.50 529.09L609.60 543.50L609.70 539.63L609.80 543.19L609.90 534.31L610.00 538.40L610.10 536.88L610.20 552.15L610.30 534.92L610.40 546.95L610.50 532.07L610.60 554.34L610.70 544.18L610.80 539.00L610.90 531.64L611.00 538.94L611.10 542.46L611.20 535.29L611.30 532.29L611.40 525.64L611.50 542.17L611.60 553.91L611.70 548.59L611.80 550.27L611.90 538.88L612.00 537.92L612.10 545.13L612.20 543.49L612.30 546.88L612.40 529.98L612.50 531.45L612.60 552.54L612.70 552.07L612.80 540.19L612.90 552.55L613.00 542.31L613.10 541.48L613.20 536.26L613.30 533.59L613.40 531.33L613.50 551.72L613.60 540.92L613.70 555.11L613.80 552.84L613.90 533.45L614.00 532.79L614.10 539.84L614.20 555.34L614.30 539.59L614.40 543.67L614.50 543.95L614.60 543.71L614.70 547.03L614.80 549.59L614.90 539.19L615.00 523.53L615.10 549.14L615.20 538.48L615.30 551.72L615.40 547.23L615.50 534.92L615.60 536.56L615.70 541.68L615.80 545.06L615.90 552.98L616.00 529.85L616.10 537.44L616.20 542.31L616.30 535.89L616.40 553.84L616.50 548.65L616.60 528.79L616.70 561.02L616.80 545.73L616.90 527.82L617.00 541.00L617.10 547.77L617.20 543.26L617.30 541.42L617.40 534.53L617.50 539.11L617.60 523.63L617.70 548.88L617.80 542.25L617.90 556.82L618.00 539.46L618.10 525.15L618.20 538.61L618.30 540.30L618.40 550.94L618.50 536.14L618.60 544.21L618.70 539.49L618.80 533.31L618.90 544.82L619.00 538.36L619.10 553.29L619.20 542.27L619.30 557.83L619.40 544.33L619.50 542.40L619.60 543.96L619.70 539.10L619.80 539.51L619.90 535.47L620.00 533.91L620.10 539.30L620.20 547.22L620.30 552.74L620.40 533.94L620.50 545.34L620.60 543.93L620.70 546.98L620.80 538.50L620.90 535.72L621.00 543.75L621.10 535.96L621.20 550.33L621.30 534.52L621.40 547.93L621.50 534.85L621.60 551.53L621.70 541.84L621.80 536.59L621.90 537.65L622.00 530.98L622.10 537.31L622.20 550.66L622.30 536.76L622.40 541.92L622.50 550.99L622.60 541.61L622.70 531.93L622.80 544.88L622.90 535.75L623.00 546.91L623.10 537.86L623.20 543.61L623.30 535.78L623.40 541.94L623.50 529.48L623.60 545.05L623.70 544.03L623.80 541.68L623.90 539.72L624.00 545.85L624.10 534.45L624.20 546.81L624.30 534.06L624.40 548.25L624.50 534.33L624.60 544.03L624.70 537.14L624.80 550.84L624.90 542.14L625.00 545.64L625.10 538.12L625.20 539.89L625.30 545.81L625.40 534.67L625.50 541.52L625.60 532.97L625.70 540.63L625.80 529.76L625.90 538.31L626.00 536.90L626.10 537.09L626.20 539.68L626.30 529.97L626.40 546.02L626.50 548.76L626.60 536.46L626.70 540.02L626.80 540.93L626.90 537.77L627.00 538.86L627.10 540.18L627.20 538.81L627.30 554.60L627.40 546.86L627.50 551.37L627.60 539.05L627.70 538.88L627.80 547.27L627.90 553.34L628.00 533.28L628.10 541.91L628.20 538.46L628.30 541.28L628.40 543.18L628.50 554.89L628.60 535.91L628.70 536.22L628.80 550.00L628.90 539.24L629.00 536.61L629.10 540.13L629.20 542.84L629.30 540.64L629.40 535.63L629.50 544.54L629.60 537.55L629.70 538.53L629.80 546.59L629.90 545.42L630.00 539.91L630.10 546.02L630.20 535.12L630.30 539.25L630.40 539.69L630.50 555.97L630.60 541.89L630.70 538.13L630.80 540.34L630.90 544.55L631.00 538.70L631.10 541.36L631.20 535.62L631.30 532.13L631.40 538.20L631.50 548.26L631.60 537.26L631.70 542.92L631.80 538.13L631.90 537.76L632.00 552.29L632.10 538.20L632.20 548.82L632.30 542.32L632.40 551.60L632.50 554.63L632.60 539.01L632.70 541.44L632.80 551.06L632.90 546.13L633.00 550.70L633.10 546.54L633.20 536.86L633.30 544.21L633.40 529.68L633.50 538.12L633.60 538.81L633.70 540.72L633.80 544.22L633.90 536.37L634.00 537.65L634.10 547.54L634.20 544.55L634.30 538.29L634.40 540.18L634.50 540.68L634.60 550.84L634.70 541.24L634.80 543.30L634.90 544.50L635.00 536.08L635.10 536.79L635.20 544.22L635.30 537.94L635.40 532.63L635.50 542.69L635.60 538.81L635.70 546.17L635.80 541.96L635.90 549.42L636.00 550.68L636.10 531.49L636.20 547.79L636.30 555.76L636.40 532.86L636.50 548.30L636.60 534.28L636.70 542.09L636.80 542.99L636.90 547.43L637.00 545.15L637.10 530.49L637.20 537.51L637.30 537.05L637.40 537.83L637.50 543.17L637.60 545.23L637.70 535.07L637.80 547.42L637.90 544.15L638.00 546.79L638.10 538.36L638.20 542.96L638.30 544.37L638.40 539.62L638.50 529.12L638.60 547.23L638.70 550.02L638.80 546.88L638.90 544.62L639.00 544.17L639.10 545.53L639.20 535.71L639.30 550.02L639.40 553.09L639.50 541.25L639.60 534.79L639.70 534.01L639.80 541.03L639.90 544.73L640.00 539.87L640.10 539.85L640.20 536.65L640.30 540.84L640.40 545.20L640.50 529.98L640.60 551.02L640.70 533.78L640.80 548.29L640.90 531.07L641.00 543.41L641.10 543.36L641.20 543.63L641.30 538.96L641.40 550.42L641.50 537.71L641.60 536.38L641.70 546.32L641.80 541.82L641.90 531.41L642.00 539.80L642.10 543.42L642.20 549.03L642.30 544.61L642.40 544.82L642.50 543.66L642.60 542.57L642.70 543.92L642.80 553.56L642.90 535.39L643.00 546.12L643.10 549.44L643.20 538.55L643.30 541.85L643.40 545.45L643.50 542.38L643.60 546.47L643.70 532.26L643.80 538.47L643.90 542.79L644.00 539.80L644.10 526.50L644.20 552.81L644.30 539.37L644.40 539.72L644.50 542.61L644.60 532.98L644.70 541.95L644.80 535.49L644.90 540.07L645.00 530.75L645.10 538.17L645.20 545.83L645.30 538.65L645.40 546.03L645.50 532.46L645.60 528.50L645.70 533.97L645.80 536.87L645.90 540.45L646.00 545.49L646.10 535.52L646.20 542.30L646.30 549.23L646.40 543.10L646.50 534.73L646.60 540.00L646.70 542.38L646.80 548.40L646.90 529.98L647.00 552.64L647.10 535.54L647.20 545.94L647.30 533.09L647.40 548.20L647.50 544.15L647.60 544.13L647.70 538.93L647.80 530.94L647.90 546.23L648.00 526.44L648.10 564.72L648.20 544.64L648.30 528.32L648.40 537.59L648.50 528.24L648.60 557.27L648.70 543.28L648.80 548.12L648.90 529.90L649.00 546.34L649.10 552.37L649.20 514.66L649.30 532.66L649.40 525.20L649.50 552.43L649.60 538.13L649.70 549.61L649.80 561.62L649.90 532.03L650.00 574.80L650.10 538.29L650.20 547.33L650.30 543.53L650.40 536.17L650.50 538.75L650.60 534.18L650.70 498.90L650.80 541.07L650.90 537.88L651.00 553.79L651.10 499.50L651.20 551.40L651.30 529.67L651.40 519.51L651.50 539.55L651.60 544.19L651.70 542.15L651.80 534.56L651.90 542.84L652.00 554.41L652.10 537.88L652.20 533.55L652.30 581.80L652.40 533.30L652.50 539.75L652.60 542.47L652.70 526.44L652.80 534.23L652.90 534.97L653.00 561.45L653.10 529.54L653.20 571.80L653.30 546.02L653.40 516.29L653.50 551.08L653.60 538.88L653.70 545.90L653.80 541.08L653.90 534.33L654.00 538.85L654.10 543.10L654.20 524.35L654.30 532.02L654.40 561.92L654.50 560.87L654.60 549.57L654.70 555.14L654.80 545.79L654.90 532.88L655.00 533.84L655.10 536.86L655.20 540.72L655.30 543.78L655.40 551.26L655.50 553.86L655.60 536.48L655.70 551.00L655.80 552.56L655.90 547.16L656.00 527.42L656.10 555.24L656.20 529.54L656.30 517.55L656.40 531.75L656.50 554.92L656.60 537.91L656.70 553.74L656.80 568.70L656.90 546.09L657.00 537.18L657.10 540.15L657.20 549.15L657.30 535.03L657.40 553.46L657.50 539.27L657.60 568.70L657.70 530.33L657.80 558.34L657.90 539.02L658.00 554.82L658.10 533.51L658.20 520.03L658.30 527.04L658.40 531.12L658.50 557.17L658.60 534.76L658.70 533.53L658.80 534.35L658.90 542.54L659.00 547.29L659.10 540.74L659.20 541.71L659.30 551.43L659.40 542.30L659.50 527.65L659.60 546.97L659.70 541.19L659.80 557.98L659.90 519.25L660.00 561.31L660.10 541.77L660.20 543.12L660.30 558.25L660.40 553.43L660.50 560.71L660.60 531.63L660.70 531.88L660.80 540.85L660.90 546.34L661.00 514.00L661.10 542.25L661.20 539.17L661.30 557.13L661.40 547.85L661.50 543.38L661.60 552.67L661.70 544.07L661.80 542.49L661.90 533.47L662.00 546.12L662.10 532.18L662.20 539.16L662.30 543.42L662.40 536.96L662.50 552.80L662.60 539.84L662.70 520.75L662.80 537.11L662.90 544.49L663.00 544.12L663.10 541.81L663.20 545.55L663.30 543.25L663.40 555.58L663.50 549.75L663.60 549.24L663.70 539.90L663.80 527.69L663.90 527.94L664.00 539.66L664.10 541.92L664.20 553.17L664.30 526.06L664.40 544.09L664.50 543.88L664.60 548.66L664.70 534.74L664.80 540.15L664.90 544.94L665.00 548.16L665.10 529.43L665.20 527.26L665.30 540.96L665.40 547.53L665.50 540.98L665.60 540.29L665.70 551.31L665.80 543.24L665.90 552.17L666.00 531.55L666.10 530.29L666.20 564.55L666.30 523.40L666.40 531.92L666.50 531.34L666.60 550.08L666.70 527.20L666.80 567.70L666.90 537.48L667.00 544.12L667.10 534.38L667.20 543.21L667.30 529.26L667.40 541.98L667.50 534.35L667.60 544.00L667.70 530.68L667.80 549.54L667.90 544.03L668.00 552.51L668.10 541.90L668.20 535.95L668.30 541.37L668.40 541.76L668.50 547.46L668.60 558.05L668.70 533.87L668.80 555.76L668.90 537.03L669.00 558.01L669.10 543.44L669.20 519.33L669.30 536.11L669.40 534.19L669.50 536.22L669.60 556.30L669.70 551.30L669.80 551.99L669.90 533.10L670.00 532.58L670.10 535.72L670.20 538.00L670.30 534.99L670.40 541.12L670.50 542.94L670.60 530.07L670.70 546.36L670.80 547.46L670.90 539.33L671.00 541.78L671.10 545.32L671.20 535.88L671.30 540.78L671.40 542.77L671.50 550.16L671.60 540.76L671.70 549.06L671.80 537.94L671.90 555.02L672.00 547.37L672.10 551.69L672.20 516.40L672.30 546.96L672.40 552.20L672.50 558.15L672.60 534.50L672.70 518.85L672.80 559.23L672.90 545.51L673.00 529.33L673.10 531.12L673.20 541.10L673.30 538.90L673.40 525.96L673.50 552.21L673.60 529.42L673.70 555.34L673.80 553.72L673.90 563.27L674.00 551.24L674.10 531.21L674.20 525.48L674.30 519.33L674.40 549.90L674.50 542.54L674.60 540.31L674.70 541.97L674.80 533.47L674.90 550.07L675.00 544.42L675.10 524.09L675.20 550.45L675.30 515.31L675.40 544.19L675.50 559.34L675.60 551.93L675.70 536.92L675.80 536.97L675.90 549.72L676.00 554.65L676.10 539.86L676.20 543.06L676.30 559.91L676.40 536.67L676.50 542.20L676.60 540.69L676.70 539.77L676.80 549.93L676.90 540.42L677.00 527.16L677.10 551.18L677.20 536.49L677.30 533.74L677.40 535.82L677.50 532.78L677.60 532.68L677.70 537.43L677.80 546.83L677.90 535.89L678.00 538.01L678.10 532.70L678.20 563.42L678.30 527.22L678.40 549.87L678.50 545.66L678.60 548.24L678.70 547.82L678.80 543.25L678.90 537.55L679.00 548.40L679.10 548.49L679.20 527.84L679.30 549.68L679.40 515.30L679.50 537.78L679.60 530.46L679.70 548.52L679.80 523.66L679.90 546.18L680.00 540.68L680.10 555.70L680.20 546.50L680.30 529.54L680.40 541.65L680.50 539.50L680.60 533.90L680.70 543.55L680.80 536.09L680.90 546.67L681.00 553.77L681.10 535.38L681.20 539.77L681.30 547.29L681.40 542.84L681.50 526.96L681.60 537.91L681.70 544.66L681.80 538.39L681.90 554.67L682.00 542.10L682.10 523.79L682.20 532.09L682.30 534.48L682.40 562.25L682.50 545.99L682.60 548.96L682.70 542.77L682.80 546.03L682.90 536.33L683.00 533.89L683.10 541.44L683.20 543.60L683.30 532.82L683.40 551.37L683.50 544.76L683.60 541.95" fill="none" stroke="#231f20" stroke-width="1.25" stroke-linejoin="round" clip-path="url(#clip3)"/>
<path d="M69.6 471.15V610.10H684.0" fill="none" stroke="#231f20" stroke-width="1.3"/>
<line x1="69.6" x2="74.19999999999999" y1="471.70" y2="471.70" stroke="#231f20" stroke-width="1.2"/>
<text x="52.3" y="476.90" text-anchor="end" class="t">0.03</text>
<line x1="69.6" x2="74.19999999999999" y1="517.80" y2="517.80" stroke="#231f20" stroke-width="1.2"/>
<text x="52.3" y="523.00" text-anchor="end" class="t">0.01</text>
<line x1="69.6" x2="74.19999999999999" y1="563.90" y2="563.90" stroke="#231f20" stroke-width="1.2"/>
<text x="52.3" y="569.10" text-anchor="end" class="t">-0.01</text>
<line x1="69.6" x2="74.19999999999999" y1="610.10" y2="610.10" stroke="#231f20" stroke-width="1.2"/>
<text x="52.3" y="615.30" text-anchor="end" class="t">-0.03</text>
<text x="69.80" y="634.30" text-anchor="middle" class="t">2006</text>
<line x1="110.63" x2="110.63" y1="610.10" y2="605.70" stroke="#231f20" stroke-width="1.3"/>
<text x="110.73" y="634.30" text-anchor="middle" class="t">2007</text>
<line x1="151.56" x2="151.56" y1="610.10" y2="605.70" stroke="#231f20" stroke-width="1.3"/>
<text x="151.66" y="634.30" text-anchor="middle" class="t">2008</text>
<line x1="192.49" x2="192.49" y1="610.10" y2="605.70" stroke="#231f20" stroke-width="1.3"/>
<text x="192.59" y="634.30" text-anchor="middle" class="t">2009</text>
<line x1="233.42" x2="233.42" y1="610.10" y2="605.70" stroke="#231f20" stroke-width="1.3"/>
<text x="233.52" y="634.30" text-anchor="middle" class="t">2010</text>
<line x1="274.35" x2="274.35" y1="610.10" y2="605.70" stroke="#231f20" stroke-width="1.3"/>
<text x="274.45" y="634.30" text-anchor="middle" class="t">2011</text>
<line x1="315.28" x2="315.28" y1="610.10" y2="605.70" stroke="#231f20" stroke-width="1.3"/>
<text x="315.38" y="634.30" text-anchor="middle" class="t">2012</text>
<line x1="356.21" x2="356.21" y1="610.10" y2="605.70" stroke="#231f20" stroke-width="1.3"/>
<text x="356.31" y="634.30" text-anchor="middle" class="t">2013</text>
<line x1="397.14" x2="397.14" y1="610.10" y2="605.70" stroke="#231f20" stroke-width="1.3"/>
<text x="397.24" y="634.30" text-anchor="middle" class="t">2014</text>
<line x1="438.07" x2="438.07" y1="610.10" y2="605.70" stroke="#231f20" stroke-width="1.3"/>
<text x="438.17" y="634.30" text-anchor="middle" class="t">2015</text>
<line x1="479.00" x2="479.00" y1="610.10" y2="605.70" stroke="#231f20" stroke-width="1.3"/>
<text x="479.10" y="634.30" text-anchor="middle" class="t">2016</text>
<line x1="519.93" x2="519.93" y1="610.10" y2="605.70" stroke="#231f20" stroke-width="1.3"/>
<text x="520.03" y="634.30" text-anchor="middle" class="t">2017</text>
<line x1="560.86" x2="560.86" y1="610.10" y2="605.70" stroke="#231f20" stroke-width="1.3"/>
<text x="560.96" y="634.30" text-anchor="middle" class="t">2018</text>
<line x1="601.79" x2="601.79" y1="610.10" y2="605.70" stroke="#231f20" stroke-width="1.3"/>
<text x="601.89" y="634.30" text-anchor="middle" class="t">2019</text>
<line x1="642.72" x2="642.72" y1="610.10" y2="605.70" stroke="#231f20" stroke-width="1.3"/>
<text x="642.82" y="634.30" text-anchor="middle" class="t">2020</text>
<text transform="translate(11.1 541.3) rotate(-90)" text-anchor="middle" class="y">EUR/USD (%)</text>
<line x1="112.2" x2="157.8" y1="661.8" y2="661.8" stroke="#231f20" stroke-width="1.5"/>
<text x="162.0" y="666.80" class="l">EUR/USD</text>
<line x1="249.35" x2="292.4" y1="661.8" y2="661.8" stroke="#231f20" stroke-width="1.85" stroke-linecap="round" stroke-dasharray="0.01 3.52"/>
<text x="299.0" y="666.80" class="l">EUR/USD(μ-3σ)</text>
<line x1="421.75" x2="465.2" y1="661.8" y2="661.8" stroke="#231f20" stroke-width="1.85" stroke-linecap="round" stroke-dasharray="0.01 3.52"/>
<text x="472.7" y="666.80" class="l">EUR/USD(μ+3σ)</text>
</g>
</svg>
</body>
</html>
